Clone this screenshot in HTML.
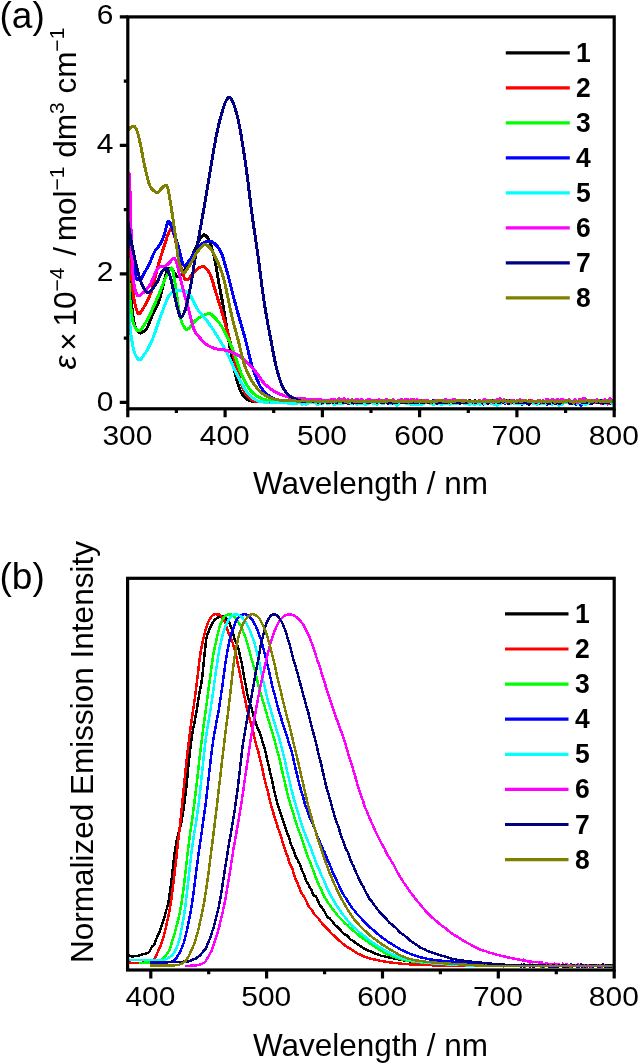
<!DOCTYPE html>
<html lang="en"><head><meta charset="utf-8"><title>Absorption and emission spectra</title>
<style>html,body{margin:0;padding:0;background:#fff}body{width:638px;height:1063px;overflow:hidden}svg{display:block;will-change:transform}text{font-family:"Liberation Sans",Arial,Helvetica,sans-serif;fill:#000}.tk{font-size:28px}.ttl{font-size:31.5px}.pl{font-size:37px}.lg{font-size:26.5px;font-weight:bold}.ax{stroke:#000;stroke-width:3.20;fill:none;stroke-linecap:butt}.ca{fill:none;stroke-width:3.00;stroke-linejoin:round;stroke-linecap:butt}.cb{fill:none;stroke-width:2.50;stroke-linejoin:round;stroke-linecap:butt}</style></head><body>
<svg width="638" height="1063" viewBox="0 0 638 1063">
<rect width="638" height="1063" fill="#fff"/>
<g id="panel-a">
<clipPath id="ca"><rect x="127.8" y="16.9" width="486.40000000000003" height="391.90000000000003"/></clipPath>
<g clip-path="url(#ca)" shape-rendering="crispEdges">
<path class="ca" stroke="#000000" d="M128.0,262.0 L128.5,269.5 L129.0,276.7 L129.5,283.5 L130.0,289.7 L130.5,295.2 L131.0,300.0 L131.5,304.3 L132.0,308.5 L132.5,312.5 L133.0,316.2 L133.5,319.5 L134.0,322.2 L134.5,324.5 L135.0,326.0 L135.5,327.2 L136.0,328.2 L136.5,329.2 L137.0,330.2 L137.5,331.0 L138.0,331.7 L138.5,332.2 L139.0,332.6 L139.5,332.9 L140.0,333.0 L140.5,333.0 L141.0,332.9 L141.5,332.7 L142.0,332.5 L142.5,332.2 L143.0,331.9 L143.5,331.5 L144.0,331.1 L144.5,330.7 L145.0,330.2 L145.5,329.7 L146.0,329.2 L146.5,328.7 L147.0,328.1 L147.5,327.2 L148.0,326.2 L148.5,325.0 L149.0,323.7 L149.5,322.3 L150.0,320.9 L150.5,319.6 L151.0,318.3 L151.5,317.2 L152.0,316.1 L152.5,315.0 L153.0,314.0 L153.5,313.0 L154.0,312.0 L154.5,311.0 L155.0,310.1 L155.5,309.1 L156.0,308.1 L156.5,307.0 L157.0,305.9 L157.5,304.8 L158.0,303.6 L158.5,302.3 L159.0,301.0 L159.5,299.5 L160.0,297.8 L160.5,296.0 L161.0,294.1 L161.5,292.0 L162.0,289.9 L162.5,287.8 L163.0,285.8 L163.5,283.8 L164.0,282.0 L164.5,280.1 L165.0,278.1 L165.5,275.9 L166.0,273.9 L166.5,272.1 L167.0,270.5 L167.5,269.5 L168.0,269.0 L168.5,268.9 L169.0,268.7 L169.5,268.6 L170.0,268.6 L170.5,268.5 L171.0,268.5 L171.5,268.7 L172.0,269.1 L172.5,269.8 L173.0,270.6 L173.5,271.3 L174.0,272.0 L174.5,272.7 L175.0,273.5 L175.5,274.3 L176.0,275.1 L176.5,275.8 L177.0,276.4 L177.5,276.9 L178.0,277.0 L178.5,276.9 L179.0,276.7 L179.5,276.3 L180.0,275.8 L180.5,275.3 L181.0,274.6 L181.5,274.0 L182.0,273.3 L182.5,272.6 L183.0,272.0 L183.5,271.4 L184.0,270.7 L184.5,270.0 L185.0,269.3 L185.5,268.6 L186.0,267.8 L186.5,267.0 L187.0,266.2 L187.5,265.3 L188.0,264.5 L188.5,263.6 L189.0,262.7 L189.5,261.8 L190.0,260.8 L190.5,259.7 L191.0,258.7 L191.5,257.6 L192.0,256.4 L192.5,255.3 L193.0,254.1 L193.5,252.9 L194.0,251.7 L194.5,250.6 L195.0,249.4 L195.5,248.3 L196.0,247.2 L196.5,246.1 L197.0,245.1 L197.5,244.0 L198.0,243.0 L198.5,241.9 L199.0,240.9 L199.5,239.9 L200.0,239.0 L200.5,238.2 L201.0,237.5 L201.5,236.9 L202.0,236.2 L202.5,235.7 L203.0,235.2 L203.5,234.9 L204.0,234.8 L204.5,234.9 L205.0,235.2 L205.5,235.5 L206.0,236.0 L206.5,236.5 L207.0,237.0 L207.5,237.6 L208.0,238.4 L208.5,239.3 L209.0,240.3 L209.5,241.5 L210.0,242.8 L210.5,244.2 L211.0,245.6 L211.5,247.2 L212.0,248.9 L212.5,250.6 L213.0,252.3 L213.5,254.2 L214.0,256.0 L214.5,258.1 L215.0,260.4 L215.5,263.1 L216.0,265.9 L216.5,268.9 L217.0,272.0 L217.5,275.1 L218.0,278.1 L218.5,281.0 L219.0,283.8 L219.5,286.5 L220.0,289.1 L220.5,291.7 L221.0,294.3 L221.5,296.9 L222.0,299.6 L222.5,302.3 L223.0,305.0 L223.5,307.8 L224.0,310.7 L224.5,313.7 L225.0,316.8 L225.5,319.9 L226.0,323.1 L226.5,326.3 L227.0,329.5 L227.5,332.7 L228.0,335.8 L228.5,338.9 L229.0,341.9 L229.5,344.8 L230.0,347.6 L230.5,350.3 L231.0,353.1 L231.5,355.8 L232.0,358.5 L232.5,361.1 L233.0,363.7 L233.5,366.2 L234.0,368.6 L234.5,370.9 L235.0,373.0 L235.5,375.0 L236.0,376.9 L236.5,378.7 L237.0,380.5 L237.5,382.3 L238.0,384.0 L238.5,385.6 L239.0,387.1 L239.5,388.5 L240.0,389.8 L240.5,391.0 L241.0,392.1 L241.5,393.0 L242.0,393.8 L242.5,394.6 L243.0,395.3 L243.5,396.0 L244.0,396.6 L244.5,397.1 L245.0,397.7 L245.5,398.1 L246.0,398.5 L246.5,398.9 L247.0,399.2 L247.5,399.6 L248.0,399.9 L248.5,400.2 L249.0,400.5 L249.5,400.7 L250.0,400.8 L250.5,401.0 L251.0,401.0 L251.5,401.1 L252.0,401.1 L252.5,401.1 L253.0,401.2 L253.5,401.2 L254.0,401.3 L254.5,401.3 L255.0,401.3 L255.5,401.3 L256.0,401.4 L256.5,401.4 L257.0,401.4 L257.5,401.4 L258.0,401.4 L258.5,401.5 L259.0,401.5 L259.5,401.5 L260.0,401.5 L260.5,401.5 L261.0,401.5 L261.5,401.5 L262.0,401.5 L263.0,401.6 L264.0,401.5 L265.0,401.3 L266.0,401.4 L267.0,401.4 L268.0,401.7 L269.0,402.0 L270.0,401.6 L271.0,401.6 L272.0,401.8 L273.0,401.9 L274.0,401.8 L275.0,401.6 L276.0,401.8 L277.0,401.9 L278.0,401.5 L279.0,401.5 L280.0,401.2 L281.0,401.2 L282.0,401.3 L283.0,401.6 L284.0,401.6 L285.0,401.9 L286.0,401.9 L287.0,401.7 L288.0,401.2 L289.0,401.6 L290.0,401.9 L291.0,401.8 L292.0,401.5 L293.0,401.6 L294.0,401.6 L295.0,401.7 L296.0,402.1 L297.0,401.8 L298.0,402.0 L299.0,402.1 L300.0,401.9 L301.0,401.9 L302.0,402.0 L303.0,401.9 L304.0,401.7 L305.0,402.0 L306.0,402.2 L307.0,401.8 L308.0,402.1 L309.0,402.0 L310.0,402.0 L311.0,402.5 L312.0,402.3 L313.0,401.7 L314.0,401.9 L315.0,402.1 L316.0,402.1 L317.0,402.2 L318.0,402.1 L319.0,402.3 L320.0,402.4 L321.0,402.0 L322.0,401.9 L323.0,401.9 L324.0,401.9 L325.0,401.6 L326.0,401.7 L327.0,402.0 L328.0,402.3 L329.0,402.3 L330.0,401.6 L331.0,401.7 L332.0,401.9 L333.0,401.4 L334.0,401.7 L335.0,402.0 L336.0,402.4 L337.0,402.3 L338.0,401.9 L339.0,401.8 L340.0,402.0 L341.0,402.4 L342.0,402.0 L343.0,401.9 L344.0,402.1 L345.0,402.0 L346.0,401.8 L347.0,401.6 L348.0,401.8 L349.0,402.0 L350.0,402.4 L351.0,402.3 L352.0,402.1 L353.0,402.2 L354.0,402.1 L355.0,402.3 L356.0,402.2 L357.0,402.0 L358.0,401.7 L359.0,401.8 L360.0,401.3 L361.0,401.1 L362.0,401.6 L363.0,401.7 L364.0,402.2 L365.0,402.7 L366.0,401.9 L367.0,401.7 L368.0,402.1 L369.0,402.2 L370.0,402.0 L371.0,402.0 L372.0,402.3 L373.0,402.1 L374.0,401.7 L375.0,401.9 L376.0,401.9 L377.0,401.7 L378.0,401.9 L379.0,401.8 L380.0,402.3 L381.0,402.2 L382.0,402.0 L383.0,401.8 L384.0,401.7 L385.0,401.2 L386.0,401.4 L387.0,401.8 L388.0,401.4 L389.0,401.8 L390.0,401.6 L391.0,402.0 L392.0,401.9 L393.0,402.2 L394.0,402.0 L395.0,401.6 L396.0,402.4 L397.0,402.6 L398.0,402.1 L399.0,401.9 L400.0,401.8 L401.0,401.8 L402.0,402.2 L403.0,401.9 L404.0,401.8 L405.0,401.6 L406.0,401.5 L407.0,401.6 L408.0,402.3 L409.0,402.2 L410.0,402.3 L411.0,402.0 L412.0,401.7 L413.0,401.7 L414.0,401.8 L415.0,401.9 L416.0,401.8 L417.0,401.7 L418.0,401.3 L419.0,401.7 L420.0,402.4 L421.0,401.8 L422.0,401.6 L423.0,402.2 L424.0,402.4 L425.0,401.6 L426.0,401.7 L427.0,401.5 L428.0,401.3 L429.0,402.1 L430.0,402.1 L431.0,401.9 L432.0,401.8 L433.0,402.0 L434.0,401.8 L435.0,401.7 L436.0,401.4 L437.0,401.6 L438.0,402.3 L439.0,402.0 L440.0,402.0 L441.0,402.0 L442.0,401.8 L443.0,401.8 L444.0,402.1 L445.0,401.9 L446.0,401.9 L447.0,402.1 L448.0,402.6 L449.0,402.5 L450.0,402.2 L451.0,401.6 L452.0,401.5 L453.0,402.3 L454.0,402.5 L455.0,402.1 L456.0,402.3 L457.0,402.5 L458.0,402.6 L459.0,402.4 L460.0,402.1 L461.0,402.4 L462.0,401.8 L463.0,402.3 L464.0,402.4 L465.0,402.7 L466.0,403.1 L467.0,402.7 L468.0,401.5 L469.0,401.2 L470.0,402.0 L471.0,401.7 L472.0,402.0 L473.0,402.1 L474.0,401.1 L475.0,400.9 L476.0,401.8 L477.0,402.0 L478.0,401.9 L479.0,401.9 L480.0,401.4 L481.0,401.2 L482.0,401.6 L483.0,401.3 L484.0,401.2 L485.0,402.0 L486.0,402.1 L487.0,402.0 L488.0,401.5 L489.0,401.4 L490.0,401.3 L491.0,401.5 L492.0,401.8 L493.0,401.7 L494.0,402.1 L495.0,402.5 L496.0,402.7 L497.0,401.8 L498.0,402.2 L499.0,402.1 L500.0,401.8 L501.0,401.3 L502.0,401.7 L503.0,402.3 L504.0,402.1 L505.0,402.0 L506.0,402.1 L507.0,402.5 L508.0,401.8 L509.0,400.9 L510.0,401.1 L511.0,400.5 L512.0,400.1 L513.0,401.5 L514.0,402.5 L515.0,402.0 L516.0,401.3 L517.0,401.6 L518.0,402.4 L519.0,402.3 L520.0,402.0 L521.0,402.0 L522.0,402.1 L523.0,402.5 L524.0,402.4 L525.0,402.0 L526.0,401.6 L527.0,402.0 L528.0,401.9 L529.0,402.2 L530.0,401.6 L531.0,401.7 L532.0,401.8 L533.0,401.6 L534.0,402.8 L535.0,402.9 L536.0,402.1 L537.0,402.4 L538.0,401.9 L539.0,400.8 L540.0,401.7 L541.0,402.0 L542.0,401.9 L543.0,401.4 L544.0,401.7 L545.0,402.1 L546.0,402.6 L547.0,402.4 L548.0,402.3 L549.0,402.7 L550.0,401.9 L551.0,401.4 L552.0,401.3 L553.0,402.6 L554.0,402.9 L555.0,402.7 L556.0,402.5 L557.0,402.2 L558.0,402.1 L559.0,401.9 L560.0,401.9 L561.0,402.2 L562.0,402.9 L563.0,402.5 L564.0,402.0 L565.0,401.6 L566.0,401.9 L567.0,402.8 L568.0,402.5 L569.0,402.1 L570.0,401.6 L571.0,401.4 L572.0,401.9 L573.0,402.4 L574.0,401.9 L575.0,401.8 L576.0,401.9 L577.0,401.7 L578.0,401.2 L579.0,401.5 L580.0,401.7 L581.0,402.2 L582.0,401.9 L583.0,402.4 L584.0,402.8 L585.0,402.0 L586.0,401.7 L587.0,402.0 L588.0,401.9 L589.0,401.6 L590.0,402.4 L591.0,403.1 L592.0,402.2 L593.0,401.7 L594.0,401.5 L595.0,401.8 L596.0,401.2 L597.0,401.4 L598.0,402.3 L599.0,401.9 L600.0,402.7 L601.0,403.1 L602.0,402.5 L603.0,402.7 L604.0,403.1 L605.0,402.1 L606.0,401.4 L607.0,401.2 L608.0,402.0 L609.0,403.0 L610.0,402.6 L611.0,401.5 L612.0,401.3 L613.0,401.6"/>
<path class="ca" stroke="#ff0000" d="M128.0,228.0 L128.5,236.0 L129.0,243.6 L129.5,250.9 L130.0,257.8 L130.5,264.2 L131.0,270.0 L131.5,275.6 L132.0,281.1 L132.5,286.5 L133.0,291.4 L133.5,295.7 L134.0,299.3 L134.5,302.0 L135.0,304.1 L135.5,306.1 L136.0,308.0 L136.5,309.7 L137.0,311.1 L137.5,312.3 L138.0,313.2 L138.5,313.6 L139.0,313.7 L139.5,313.5 L140.0,313.1 L140.5,312.6 L141.0,311.9 L141.5,311.2 L142.0,310.4 L142.5,309.5 L143.0,308.7 L143.5,307.8 L144.0,307.0 L144.5,306.2 L145.0,305.4 L145.5,304.6 L146.0,303.7 L146.5,302.8 L147.0,301.8 L147.5,300.8 L148.0,299.8 L148.5,298.7 L149.0,297.6 L149.5,296.4 L150.0,295.2 L150.5,293.8 L151.0,292.4 L151.5,290.8 L152.0,289.1 L152.5,287.4 L153.0,285.6 L153.5,283.7 L154.0,281.8 L154.5,279.8 L155.0,277.9 L155.5,275.9 L156.0,273.9 L156.5,271.9 L157.0,270.0 L157.5,268.1 L158.0,266.2 L158.5,264.4 L159.0,262.7 L159.5,261.0 L160.0,259.4 L160.5,257.7 L161.0,256.1 L161.5,254.5 L162.0,252.9 L162.5,251.3 L163.0,249.7 L163.5,248.1 L164.0,246.6 L164.5,245.0 L165.0,243.5 L165.5,242.0 L166.0,240.5 L166.5,238.9 L167.0,237.3 L167.5,235.8 L168.0,234.3 L168.5,233.1 L169.0,232.0 L169.5,231.0 L170.0,230.0 L170.5,229.3 L171.0,229.0 L171.5,229.2 L172.0,229.9 L172.5,230.8 L173.0,231.9 L173.5,233.0 L174.0,234.3 L174.5,236.0 L175.0,237.9 L175.5,240.1 L176.0,242.4 L176.5,244.8 L177.0,247.3 L177.5,249.7 L178.0,252.0 L178.5,254.4 L179.0,256.9 L179.5,259.6 L180.0,262.2 L180.5,264.8 L181.0,267.2 L181.5,269.3 L182.0,271.0 L182.5,272.6 L183.0,274.1 L183.5,275.6 L184.0,277.0 L184.5,278.2 L185.0,279.2 L185.5,279.8 L186.0,280.0 L186.5,279.9 L187.0,279.8 L187.5,279.5 L188.0,279.1 L188.5,278.7 L189.0,278.2 L189.5,277.7 L190.0,277.1 L190.5,276.6 L191.0,276.0 L191.5,275.5 L192.0,275.0 L192.5,274.5 L193.0,273.9 L193.5,273.3 L194.0,272.7 L194.5,272.1 L195.0,271.5 L195.5,270.8 L196.0,270.3 L196.5,269.7 L197.0,269.2 L197.5,268.8 L198.0,268.5 L198.5,268.2 L199.0,267.9 L199.5,267.7 L200.0,267.4 L200.5,267.2 L201.0,267.0 L201.5,266.8 L202.0,266.7 L202.5,266.6 L203.0,266.6 L203.5,266.7 L204.0,266.8 L204.5,267.1 L205.0,267.4 L205.5,267.9 L206.0,268.4 L206.5,268.9 L207.0,269.6 L207.5,270.2 L208.0,270.9 L208.5,271.7 L209.0,272.4 L209.5,273.2 L210.0,274.1 L210.5,275.2 L211.0,276.4 L211.5,277.9 L212.0,279.4 L212.5,281.0 L213.0,282.7 L213.5,284.5 L214.0,286.3 L214.5,288.0 L215.0,289.7 L215.5,291.4 L216.0,292.9 L216.5,294.5 L217.0,296.1 L217.5,297.7 L218.0,299.3 L218.5,301.0 L219.0,302.6 L219.5,304.2 L220.0,305.9 L220.5,307.6 L221.0,309.2 L221.5,310.9 L222.0,312.6 L222.5,314.3 L223.0,316.0 L223.5,317.7 L224.0,319.4 L224.5,321.2 L225.0,322.9 L225.5,324.6 L226.0,326.4 L226.5,328.2 L227.0,329.9 L227.5,331.7 L228.0,333.6 L228.5,335.4 L229.0,337.2 L229.5,339.1 L230.0,341.0 L230.5,342.9 L231.0,345.0 L231.5,347.0 L232.0,349.2 L232.5,351.3 L233.0,353.5 L233.5,355.7 L234.0,357.8 L234.5,360.0 L235.0,362.1 L235.5,364.1 L236.0,366.2 L236.5,368.1 L237.0,369.9 L237.5,371.7 L238.0,373.3 L238.5,375.0 L239.0,376.7 L239.5,378.3 L240.0,380.0 L240.5,381.6 L241.0,383.1 L241.5,384.6 L242.0,386.0 L242.5,387.4 L243.0,388.7 L243.5,389.9 L244.0,391.0 L244.5,391.9 L245.0,392.8 L245.5,393.6 L246.0,394.3 L246.5,395.0 L247.0,395.6 L247.5,396.2 L248.0,396.8 L248.5,397.3 L249.0,397.7 L249.5,398.1 L250.0,398.5 L250.5,398.8 L251.0,399.2 L251.5,399.5 L252.0,399.9 L252.5,400.2 L253.0,400.5 L253.5,400.8 L254.0,401.0 L254.5,401.2 L255.0,401.4 L255.5,401.5 L256.0,401.6 L256.5,401.6 L257.0,401.6 L257.5,401.6 L258.0,401.6 L258.5,401.6 L259.0,401.6 L259.5,401.6 L260.0,401.6 L260.5,401.6 L261.0,401.6 L261.5,401.6 L262.0,401.6 L262.5,401.6 L263.0,401.6 L263.5,401.6 L264.0,401.6 L264.5,401.5 L265.0,401.5 L265.5,401.5 L266.0,401.6 L267.0,401.5 L268.0,401.6 L269.0,401.6 L270.0,401.4 L271.0,401.5 L272.0,401.5 L273.0,401.5 L274.0,401.8 L275.0,402.1 L276.0,401.9 L277.0,401.4 L278.0,401.0 L279.0,401.3 L280.0,400.8 L281.0,401.0 L282.0,401.7 L283.0,401.8 L284.0,401.4 L285.0,400.9 L286.0,401.1 L287.0,401.3 L288.0,401.9 L289.0,402.3 L290.0,401.7 L291.0,401.2 L292.0,401.1 L293.0,401.3 L294.0,401.3 L295.0,401.1 L296.0,401.3 L297.0,401.3 L298.0,401.8 L299.0,402.1 L300.0,401.9 L301.0,401.5 L302.0,401.6 L303.0,401.5 L304.0,401.3 L305.0,401.2 L306.0,400.9 L307.0,401.0 L308.0,401.6 L309.0,401.5 L310.0,401.7 L311.0,401.7 L312.0,401.0 L313.0,401.1 L314.0,401.5 L315.0,401.6 L316.0,401.5 L317.0,401.8 L318.0,401.6 L319.0,401.0 L320.0,401.1 L321.0,401.7 L322.0,401.5 L323.0,401.1 L324.0,401.8 L325.0,402.0 L326.0,402.0 L327.0,401.5 L328.0,401.2 L329.0,401.4 L330.0,402.2 L331.0,401.9 L332.0,402.0 L333.0,401.5 L334.0,401.3 L335.0,400.9 L336.0,401.3 L337.0,401.7 L338.0,401.3 L339.0,401.8 L340.0,401.6 L341.0,401.1 L342.0,401.1 L343.0,401.3 L344.0,401.4 L345.0,401.2 L346.0,401.1 L347.0,401.2 L348.0,400.9 L349.0,400.9 L350.0,401.4 L351.0,401.6 L352.0,401.0 L353.0,401.2 L354.0,401.1 L355.0,401.2 L356.0,401.6 L357.0,401.6 L358.0,401.9 L359.0,401.4 L360.0,401.5 L361.0,401.4 L362.0,401.3 L363.0,401.6 L364.0,401.6 L365.0,401.7 L366.0,401.4 L367.0,401.1 L368.0,401.3 L369.0,401.6 L370.0,401.8 L371.0,401.3 L372.0,401.1 L373.0,400.9 L374.0,401.4 L375.0,400.9 L376.0,400.6 L377.0,401.4 L378.0,401.7 L379.0,400.9 L380.0,400.8 L381.0,400.9 L382.0,401.0 L383.0,401.4 L384.0,401.1 L385.0,401.2 L386.0,401.5 L387.0,401.3 L388.0,401.4 L389.0,401.0 L390.0,400.6 L391.0,400.8 L392.0,402.0 L393.0,401.7 L394.0,401.6 L395.0,401.5 L396.0,401.6 L397.0,401.8 L398.0,402.2 L399.0,401.1 L400.0,400.5 L401.0,400.7 L402.0,400.9 L403.0,401.7 L404.0,401.8 L405.0,401.0 L406.0,400.7 L407.0,401.3 L408.0,401.6 L409.0,400.6 L410.0,401.2 L411.0,401.3 L412.0,401.6 L413.0,401.1 L414.0,401.0 L415.0,400.7 L416.0,401.1 L417.0,402.1 L418.0,402.0 L419.0,401.3 L420.0,400.8 L421.0,400.5 L422.0,401.0 L423.0,401.4 L424.0,401.4 L425.0,401.3 L426.0,401.0 L427.0,401.3 L428.0,401.7 L429.0,402.4 L430.0,402.5 L431.0,401.6 L432.0,401.1 L433.0,401.3 L434.0,401.1 L435.0,401.1 L436.0,401.2 L437.0,401.1 L438.0,401.6 L439.0,401.6 L440.0,401.6 L441.0,401.3 L442.0,401.0 L443.0,400.9 L444.0,401.2 L445.0,401.2 L446.0,401.5 L447.0,401.3 L448.0,400.9 L449.0,401.1 L450.0,400.8 L451.0,400.9 L452.0,400.9 L453.0,400.5 L454.0,401.2 L455.0,401.6 L456.0,401.4 L457.0,401.2 L458.0,401.1 L459.0,400.9 L460.0,401.1 L461.0,401.2 L462.0,401.3 L463.0,401.0 L464.0,401.4 L465.0,401.6 L466.0,401.4 L467.0,401.3 L468.0,401.4 L469.0,400.8 L470.0,401.5 L471.0,401.7 L472.0,401.7 L473.0,401.6 L474.0,401.2 L475.0,401.4 L476.0,401.9 L477.0,401.9 L478.0,401.4 L479.0,400.9 L480.0,401.7 L481.0,402.4 L482.0,402.3 L483.0,401.5 L484.0,400.9 L485.0,401.7 L486.0,401.1 L487.0,400.2 L488.0,401.0 L489.0,400.6 L490.0,400.5 L491.0,401.2 L492.0,402.0 L493.0,401.6 L494.0,401.9 L495.0,402.7 L496.0,402.6 L497.0,401.7 L498.0,401.1 L499.0,400.7 L500.0,401.0 L501.0,401.7 L502.0,401.8 L503.0,401.8 L504.0,401.9 L505.0,401.3 L506.0,401.5 L507.0,402.0 L508.0,402.1 L509.0,402.3 L510.0,401.9 L511.0,401.5 L512.0,401.5 L513.0,400.7 L514.0,400.5 L515.0,401.5 L516.0,401.6 L517.0,401.3 L518.0,400.6 L519.0,400.9 L520.0,400.9 L521.0,400.5 L522.0,400.0 L523.0,401.1 L524.0,402.0 L525.0,401.8 L526.0,401.2 L527.0,401.5 L528.0,401.4 L529.0,400.1 L530.0,401.0 L531.0,401.9 L532.0,402.3 L533.0,402.8 L534.0,402.5 L535.0,402.0 L536.0,401.9 L537.0,401.9 L538.0,401.3 L539.0,401.5 L540.0,402.4 L541.0,402.8 L542.0,401.8 L543.0,401.5 L544.0,401.9 L545.0,402.3 L546.0,402.0 L547.0,402.2 L548.0,401.2 L549.0,401.2 L550.0,401.5 L551.0,402.1 L552.0,402.0 L553.0,400.6 L554.0,400.7 L555.0,401.4 L556.0,400.9 L557.0,400.7 L558.0,401.9 L559.0,402.1 L560.0,401.8 L561.0,401.5 L562.0,402.0 L563.0,401.8 L564.0,401.9 L565.0,401.0 L566.0,400.8 L567.0,401.3 L568.0,401.3 L569.0,401.8 L570.0,401.6 L571.0,401.0 L572.0,401.3 L573.0,401.5 L574.0,401.9 L575.0,401.2 L576.0,401.3 L577.0,402.6 L578.0,403.5 L579.0,403.2 L580.0,402.0 L581.0,402.0 L582.0,402.5 L583.0,401.5 L584.0,400.9 L585.0,401.5 L586.0,401.6 L587.0,400.7 L588.0,400.0 L589.0,400.4 L590.0,401.5 L591.0,401.1 L592.0,401.3 L593.0,401.7 L594.0,401.9 L595.0,401.5 L596.0,401.6 L597.0,401.0 L598.0,400.9 L599.0,401.0 L600.0,402.0 L601.0,401.6 L602.0,400.9 L603.0,401.1 L604.0,401.4 L605.0,401.6 L606.0,400.4 L607.0,400.4 L608.0,401.6 L609.0,403.3 L610.0,402.6 L611.0,401.8 L612.0,402.4 L613.0,403.0"/>
<path class="ca" stroke="#00ff00" d="M128.0,258.0 L128.5,270.9 L129.0,282.9 L129.5,293.0 L130.0,300.0 L130.5,304.9 L131.0,309.3 L131.5,313.2 L132.0,316.6 L132.5,319.4 L133.0,321.8 L133.5,323.7 L134.0,325.0 L134.5,326.0 L135.0,327.0 L135.5,327.9 L136.0,328.7 L136.5,329.4 L137.0,330.0 L137.5,330.5 L138.0,330.8 L138.5,331.0 L139.0,331.0 L139.5,330.9 L140.0,330.6 L140.5,330.2 L141.0,329.7 L141.5,329.1 L142.0,328.5 L142.5,327.7 L143.0,327.0 L143.5,326.2 L144.0,325.3 L144.5,324.5 L145.0,323.6 L145.5,322.8 L146.0,322.0 L146.5,321.2 L147.0,320.3 L147.5,319.4 L148.0,318.5 L148.5,317.5 L149.0,316.4 L149.5,315.4 L150.0,314.3 L150.5,313.2 L151.0,312.2 L151.5,311.1 L152.0,310.0 L152.5,308.9 L153.0,307.8 L153.5,306.7 L154.0,305.6 L154.5,304.5 L155.0,303.3 L155.5,302.2 L156.0,301.0 L156.5,299.8 L157.0,298.7 L157.5,297.5 L158.0,296.3 L158.5,295.2 L159.0,294.0 L159.5,292.8 L160.0,291.6 L160.5,290.4 L161.0,289.1 L161.5,287.8 L162.0,286.5 L162.5,285.2 L163.0,284.0 L163.5,282.7 L164.0,281.5 L164.5,280.3 L165.0,279.1 L165.5,278.0 L166.0,276.9 L166.5,275.9 L167.0,275.0 L167.5,274.1 L168.0,273.1 L168.5,272.1 L169.0,271.1 L169.5,270.2 L170.0,269.4 L170.5,268.7 L171.0,268.3 L171.5,268.0 L172.0,268.2 L172.5,269.4 L173.0,271.5 L173.5,274.1 L174.0,277.1 L174.5,280.1 L175.0,283.0 L175.5,286.0 L176.0,289.4 L176.5,293.2 L177.0,297.1 L177.5,301.0 L178.0,304.8 L178.5,308.4 L179.0,311.5 L179.5,314.1 L180.0,316.1 L180.5,318.0 L181.0,319.8 L181.5,321.4 L182.0,322.8 L182.5,324.0 L183.0,325.0 L183.5,325.9 L184.0,326.7 L184.5,327.6 L185.0,328.3 L185.5,328.8 L186.0,329.2 L186.5,329.4 L187.0,329.4 L187.5,329.2 L188.0,328.9 L188.5,328.6 L189.0,328.2 L189.5,327.7 L190.0,327.1 L190.5,326.5 L191.0,325.9 L191.5,325.2 L192.0,324.5 L192.5,323.9 L193.0,323.2 L193.5,322.6 L194.0,322.0 L194.5,321.4 L195.0,321.0 L195.5,320.6 L196.0,320.1 L196.5,319.7 L197.0,319.3 L197.5,318.9 L198.0,318.5 L198.5,318.1 L199.0,317.8 L199.5,317.4 L200.0,317.1 L200.5,316.8 L201.0,316.5 L201.5,316.2 L202.0,316.0 L202.5,315.8 L203.0,315.6 L203.5,315.3 L204.0,315.1 L204.5,314.9 L205.0,314.7 L205.5,314.5 L206.0,314.3 L206.5,314.2 L207.0,314.0 L207.5,313.9 L208.0,313.8 L208.5,313.7 L209.0,313.7 L209.5,313.7 L210.0,313.8 L210.5,314.0 L211.0,314.3 L211.5,314.6 L212.0,315.1 L212.5,315.5 L213.0,316.0 L213.5,316.5 L214.0,317.0 L214.5,317.5 L215.0,318.0 L215.5,318.5 L216.0,319.0 L216.5,319.5 L217.0,320.1 L217.5,320.7 L218.0,321.3 L218.5,321.9 L219.0,322.6 L219.5,323.3 L220.0,324.0 L220.5,324.7 L221.0,325.5 L221.5,326.2 L222.0,327.0 L222.5,327.9 L223.0,328.7 L223.5,329.6 L224.0,330.5 L224.5,331.5 L225.0,332.4 L225.5,333.4 L226.0,334.4 L226.5,335.4 L227.0,336.5 L227.5,337.5 L228.0,338.6 L228.5,339.7 L229.0,340.8 L229.5,341.9 L230.0,343.0 L230.5,344.2 L231.0,345.3 L231.5,346.4 L232.0,347.6 L232.5,348.8 L233.0,350.0 L233.5,351.4 L234.0,352.7 L234.5,354.1 L235.0,355.6 L235.5,357.1 L236.0,358.6 L236.5,360.1 L237.0,361.6 L237.5,363.1 L238.0,364.6 L238.5,366.1 L239.0,367.6 L239.5,369.0 L240.0,370.4 L240.5,371.8 L241.0,373.1 L241.5,374.4 L242.0,375.6 L242.5,376.7 L243.0,377.7 L243.5,378.7 L244.0,379.7 L244.5,380.6 L245.0,381.6 L245.5,382.5 L246.0,383.4 L246.5,384.3 L247.0,385.2 L247.5,386.0 L248.0,386.9 L248.5,387.6 L249.0,388.4 L249.5,389.1 L250.0,389.8 L250.5,390.5 L251.0,391.1 L251.5,391.6 L252.0,392.2 L252.5,392.6 L253.0,393.1 L253.5,393.5 L254.0,393.9 L254.5,394.3 L255.0,394.7 L255.5,395.0 L256.0,395.4 L256.5,395.7 L257.0,396.1 L257.5,396.4 L258.0,396.7 L258.5,397.0 L259.0,397.3 L259.5,397.6 L260.0,397.8 L260.5,398.1 L261.0,398.3 L261.5,398.5 L262.0,398.7 L262.5,398.9 L263.0,399.0 L263.5,399.2 L264.0,399.3 L264.5,399.4 L265.0,399.5 L265.5,399.6 L266.0,399.7 L266.5,399.9 L267.0,400.0 L267.5,400.1 L268.0,400.2 L268.5,400.3 L269.0,400.4 L269.5,400.4 L270.0,400.5 L270.5,400.6 L271.0,400.7 L271.5,400.8 L272.0,400.9 L272.5,400.9 L273.0,401.0 L273.5,401.1 L274.0,401.1 L274.5,401.2 L275.0,401.2 L275.5,401.3 L276.0,401.3 L276.5,401.4 L277.0,401.4 L277.5,401.4 L278.0,401.5 L278.5,401.5 L279.0,401.5 L279.5,401.5 L280.0,401.4 L281.0,401.5 L282.0,401.9 L283.0,401.9 L284.0,401.8 L285.0,401.7 L286.0,402.2 L287.0,402.3 L288.0,402.0 L289.0,401.8 L290.0,401.4 L291.0,401.7 L292.0,401.8 L293.0,401.9 L294.0,402.0 L295.0,401.6 L296.0,401.4 L297.0,401.7 L298.0,401.7 L299.0,401.7 L300.0,401.7 L301.0,401.5 L302.0,401.4 L303.0,402.0 L304.0,402.2 L305.0,402.4 L306.0,402.5 L307.0,401.9 L308.0,401.4 L309.0,401.4 L310.0,401.5 L311.0,401.7 L312.0,401.7 L313.0,401.5 L314.0,401.7 L315.0,401.6 L316.0,401.9 L317.0,401.9 L318.0,401.9 L319.0,401.9 L320.0,401.8 L321.0,401.6 L322.0,401.5 L323.0,402.0 L324.0,402.7 L325.0,402.8 L326.0,402.6 L327.0,402.2 L328.0,402.0 L329.0,402.3 L330.0,402.1 L331.0,401.9 L332.0,401.9 L333.0,401.9 L334.0,401.9 L335.0,401.8 L336.0,401.6 L337.0,402.0 L338.0,402.6 L339.0,402.2 L340.0,402.0 L341.0,402.2 L342.0,402.1 L343.0,401.7 L344.0,401.9 L345.0,402.3 L346.0,402.2 L347.0,402.2 L348.0,402.4 L349.0,402.0 L350.0,401.9 L351.0,402.0 L352.0,402.2 L353.0,401.5 L354.0,401.5 L355.0,401.8 L356.0,402.2 L357.0,402.4 L358.0,402.3 L359.0,401.7 L360.0,402.0 L361.0,401.9 L362.0,401.8 L363.0,402.0 L364.0,401.6 L365.0,401.2 L366.0,401.5 L367.0,401.4 L368.0,401.7 L369.0,402.1 L370.0,402.3 L371.0,402.5 L372.0,401.9 L373.0,401.4 L374.0,401.5 L375.0,401.5 L376.0,401.6 L377.0,401.9 L378.0,401.6 L379.0,401.4 L380.0,402.0 L381.0,402.1 L382.0,402.1 L383.0,402.1 L384.0,402.2 L385.0,402.2 L386.0,402.5 L387.0,402.3 L388.0,402.2 L389.0,402.0 L390.0,401.5 L391.0,401.8 L392.0,401.9 L393.0,401.9 L394.0,401.7 L395.0,402.4 L396.0,402.1 L397.0,401.4 L398.0,401.2 L399.0,401.7 L400.0,401.9 L401.0,401.8 L402.0,401.9 L403.0,401.9 L404.0,402.0 L405.0,401.8 L406.0,402.0 L407.0,402.6 L408.0,402.9 L409.0,401.9 L410.0,401.6 L411.0,401.7 L412.0,402.0 L413.0,401.6 L414.0,401.7 L415.0,401.8 L416.0,401.5 L417.0,401.5 L418.0,401.5 L419.0,401.0 L420.0,401.2 L421.0,401.7 L422.0,402.0 L423.0,401.7 L424.0,401.3 L425.0,401.7 L426.0,402.3 L427.0,402.3 L428.0,401.9 L429.0,401.7 L430.0,402.1 L431.0,401.7 L432.0,401.4 L433.0,401.7 L434.0,402.5 L435.0,402.4 L436.0,402.4 L437.0,402.1 L438.0,402.2 L439.0,401.9 L440.0,402.2 L441.0,403.0 L442.0,402.6 L443.0,401.9 L444.0,401.9 L445.0,402.3 L446.0,402.4 L447.0,401.7 L448.0,401.2 L449.0,401.7 L450.0,402.0 L451.0,402.2 L452.0,402.6 L453.0,402.4 L454.0,402.2 L455.0,401.8 L456.0,402.5 L457.0,403.1 L458.0,402.6 L459.0,402.2 L460.0,402.3 L461.0,402.6 L462.0,401.9 L463.0,401.9 L464.0,402.3 L465.0,402.3 L466.0,402.0 L467.0,402.0 L468.0,401.9 L469.0,402.0 L470.0,401.8 L471.0,401.5 L472.0,402.0 L473.0,402.2 L474.0,401.7 L475.0,401.9 L476.0,402.1 L477.0,401.7 L478.0,401.8 L479.0,401.7 L480.0,402.7 L481.0,403.4 L482.0,403.1 L483.0,402.3 L484.0,402.3 L485.0,402.2 L486.0,402.3 L487.0,402.5 L488.0,401.8 L489.0,402.3 L490.0,402.3 L491.0,402.6 L492.0,402.2 L493.0,401.8 L494.0,402.1 L495.0,402.4 L496.0,402.2 L497.0,402.1 L498.0,401.5 L499.0,401.1 L500.0,402.2 L501.0,402.5 L502.0,402.2 L503.0,402.2 L504.0,402.4 L505.0,401.8 L506.0,401.6 L507.0,402.0 L508.0,402.3 L509.0,401.7 L510.0,402.2 L511.0,401.7 L512.0,401.6 L513.0,402.4 L514.0,402.0 L515.0,401.3 L516.0,401.8 L517.0,402.6 L518.0,402.6 L519.0,402.0 L520.0,402.2 L521.0,402.3 L522.0,401.9 L523.0,402.1 L524.0,402.0 L525.0,401.7 L526.0,401.7 L527.0,402.0 L528.0,401.9 L529.0,401.7 L530.0,401.9 L531.0,402.5 L532.0,402.4 L533.0,402.6 L534.0,402.8 L535.0,402.8 L536.0,403.0 L537.0,402.1 L538.0,402.2 L539.0,402.3 L540.0,403.1 L541.0,402.8 L542.0,401.2 L543.0,401.3 L544.0,402.3 L545.0,402.6 L546.0,402.5 L547.0,402.2 L548.0,402.3 L549.0,402.4 L550.0,402.2 L551.0,402.1 L552.0,401.2 L553.0,401.8 L554.0,401.8 L555.0,402.3 L556.0,401.9 L557.0,401.6 L558.0,401.9 L559.0,401.5 L560.0,401.1 L561.0,401.1 L562.0,401.8 L563.0,402.4 L564.0,402.6 L565.0,402.3 L566.0,402.5 L567.0,402.2 L568.0,402.1 L569.0,402.5 L570.0,402.6 L571.0,402.0 L572.0,401.8 L573.0,401.9 L574.0,401.9 L575.0,401.7 L576.0,402.3 L577.0,402.0 L578.0,402.0 L579.0,401.7 L580.0,402.1 L581.0,402.2 L582.0,402.2 L583.0,403.0 L584.0,402.8 L585.0,403.2 L586.0,402.7 L587.0,401.8 L588.0,401.8 L589.0,402.2 L590.0,402.1 L591.0,402.0 L592.0,401.5 L593.0,401.0 L594.0,401.2 L595.0,400.9 L596.0,401.7 L597.0,401.6 L598.0,401.5 L599.0,401.8 L600.0,401.9 L601.0,401.0 L602.0,400.6 L603.0,400.8 L604.0,400.5 L605.0,401.4 L606.0,402.5 L607.0,401.8 L608.0,401.9 L609.0,401.4 L610.0,401.9 L611.0,401.9 L612.0,402.0 L613.0,402.3"/>
<path class="ca" stroke="#0000ff" d="M128.0,222.7 L128.5,227.3 L129.0,231.7 L129.5,235.9 L130.0,240.1 L130.5,244.0 L131.0,247.8 L131.5,251.5 L132.0,255.0 L132.5,258.4 L133.0,261.8 L133.5,265.0 L134.0,268.0 L134.5,270.7 L135.0,273.0 L135.5,275.1 L136.0,277.2 L136.5,278.9 L137.0,279.9 L137.5,280.0 L138.0,279.9 L138.5,279.9 L139.0,279.8 L139.5,279.6 L140.0,279.4 L140.5,279.2 L141.0,279.0 L141.5,278.6 L142.0,277.8 L142.5,276.9 L143.0,275.8 L143.5,274.7 L144.0,273.7 L144.5,272.8 L145.0,271.9 L145.5,271.0 L146.0,270.0 L146.5,269.1 L147.0,268.2 L147.5,267.2 L148.0,266.3 L148.5,265.3 L149.0,264.3 L149.5,263.3 L150.0,262.3 L150.5,261.2 L151.0,260.0 L151.5,258.8 L152.0,257.6 L152.5,256.3 L153.0,255.1 L153.5,254.0 L154.0,252.9 L154.5,251.9 L155.0,251.0 L155.5,250.2 L156.0,249.5 L156.5,248.9 L157.0,248.3 L157.5,247.8 L158.0,247.2 L158.5,246.5 L159.0,245.8 L159.5,245.0 L160.0,244.2 L160.5,243.3 L161.0,242.3 L161.5,241.4 L162.0,240.3 L162.5,239.3 L163.0,238.1 L163.5,237.0 L164.0,235.7 L164.5,234.2 L165.0,232.4 L165.5,230.3 L166.0,228.2 L166.5,226.1 L167.0,224.3 L167.5,222.8 L168.0,221.7 L168.5,221.2 L169.0,221.3 L169.5,221.9 L170.0,222.8 L170.5,223.9 L171.0,225.3 L171.5,226.7 L172.0,228.2 L172.5,229.7 L173.0,231.0 L173.5,232.3 L174.0,233.6 L174.5,235.0 L175.0,236.5 L175.5,237.9 L176.0,239.4 L176.5,240.9 L177.0,242.4 L177.5,244.0 L178.0,245.5 L178.5,247.2 L179.0,249.0 L179.5,251.1 L180.0,253.2 L180.5,255.3 L181.0,257.4 L181.5,259.4 L182.0,261.3 L182.5,262.9 L183.0,264.2 L183.5,265.2 L184.0,265.7 L184.5,265.8 L185.0,265.6 L185.5,265.3 L186.0,264.8 L186.5,264.3 L187.0,263.7 L187.5,263.0 L188.0,262.3 L188.5,261.6 L189.0,261.0 L189.5,260.4 L190.0,259.7 L190.5,258.9 L191.0,258.2 L191.5,257.4 L192.0,256.6 L192.5,255.8 L193.0,255.0 L193.5,254.2 L194.0,253.4 L194.5,252.7 L195.0,252.0 L195.5,251.3 L196.0,250.6 L196.5,250.0 L197.0,249.3 L197.5,248.6 L198.0,248.0 L198.5,247.3 L199.0,246.7 L199.5,246.0 L200.0,245.5 L200.5,244.9 L201.0,244.4 L201.5,244.0 L202.0,243.6 L202.5,243.3 L203.0,243.0 L203.5,242.8 L204.0,242.6 L204.5,242.3 L205.0,242.1 L205.5,242.0 L206.0,241.8 L206.5,241.6 L207.0,241.5 L207.5,241.3 L208.0,241.2 L208.5,241.1 L209.0,241.1 L209.5,241.0 L210.0,241.0 L210.5,241.0 L211.0,241.2 L211.5,241.4 L212.0,241.7 L212.5,242.0 L213.0,242.4 L213.5,242.8 L214.0,243.2 L214.5,243.6 L215.0,244.0 L215.5,244.4 L216.0,244.9 L216.5,245.4 L217.0,246.0 L217.5,246.6 L218.0,247.2 L218.5,247.9 L219.0,248.7 L219.5,249.5 L220.0,250.3 L220.5,251.2 L221.0,252.2 L221.5,253.4 L222.0,254.7 L222.5,256.1 L223.0,257.6 L223.5,259.2 L224.0,260.9 L224.5,262.6 L225.0,264.4 L225.5,266.2 L226.0,267.9 L226.5,269.7 L227.0,271.4 L227.5,273.2 L228.0,275.1 L228.5,277.0 L229.0,279.0 L229.5,281.0 L230.0,283.0 L230.5,285.1 L231.0,287.1 L231.5,289.1 L232.0,291.1 L232.5,293.1 L233.0,295.0 L233.5,296.9 L234.0,298.8 L234.5,300.6 L235.0,302.5 L235.5,304.3 L236.0,306.1 L236.5,308.0 L237.0,309.8 L237.5,311.6 L238.0,313.4 L238.5,315.2 L239.0,317.0 L239.5,318.8 L240.0,320.5 L240.5,322.3 L241.0,324.0 L241.5,325.7 L242.0,327.4 L242.5,329.1 L243.0,330.9 L243.5,332.6 L244.0,334.4 L244.5,336.2 L245.0,338.0 L245.5,339.9 L246.0,341.8 L246.5,343.9 L247.0,345.9 L247.5,348.0 L248.0,350.2 L248.5,352.3 L249.0,354.4 L249.5,356.5 L250.0,358.5 L250.5,360.5 L251.0,362.4 L251.5,364.2 L252.0,365.8 L252.5,367.4 L253.0,368.9 L253.5,370.3 L254.0,371.7 L254.5,373.1 L255.0,374.4 L255.5,375.8 L256.0,377.0 L256.5,378.3 L257.0,379.5 L257.5,380.7 L258.0,381.8 L258.5,382.9 L259.0,384.0 L259.5,385.0 L260.0,385.9 L260.5,386.8 L261.0,387.6 L261.5,388.3 L262.0,389.0 L262.5,389.6 L263.0,390.2 L263.5,390.8 L264.0,391.4 L264.5,392.0 L265.0,392.5 L265.5,393.0 L266.0,393.5 L266.5,394.0 L267.0,394.4 L267.5,394.8 L268.0,395.2 L268.5,395.6 L269.0,396.0 L269.5,396.3 L270.0,396.7 L270.5,397.0 L271.0,397.2 L271.5,397.5 L272.0,397.7 L272.5,398.0 L273.0,398.2 L273.5,398.5 L274.0,398.7 L274.5,399.0 L275.0,399.2 L275.5,399.4 L276.0,399.7 L276.5,399.9 L277.0,400.1 L277.5,400.3 L278.0,400.5 L278.5,400.7 L279.0,400.9 L279.5,401.0 L280.0,401.2 L280.5,401.3 L281.0,401.5 L281.5,401.6 L282.0,401.7 L282.5,401.8 L283.0,401.9 L283.5,401.9 L284.0,402.0 L284.5,402.0 L285.0,402.7 L286.0,402.3 L287.0,402.0 L288.0,401.8 L289.0,402.2 L290.0,402.3 L291.0,402.5 L292.0,402.5 L293.0,402.7 L294.0,401.7 L295.0,402.0 L296.0,402.6 L297.0,402.2 L298.0,402.0 L299.0,402.0 L300.0,401.8 L301.0,402.6 L302.0,403.6 L303.0,403.1 L304.0,402.0 L305.0,401.9 L306.0,402.3 L307.0,402.7 L308.0,402.2 L309.0,402.2 L310.0,402.9 L311.0,402.9 L312.0,402.3 L313.0,401.8 L314.0,401.6 L315.0,401.7 L316.0,401.6 L317.0,402.4 L318.0,402.4 L319.0,402.9 L320.0,403.6 L321.0,403.2 L322.0,402.3 L323.0,402.9 L324.0,403.1 L325.0,402.3 L326.0,402.0 L327.0,402.1 L328.0,402.1 L329.0,402.6 L330.0,401.6 L331.0,401.7 L332.0,402.3 L333.0,402.5 L334.0,402.7 L335.0,402.7 L336.0,402.7 L337.0,402.7 L338.0,401.8 L339.0,402.1 L340.0,402.3 L341.0,402.6 L342.0,402.6 L343.0,402.1 L344.0,402.3 L345.0,402.9 L346.0,402.8 L347.0,402.6 L348.0,403.8 L349.0,403.8 L350.0,402.3 L351.0,402.9 L352.0,404.0 L353.0,403.4 L354.0,402.8 L355.0,402.4 L356.0,402.3 L357.0,402.3 L358.0,402.4 L359.0,402.8 L360.0,402.5 L361.0,402.1 L362.0,401.9 L363.0,402.2 L364.0,402.1 L365.0,402.5 L366.0,403.1 L367.0,403.0 L368.0,403.0 L369.0,402.9 L370.0,402.7 L371.0,402.5 L372.0,402.5 L373.0,402.7 L374.0,402.4 L375.0,403.1 L376.0,402.7 L377.0,402.1 L378.0,402.1 L379.0,402.2 L380.0,402.4 L381.0,402.5 L382.0,402.9 L383.0,402.0 L384.0,401.1 L385.0,401.5 L386.0,401.4 L387.0,402.4 L388.0,403.3 L389.0,402.9 L390.0,401.9 L391.0,402.3 L392.0,403.5 L393.0,403.1 L394.0,402.8 L395.0,403.6 L396.0,404.4 L397.0,403.8 L398.0,403.0 L399.0,402.9 L400.0,402.9 L401.0,402.2 L402.0,401.9 L403.0,402.3 L404.0,402.1 L405.0,402.4 L406.0,403.1 L407.0,403.8 L408.0,402.5 L409.0,402.3 L410.0,402.6 L411.0,403.0 L412.0,403.2 L413.0,402.4 L414.0,401.7 L415.0,401.3 L416.0,401.9 L417.0,402.7 L418.0,402.5 L419.0,402.0 L420.0,402.2 L421.0,402.6 L422.0,402.8 L423.0,402.3 L424.0,402.0 L425.0,401.3 L426.0,401.9 L427.0,402.9 L428.0,401.6 L429.0,402.0 L430.0,402.6 L431.0,402.3 L432.0,402.0 L433.0,402.4 L434.0,402.6 L435.0,402.2 L436.0,401.4 L437.0,402.0 L438.0,401.9 L439.0,402.1 L440.0,402.8 L441.0,403.2 L442.0,403.2 L443.0,402.7 L444.0,403.3 L445.0,403.7 L446.0,403.8 L447.0,403.7 L448.0,402.8 L449.0,402.6 L450.0,402.8 L451.0,402.0 L452.0,402.3 L453.0,402.2 L454.0,401.9 L455.0,401.2 L456.0,401.7 L457.0,402.6 L458.0,403.4 L459.0,403.4 L460.0,402.7 L461.0,402.3 L462.0,402.1 L463.0,402.6 L464.0,402.7 L465.0,403.3 L466.0,403.9 L467.0,402.6 L468.0,401.4 L469.0,401.4 L470.0,401.2 L471.0,401.8 L472.0,403.2 L473.0,402.7 L474.0,401.8 L475.0,403.0 L476.0,403.5 L477.0,402.5 L478.0,402.0 L479.0,402.3 L480.0,402.9 L481.0,403.4 L482.0,403.8 L483.0,404.0 L484.0,404.0 L485.0,403.9 L486.0,403.0 L487.0,401.7 L488.0,402.2 L489.0,402.7 L490.0,402.6 L491.0,403.1 L492.0,402.3 L493.0,402.2 L494.0,403.5 L495.0,403.4 L496.0,403.1 L497.0,403.5 L498.0,403.6 L499.0,402.5 L500.0,400.8 L501.0,401.4 L502.0,401.9 L503.0,401.8 L504.0,402.8 L505.0,403.4 L506.0,402.3 L507.0,402.2 L508.0,403.7 L509.0,402.5 L510.0,401.7 L511.0,402.6 L512.0,402.8 L513.0,402.4 L514.0,402.9 L515.0,402.2 L516.0,401.9 L517.0,402.7 L518.0,403.1 L519.0,402.4 L520.0,402.7 L521.0,403.3 L522.0,404.5 L523.0,403.1 L524.0,403.4 L525.0,402.9 L526.0,402.7 L527.0,403.3 L528.0,403.8 L529.0,403.8 L530.0,403.0 L531.0,402.1 L532.0,402.2 L533.0,403.0 L534.0,403.5 L535.0,403.9 L536.0,403.5 L537.0,403.9 L538.0,404.1 L539.0,402.7 L540.0,401.2 L541.0,401.0 L542.0,401.6 L543.0,403.2 L544.0,402.7 L545.0,403.5 L546.0,403.8 L547.0,404.3 L548.0,403.8 L549.0,402.7 L550.0,402.4 L551.0,402.7 L552.0,402.6 L553.0,402.2 L554.0,402.9 L555.0,403.4 L556.0,401.8 L557.0,402.1 L558.0,402.0 L559.0,402.7 L560.0,403.3 L561.0,403.0 L562.0,402.8 L563.0,401.8 L564.0,402.9 L565.0,402.6 L566.0,403.0 L567.0,402.2 L568.0,400.4 L569.0,401.4 L570.0,403.0 L571.0,404.0 L572.0,403.3 L573.0,402.5 L574.0,401.9 L575.0,403.9 L576.0,404.5 L577.0,403.1 L578.0,402.0 L579.0,401.5 L580.0,403.6 L581.0,405.3 L582.0,404.3 L583.0,404.0 L584.0,403.1 L585.0,402.3 L586.0,403.1 L587.0,401.9 L588.0,402.2 L589.0,403.0 L590.0,403.5 L591.0,403.3 L592.0,402.8 L593.0,401.7 L594.0,401.3 L595.0,402.1 L596.0,401.6 L597.0,400.9 L598.0,401.0 L599.0,401.3 L600.0,400.5 L601.0,400.5 L602.0,400.9 L603.0,402.4 L604.0,403.6 L605.0,404.0 L606.0,401.7 L607.0,401.8 L608.0,403.1 L609.0,402.6 L610.0,402.7 L611.0,403.9 L612.0,402.5 L613.0,401.5"/>
<path class="ca" stroke="#00ffff" d="M128.0,300.0 L128.5,307.2 L129.0,314.0 L129.5,320.4 L130.0,326.1 L130.5,331.0 L131.0,335.0 L131.5,338.3 L132.0,341.5 L132.5,344.3 L133.0,346.9 L133.5,349.2 L134.0,351.2 L134.5,352.8 L135.0,354.0 L135.5,355.0 L136.0,356.0 L136.5,356.9 L137.0,357.7 L137.5,358.5 L138.0,359.1 L138.5,359.5 L139.0,359.9 L139.5,360.0 L140.0,359.9 L140.5,359.7 L141.0,359.2 L141.5,358.6 L142.0,358.0 L142.5,357.2 L143.0,356.5 L143.5,355.7 L144.0,355.0 L144.5,354.3 L145.0,353.6 L145.5,352.8 L146.0,352.0 L146.5,351.2 L147.0,350.4 L147.5,349.5 L148.0,348.6 L148.5,347.7 L149.0,346.7 L149.5,345.8 L150.0,344.8 L150.5,343.7 L151.0,342.7 L151.5,341.6 L152.0,340.4 L152.5,339.2 L153.0,337.9 L153.5,336.6 L154.0,335.2 L154.5,333.8 L155.0,332.3 L155.5,330.9 L156.0,329.4 L156.5,327.9 L157.0,326.4 L157.5,324.9 L158.0,323.4 L158.5,322.0 L159.0,320.6 L159.5,319.2 L160.0,317.8 L160.5,316.5 L161.0,315.2 L161.5,313.9 L162.0,312.6 L162.5,311.2 L163.0,309.9 L163.5,308.5 L164.0,307.1 L164.5,305.8 L165.0,304.4 L165.5,303.1 L166.0,301.9 L166.5,300.6 L167.0,299.5 L167.5,298.4 L168.0,297.4 L168.5,296.4 L169.0,295.6 L169.5,294.9 L170.0,294.2 L170.5,293.7 L171.0,293.2 L171.5,292.7 L172.0,292.2 L172.5,291.8 L173.0,291.4 L173.5,291.1 L174.0,290.9 L174.5,290.6 L175.0,290.5 L175.5,290.4 L176.0,290.3 L176.5,290.2 L177.0,290.1 L177.5,290.1 L178.0,290.0 L178.5,290.0 L179.0,290.0 L179.5,290.0 L180.0,290.1 L180.5,290.1 L181.0,290.2 L181.5,290.3 L182.0,290.4 L182.5,290.6 L183.0,290.7 L183.5,290.9 L184.0,291.0 L184.5,291.2 L185.0,291.4 L185.5,291.6 L186.0,291.9 L186.5,292.2 L187.0,292.5 L187.5,292.8 L188.0,293.2 L188.5,293.6 L189.0,294.0 L189.5,294.5 L190.0,295.1 L190.5,295.8 L191.0,296.6 L191.5,297.4 L192.0,298.3 L192.5,299.3 L193.0,300.3 L193.5,301.3 L194.0,302.4 L194.5,303.4 L195.0,304.5 L195.5,305.5 L196.0,306.5 L196.5,307.5 L197.0,308.4 L197.5,309.2 L198.0,310.0 L198.5,310.7 L199.0,311.4 L199.5,312.1 L200.0,312.7 L200.5,313.3 L201.0,313.9 L201.5,314.5 L202.0,315.1 L202.5,315.7 L203.0,316.2 L203.5,316.8 L204.0,317.4 L204.5,318.0 L205.0,318.5 L205.5,319.1 L206.0,319.7 L206.5,320.3 L207.0,321.0 L207.5,321.6 L208.0,322.3 L208.5,323.0 L209.0,323.6 L209.5,324.3 L210.0,325.1 L210.5,325.8 L211.0,326.5 L211.5,327.2 L212.0,328.0 L212.5,328.7 L213.0,329.5 L213.5,330.3 L214.0,331.0 L214.5,331.8 L215.0,332.6 L215.5,333.4 L216.0,334.2 L216.5,335.0 L217.0,335.8 L217.5,336.6 L218.0,337.4 L218.5,338.2 L219.0,339.0 L219.5,339.9 L220.0,340.7 L220.5,341.5 L221.0,342.4 L221.5,343.2 L222.0,344.1 L222.5,344.9 L223.0,345.8 L223.5,346.7 L224.0,347.6 L224.5,348.5 L225.0,349.4 L225.5,350.3 L226.0,351.2 L226.5,352.1 L227.0,353.1 L227.5,354.0 L228.0,355.0 L228.5,356.0 L229.0,357.0 L229.5,358.1 L230.0,359.1 L230.5,360.2 L231.0,361.4 L231.5,362.5 L232.0,363.6 L232.5,364.8 L233.0,365.9 L233.5,367.1 L234.0,368.2 L234.5,369.3 L235.0,370.4 L235.5,371.5 L236.0,372.6 L236.5,373.6 L237.0,374.6 L237.5,375.6 L238.0,376.6 L238.5,377.5 L239.0,378.4 L239.5,379.4 L240.0,380.3 L240.5,381.3 L241.0,382.2 L241.5,383.1 L242.0,384.1 L242.5,385.0 L243.0,385.8 L243.5,386.7 L244.0,387.6 L244.5,388.4 L245.0,389.2 L245.5,390.0 L246.0,390.8 L246.5,391.5 L247.0,392.2 L247.5,392.8 L248.0,393.5 L248.5,394.1 L249.0,394.6 L249.5,395.1 L250.0,395.6 L250.5,396.1 L251.0,396.6 L251.5,397.0 L252.0,397.4 L252.5,397.8 L253.0,398.2 L253.5,398.6 L254.0,398.9 L254.5,399.2 L255.0,399.5 L255.5,399.8 L256.0,400.0 L256.5,400.3 L257.0,400.6 L257.5,400.8 L258.0,401.0 L258.5,401.2 L259.0,401.4 L259.5,401.5 L260.0,401.6 L260.5,401.7 L261.0,401.7 L261.5,401.8 L262.0,401.9 L262.5,401.9 L263.0,402.0 L263.5,402.0 L264.0,402.1 L264.5,402.1 L265.0,402.2 L265.5,402.2 L266.0,402.3 L266.5,402.3 L267.0,402.3 L267.5,402.4 L268.0,402.4 L268.5,402.4 L269.0,402.4 L269.5,402.5 L270.0,402.5 L270.5,402.5 L271.0,402.5 L271.5,402.5 L272.0,402.0 L273.0,402.5 L274.0,402.6 L275.0,401.9 L276.0,402.1 L277.0,402.9 L278.0,403.0 L279.0,402.7 L280.0,403.0 L281.0,402.9 L282.0,402.1 L283.0,402.5 L284.0,402.9 L285.0,402.4 L286.0,401.8 L287.0,402.6 L288.0,403.5 L289.0,403.5 L290.0,402.6 L291.0,403.7 L292.0,403.0 L293.0,403.5 L294.0,403.9 L295.0,403.7 L296.0,403.1 L297.0,402.7 L298.0,403.1 L299.0,402.5 L300.0,402.2 L301.0,404.1 L302.0,404.2 L303.0,403.9 L304.0,403.2 L305.0,403.9 L306.0,404.4 L307.0,404.1 L308.0,403.2 L309.0,402.5 L310.0,402.5 L311.0,401.8 L312.0,402.0 L313.0,402.8 L314.0,402.7 L315.0,402.9 L316.0,403.4 L317.0,404.3 L318.0,404.1 L319.0,403.6 L320.0,403.6 L321.0,402.9 L322.0,403.0 L323.0,403.4 L324.0,402.7 L325.0,402.6 L326.0,402.5 L327.0,403.3 L328.0,403.9 L329.0,403.1 L330.0,403.0 L331.0,402.6 L332.0,402.2 L333.0,402.6 L334.0,404.1 L335.0,404.8 L336.0,403.7 L337.0,403.0 L338.0,403.4 L339.0,403.3 L340.0,403.6 L341.0,403.5 L342.0,403.5 L343.0,403.5 L344.0,402.9 L345.0,402.6 L346.0,402.1 L347.0,402.4 L348.0,402.3 L349.0,402.7 L350.0,402.7 L351.0,403.2 L352.0,403.2 L353.0,402.3 L354.0,402.3 L355.0,402.7 L356.0,403.8 L357.0,404.5 L358.0,403.9 L359.0,403.4 L360.0,403.7 L361.0,402.9 L362.0,403.6 L363.0,402.6 L364.0,402.0 L365.0,404.5 L366.0,404.4 L367.0,402.9 L368.0,403.1 L369.0,403.1 L370.0,402.9 L371.0,402.2 L372.0,402.6 L373.0,403.4 L374.0,403.7 L375.0,404.0 L376.0,403.9 L377.0,404.5 L378.0,403.3 L379.0,402.8 L380.0,401.9 L381.0,402.3 L382.0,403.6 L383.0,403.0 L384.0,403.3 L385.0,403.1 L386.0,402.5 L387.0,402.7 L388.0,402.7 L389.0,402.9 L390.0,403.7 L391.0,403.6 L392.0,402.8 L393.0,402.6 L394.0,403.2 L395.0,403.4 L396.0,404.4 L397.0,405.3 L398.0,404.3 L399.0,403.3 L400.0,402.9 L401.0,402.4 L402.0,402.2 L403.0,402.3 L404.0,402.6 L405.0,403.0 L406.0,403.5 L407.0,403.1 L408.0,402.7 L409.0,402.7 L410.0,404.1 L411.0,404.3 L412.0,404.6 L413.0,404.4 L414.0,404.3 L415.0,403.5 L416.0,404.2 L417.0,404.9 L418.0,403.2 L419.0,404.1 L420.0,404.7 L421.0,404.0 L422.0,404.1 L423.0,404.1 L424.0,403.1 L425.0,403.1 L426.0,402.5 L427.0,402.4 L428.0,402.6 L429.0,403.0 L430.0,403.4 L431.0,403.2 L432.0,402.8 L433.0,404.5 L434.0,404.6 L435.0,403.9 L436.0,403.1 L437.0,403.2 L438.0,403.7 L439.0,403.2 L440.0,402.3 L441.0,404.0 L442.0,405.0 L443.0,402.8 L444.0,403.6 L445.0,403.7 L446.0,403.5 L447.0,403.9 L448.0,402.7 L449.0,403.4 L450.0,404.3 L451.0,403.3 L452.0,402.9 L453.0,403.1 L454.0,403.3 L455.0,404.0 L456.0,403.1 L457.0,403.3 L458.0,402.6 L459.0,403.4 L460.0,402.6 L461.0,401.2 L462.0,402.3 L463.0,402.3 L464.0,403.0 L465.0,404.0 L466.0,402.5 L467.0,402.5 L468.0,404.1 L469.0,404.0 L470.0,404.5 L471.0,403.6 L472.0,402.6 L473.0,403.2 L474.0,404.4 L475.0,404.2 L476.0,403.5 L477.0,403.2 L478.0,403.0 L479.0,403.2 L480.0,404.6 L481.0,403.4 L482.0,402.2 L483.0,402.7 L484.0,403.8 L485.0,403.9 L486.0,403.1 L487.0,402.6 L488.0,402.6 L489.0,401.5 L490.0,401.9 L491.0,403.4 L492.0,403.1 L493.0,403.7 L494.0,404.5 L495.0,404.1 L496.0,404.0 L497.0,405.1 L498.0,404.2 L499.0,403.3 L500.0,403.8 L501.0,403.5 L502.0,402.6 L503.0,403.0 L504.0,402.5 L505.0,401.5 L506.0,402.4 L507.0,402.8 L508.0,402.3 L509.0,401.6 L510.0,402.4 L511.0,403.1 L512.0,403.0 L513.0,402.5 L514.0,403.1 L515.0,402.3 L516.0,403.0 L517.0,404.0 L518.0,402.8 L519.0,402.9 L520.0,403.9 L521.0,403.1 L522.0,402.9 L523.0,403.6 L524.0,403.5 L525.0,401.4 L526.0,401.6 L527.0,401.8 L528.0,401.7 L529.0,401.9 L530.0,402.3 L531.0,403.0 L532.0,402.5 L533.0,403.2 L534.0,403.4 L535.0,402.7 L536.0,403.6 L537.0,404.8 L538.0,403.8 L539.0,402.7 L540.0,402.7 L541.0,402.5 L542.0,403.4 L543.0,403.8 L544.0,402.7 L545.0,403.1 L546.0,404.0 L547.0,403.1 L548.0,402.9 L549.0,402.1 L550.0,402.0 L551.0,403.1 L552.0,404.8 L553.0,403.3 L554.0,402.4 L555.0,402.5 L556.0,403.1 L557.0,403.8 L558.0,404.2 L559.0,405.2 L560.0,404.4 L561.0,404.6 L562.0,404.1 L563.0,403.4 L564.0,402.0 L565.0,402.6 L566.0,403.0 L567.0,402.3 L568.0,401.4 L569.0,403.2 L570.0,403.0 L571.0,402.6 L572.0,402.8 L573.0,403.0 L574.0,403.1 L575.0,401.9 L576.0,402.0 L577.0,403.2 L578.0,403.3 L579.0,402.7 L580.0,402.3 L581.0,402.2 L582.0,403.3 L583.0,404.0 L584.0,403.1 L585.0,404.6 L586.0,404.3 L587.0,403.3 L588.0,403.3 L589.0,401.5 L590.0,400.7 L591.0,401.3 L592.0,402.3 L593.0,402.6 L594.0,402.6 L595.0,402.5 L596.0,401.4 L597.0,402.5 L598.0,401.8 L599.0,402.0 L600.0,402.2 L601.0,401.5 L602.0,401.2 L603.0,401.8 L604.0,403.1 L605.0,403.9 L606.0,403.6 L607.0,402.2 L608.0,401.8 L609.0,402.2 L610.0,402.7 L611.0,401.8 L612.0,403.6 L613.0,403.1"/>
<path class="ca" stroke="#ff00ff" d="M128.9,172.0 L129.4,176.9 L129.9,187.0 L130.4,203.5 L130.9,224.7 L131.4,243.0 L131.9,256.7 L132.4,266.6 L132.9,273.8 L133.4,279.1 L133.9,283.1 L134.4,286.4 L134.9,289.0 L135.4,290.8 L135.9,292.3 L136.4,293.7 L136.9,294.8 L137.4,295.6 L137.9,296.0 L138.4,296.0 L138.9,295.9 L139.4,295.7 L139.9,295.4 L140.4,295.1 L140.9,294.7 L141.4,294.3 L141.9,293.9 L142.4,293.4 L142.9,293.0 L143.4,292.5 L143.9,292.1 L144.4,291.6 L144.9,291.2 L145.4,290.6 L145.9,290.1 L146.4,289.5 L146.9,288.9 L147.4,288.2 L147.9,287.6 L148.4,286.9 L148.9,286.2 L149.4,285.5 L149.9,284.7 L150.4,284.0 L150.9,283.1 L151.4,282.1 L151.9,281.0 L152.4,279.9 L152.9,278.7 L153.4,277.5 L153.9,276.3 L154.4,275.0 L154.9,273.9 L155.4,272.7 L155.9,271.6 L156.4,270.6 L156.9,269.7 L157.4,268.9 L157.9,268.3 L158.4,267.8 L158.9,267.4 L159.4,267.2 L159.9,267.1 L160.4,266.9 L160.9,266.8 L161.4,266.7 L161.9,266.6 L162.4,266.6 L162.9,266.5 L163.4,266.4 L163.9,266.3 L164.4,266.2 L164.9,266.0 L165.4,265.8 L165.9,265.6 L166.4,265.3 L166.9,264.9 L167.4,264.5 L167.9,264.1 L168.4,263.6 L168.9,263.1 L169.4,262.6 L169.9,262.1 L170.4,261.6 L170.9,261.0 L171.4,260.3 L171.9,259.7 L172.4,259.1 L172.9,258.5 L173.4,258.2 L173.9,258.0 L174.4,258.2 L174.9,258.8 L175.4,259.7 L175.9,260.9 L176.4,262.3 L176.9,263.7 L177.4,265.3 L177.9,267.4 L178.4,269.8 L178.9,272.3 L179.4,274.6 L179.9,276.7 L180.4,278.7 L180.9,280.8 L181.4,282.8 L181.9,284.7 L182.4,286.7 L182.9,288.6 L183.4,290.5 L183.9,292.4 L184.4,294.2 L184.9,296.0 L185.4,297.8 L185.9,299.6 L186.4,301.5 L186.9,303.3 L187.4,305.2 L187.9,307.0 L188.4,308.8 L188.9,310.6 L189.4,312.5 L189.9,314.4 L190.4,316.3 L190.9,318.3 L191.4,320.3 L191.9,322.3 L192.4,324.2 L192.9,326.0 L193.4,327.6 L193.9,329.1 L194.4,330.4 L194.9,331.5 L195.4,332.4 L195.9,333.2 L196.4,333.9 L196.9,334.5 L197.4,335.1 L197.9,335.7 L198.4,336.2 L198.9,336.8 L199.4,337.3 L199.9,337.9 L200.4,338.5 L200.9,339.1 L201.4,339.7 L201.9,340.2 L202.4,340.8 L202.9,341.4 L203.4,341.9 L203.9,342.4 L204.4,342.8 L204.9,343.2 L205.4,343.6 L205.9,344.0 L206.4,344.4 L206.9,344.7 L207.4,345.0 L207.9,345.4 L208.4,345.7 L208.9,346.0 L209.4,346.2 L209.9,346.5 L210.4,346.7 L210.9,347.0 L211.4,347.2 L211.9,347.4 L212.4,347.6 L212.9,347.8 L213.4,348.0 L213.9,348.1 L214.4,348.3 L214.9,348.5 L215.4,348.6 L215.9,348.8 L216.4,348.9 L216.9,349.0 L217.4,349.1 L217.9,349.2 L218.4,349.2 L218.9,349.3 L219.4,349.4 L219.9,349.4 L220.4,349.5 L220.9,349.5 L221.4,349.6 L221.9,349.6 L222.4,349.7 L222.9,349.8 L223.4,349.8 L223.9,349.9 L224.4,350.0 L224.9,350.1 L225.4,350.2 L225.9,350.3 L226.4,350.5 L226.9,350.6 L227.4,350.7 L227.9,350.9 L228.4,351.0 L228.9,351.2 L229.4,351.4 L229.9,351.5 L230.4,351.7 L230.9,351.9 L231.4,352.1 L231.9,352.3 L232.4,352.5 L232.9,352.7 L233.4,353.0 L233.9,353.2 L234.4,353.4 L234.9,353.7 L235.4,353.9 L235.9,354.1 L236.4,354.4 L236.9,354.6 L237.4,354.9 L237.9,355.2 L238.4,355.4 L238.9,355.7 L239.4,356.0 L239.9,356.4 L240.4,356.7 L240.9,357.1 L241.4,357.4 L241.9,357.8 L242.4,358.2 L242.9,358.6 L243.4,359.0 L243.9,359.4 L244.4,359.9 L244.9,360.3 L245.4,360.7 L245.9,361.2 L246.4,361.7 L246.9,362.1 L247.4,362.6 L247.9,363.1 L248.4,363.6 L248.9,364.1 L249.4,364.6 L249.9,365.1 L250.4,365.6 L250.9,366.1 L251.4,366.7 L251.9,367.2 L252.4,367.7 L252.9,368.2 L253.4,368.8 L253.9,369.3 L254.4,370.0 L254.9,370.6 L255.4,371.3 L255.9,371.9 L256.4,372.6 L256.9,373.3 L257.4,374.1 L257.9,374.8 L258.4,375.5 L258.9,376.3 L259.4,377.0 L259.9,377.7 L260.4,378.4 L260.9,379.2 L261.4,379.9 L261.9,380.5 L262.4,381.2 L262.9,381.9 L263.4,382.5 L263.9,383.1 L264.4,383.6 L264.9,384.1 L265.4,384.6 L265.9,385.1 L266.4,385.5 L266.9,385.9 L267.4,386.4 L267.9,386.8 L268.4,387.2 L268.9,387.6 L269.4,388.0 L269.9,388.3 L270.4,388.7 L270.9,389.1 L271.4,389.4 L271.9,389.8 L272.4,390.1 L272.9,390.5 L273.4,390.8 L273.9,391.1 L274.4,391.4 L274.9,391.7 L275.4,392.0 L275.9,392.2 L276.4,392.5 L276.9,392.8 L277.4,393.0 L277.9,393.2 L278.4,393.5 L278.9,393.7 L279.4,393.9 L279.9,394.1 L280.4,394.3 L280.9,394.5 L281.4,394.6 L281.9,394.8 L282.4,395.0 L282.9,395.2 L283.4,395.4 L283.9,395.6 L284.4,395.7 L284.9,395.9 L285.4,396.1 L285.9,396.2 L286.4,396.4 L286.9,396.5 L287.4,396.7 L287.9,396.8 L288.4,397.0 L288.9,397.1 L289.4,397.2 L289.9,397.3 L290.4,397.4 L290.9,397.5 L291.4,397.6 L291.9,397.7 L292.4,397.8 L292.9,397.9 L293.4,397.9 L293.9,398.0 L294.4,398.0 L294.9,398.1 L295.4,398.1 L295.9,398.2 L296.4,398.2 L296.9,398.3 L297.4,398.3 L297.9,398.4 L298.4,398.4 L298.9,398.5 L299.4,398.5 L299.9,398.6 L300.4,398.6 L300.9,398.6 L301.4,398.7 L301.9,398.7 L302.4,398.8 L302.9,398.8 L303.4,398.8 L303.9,398.9 L304.4,398.9 L304.9,398.9 L305.4,399.0 L305.9,399.0 L306.4,399.0 L306.9,399.1 L307.4,399.1 L307.9,399.1 L308.4,399.2 L308.9,399.2 L309.4,399.2 L309.9,399.2 L310.4,399.3 L310.9,399.3 L311.4,399.3 L311.9,399.3 L312.4,399.4 L312.9,399.4 L313.4,399.4 L313.9,399.4 L314.4,399.4 L314.9,399.4 L315.4,399.4 L315.9,399.5 L316.4,399.5 L316.9,399.5 L317.4,399.5 L317.9,399.5 L318.4,399.5 L318.9,399.5 L319.4,399.5 L319.9,399.5 L320.0,399.2 L321.0,399.7 L322.0,400.2 L323.0,400.1 L324.0,400.2 L325.0,400.1 L326.0,400.6 L327.0,400.5 L328.0,400.1 L329.0,400.5 L330.0,400.1 L331.0,399.7 L332.0,399.3 L333.0,399.6 L334.0,400.0 L335.0,399.4 L336.0,400.1 L337.0,400.3 L338.0,399.7 L339.0,398.7 L340.0,399.6 L341.0,400.2 L342.0,399.7 L343.0,399.5 L344.0,398.8 L345.0,399.9 L346.0,400.0 L347.0,400.1 L348.0,399.3 L349.0,400.1 L350.0,400.3 L351.0,400.4 L352.0,399.7 L353.0,400.1 L354.0,401.2 L355.0,400.0 L356.0,399.6 L357.0,399.7 L358.0,399.8 L359.0,401.1 L360.0,401.4 L361.0,399.8 L362.0,399.3 L363.0,400.9 L364.0,401.4 L365.0,401.3 L366.0,401.0 L367.0,400.0 L368.0,399.8 L369.0,399.2 L370.0,399.4 L371.0,400.6 L372.0,400.7 L373.0,401.7 L374.0,400.8 L375.0,400.2 L376.0,401.2 L377.0,401.9 L378.0,400.9 L379.0,399.8 L380.0,400.7 L381.0,401.3 L382.0,400.3 L383.0,400.1 L384.0,401.0 L385.0,400.6 L386.0,399.7 L387.0,399.8 L388.0,400.0 L389.0,400.6 L390.0,400.9 L391.0,401.5 L392.0,400.9 L393.0,399.7 L394.0,400.7 L395.0,401.4 L396.0,401.3 L397.0,401.3 L398.0,400.2 L399.0,400.0 L400.0,400.8 L401.0,399.5 L402.0,399.1 L403.0,400.6 L404.0,400.3 L405.0,399.9 L406.0,399.2 L407.0,399.0 L408.0,399.4 L409.0,400.2 L410.0,400.2 L411.0,399.2 L412.0,400.3 L413.0,399.7 L414.0,399.7 L415.0,400.9 L416.0,400.4 L417.0,399.9 L418.0,401.4 L419.0,400.5 L420.0,400.7 L421.0,401.2 L422.0,401.7 L423.0,400.9 L424.0,401.1 L425.0,400.6 L426.0,401.1 L427.0,400.3 L428.0,400.7 L429.0,402.1 L430.0,401.4 L431.0,401.4 L432.0,402.6 L433.0,401.3 L434.0,400.3 L435.0,400.8 L436.0,400.3 L437.0,401.6 L438.0,401.8 L439.0,400.4 L440.0,400.1 L441.0,400.7 L442.0,400.5 L443.0,400.1 L444.0,400.4 L445.0,399.1 L446.0,399.7 L447.0,400.2 L448.0,400.5 L449.0,400.6 L450.0,400.0 L451.0,400.8 L452.0,400.6 L453.0,399.8 L454.0,399.1 L455.0,399.5 L456.0,400.4 L457.0,400.1 L458.0,400.8 L459.0,401.9 L460.0,402.3 L461.0,402.3 L462.0,400.6 L463.0,400.0 L464.0,401.4 L465.0,401.6 L466.0,401.8 L467.0,401.4 L468.0,402.0 L469.0,402.0 L470.0,401.8 L471.0,401.5 L472.0,401.3 L473.0,401.1 L474.0,401.3 L475.0,401.5 L476.0,401.1 L477.0,402.1 L478.0,401.5 L479.0,401.6 L480.0,400.9 L481.0,401.1 L482.0,402.4 L483.0,400.7 L484.0,399.3 L485.0,399.6 L486.0,400.9 L487.0,402.7 L488.0,401.9 L489.0,401.4 L490.0,400.2 L491.0,401.0 L492.0,402.0 L493.0,402.4 L494.0,400.9 L495.0,401.2 L496.0,400.9 L497.0,399.9 L498.0,400.4 L499.0,399.8 L500.0,398.7 L501.0,400.8 L502.0,401.3 L503.0,400.1 L504.0,399.8 L505.0,401.8 L506.0,401.8 L507.0,402.3 L508.0,402.3 L509.0,401.0 L510.0,401.3 L511.0,400.8 L512.0,400.6 L513.0,400.7 L514.0,401.1 L515.0,401.9 L516.0,401.2 L517.0,400.6 L518.0,400.6 L519.0,400.7 L520.0,399.9 L521.0,400.0 L522.0,400.4 L523.0,400.2 L524.0,400.3 L525.0,400.8 L526.0,403.0 L527.0,402.9 L528.0,401.7 L529.0,401.6 L530.0,403.1 L531.0,401.8 L532.0,400.9 L533.0,401.2 L534.0,401.7 L535.0,402.3 L536.0,402.0 L537.0,402.6 L538.0,400.8 L539.0,400.9 L540.0,400.6 L541.0,402.2 L542.0,401.1 L543.0,400.9 L544.0,402.2 L545.0,402.0 L546.0,399.9 L547.0,399.6 L548.0,399.3 L549.0,400.4 L550.0,400.6 L551.0,400.1 L552.0,399.8 L553.0,399.9 L554.0,400.1 L555.0,401.6 L556.0,401.9 L557.0,399.2 L558.0,399.8 L559.0,400.5 L560.0,400.8 L561.0,399.9 L562.0,399.9 L563.0,399.9 L564.0,401.2 L565.0,401.1 L566.0,400.8 L567.0,401.1 L568.0,400.1 L569.0,399.2 L570.0,401.0 L571.0,401.3 L572.0,401.1 L573.0,402.3 L574.0,402.1 L575.0,399.7 L576.0,400.1 L577.0,402.8 L578.0,402.7 L579.0,400.1 L580.0,399.0 L581.0,399.5 L582.0,399.4 L583.0,398.8 L584.0,399.8 L585.0,398.9 L586.0,399.3 L587.0,401.1 L588.0,400.3 L589.0,400.7 L590.0,401.8 L591.0,401.8 L592.0,400.7 L593.0,400.4 L594.0,400.5 L595.0,402.8 L596.0,401.8 L597.0,399.8 L598.0,400.7 L599.0,401.8 L600.0,402.3 L601.0,403.7 L602.0,402.9 L603.0,400.7 L604.0,400.0 L605.0,399.3 L606.0,400.6 L607.0,402.1 L608.0,404.1 L609.0,401.2 L610.0,398.1 L611.0,399.2 L612.0,400.2 L613.0,399.3"/>
<path class="ca" stroke="#000080" d="M128.0,222.0 L128.5,225.2 L129.0,228.3 L129.5,231.4 L130.0,234.4 L130.5,237.2 L131.0,240.0 L131.5,242.7 L132.0,245.3 L132.5,247.9 L133.0,250.4 L133.5,252.8 L134.0,255.2 L134.5,257.5 L135.0,259.7 L135.5,261.9 L136.0,264.0 L136.5,266.1 L137.0,268.2 L137.5,270.3 L138.0,272.3 L138.5,274.3 L139.0,276.1 L139.5,277.8 L140.0,279.4 L140.5,280.8 L141.0,282.0 L141.5,283.1 L142.0,284.2 L142.5,285.2 L143.0,286.3 L143.5,287.3 L144.0,288.3 L144.5,289.1 L145.0,290.0 L145.5,290.7 L146.0,291.3 L146.5,291.8 L147.0,292.2 L147.5,292.4 L148.0,292.5 L148.5,292.4 L149.0,292.3 L149.5,292.0 L150.0,291.7 L150.5,291.3 L151.0,290.8 L151.5,290.3 L152.0,289.7 L152.5,289.0 L153.0,288.3 L153.5,287.6 L154.0,286.9 L154.5,286.2 L155.0,285.4 L155.5,284.7 L156.0,284.0 L156.5,283.2 L157.0,282.3 L157.5,281.3 L158.0,280.2 L158.5,279.1 L159.0,277.9 L159.5,276.8 L160.0,275.6 L160.5,274.6 L161.0,273.6 L161.5,272.7 L162.0,272.0 L162.5,271.3 L163.0,270.6 L163.5,270.0 L164.0,269.3 L164.5,268.8 L165.0,268.4 L165.5,268.1 L166.0,268.0 L166.5,268.2 L167.0,268.7 L167.5,269.6 L168.0,270.6 L168.5,271.9 L169.0,273.2 L169.5,274.6 L170.0,276.0 L170.5,277.5 L171.0,279.4 L171.5,281.5 L172.0,283.7 L172.5,286.1 L173.0,288.5 L173.5,290.8 L174.0,293.0 L174.5,295.2 L175.0,297.5 L175.5,299.8 L176.0,302.1 L176.5,304.3 L177.0,306.4 L177.5,308.3 L178.0,310.0 L178.5,311.7 L179.0,313.4 L179.5,315.0 L180.0,316.3 L180.5,317.3 L181.0,317.6 L181.5,317.4 L182.0,316.9 L182.5,316.1 L183.0,315.1 L183.5,314.1 L184.0,313.0 L184.5,311.8 L185.0,310.4 L185.5,308.8 L186.0,307.0 L186.5,305.0 L187.0,302.9 L187.5,300.8 L188.0,298.5 L188.5,296.3 L189.0,294.0 L189.5,291.6 L190.0,289.1 L190.5,286.5 L191.0,283.7 L191.5,280.8 L192.0,277.8 L192.5,274.8 L193.0,271.7 L193.5,268.6 L194.0,265.4 L194.5,262.2 L195.0,259.1 L195.5,256.0 L196.0,252.9 L196.5,249.9 L197.0,247.0 L197.5,244.1 L198.0,241.3 L198.5,238.5 L199.0,235.7 L199.5,233.0 L200.0,230.2 L200.5,227.4 L201.0,224.7 L201.5,221.9 L202.0,219.2 L202.5,216.4 L203.0,213.6 L203.5,210.8 L204.0,208.0 L204.5,205.2 L205.0,202.3 L205.5,199.4 L206.0,196.5 L206.5,193.5 L207.0,190.4 L207.5,187.4 L208.0,184.3 L208.5,181.2 L209.0,178.1 L209.5,175.0 L210.0,171.9 L210.5,168.8 L211.0,165.8 L211.5,162.8 L212.0,159.9 L212.5,157.0 L213.0,154.1 L213.5,151.3 L214.0,148.4 L214.5,145.6 L215.0,142.8 L215.5,140.0 L216.0,137.4 L216.5,134.9 L217.0,132.5 L217.5,130.2 L218.0,128.0 L218.5,125.8 L219.0,123.7 L219.5,121.7 L220.0,119.7 L220.5,117.8 L221.0,116.0 L221.5,114.2 L222.0,112.5 L222.5,110.8 L223.0,109.1 L223.5,107.5 L224.0,105.9 L224.5,104.4 L225.0,103.1 L225.5,101.9 L226.0,101.0 L226.5,100.2 L227.0,99.3 L227.5,98.6 L228.0,97.9 L228.5,97.5 L229.0,97.2 L229.5,97.3 L230.0,97.6 L230.5,98.1 L231.0,98.8 L231.5,99.7 L232.0,100.6 L232.5,101.5 L233.0,102.5 L233.5,103.6 L234.0,104.9 L234.5,106.3 L235.0,107.9 L235.5,109.6 L236.0,111.3 L236.5,113.1 L237.0,115.0 L237.5,117.0 L238.0,119.1 L238.5,121.3 L239.0,123.7 L239.5,126.2 L240.0,128.9 L240.5,131.7 L241.0,134.5 L241.5,137.5 L242.0,140.6 L242.5,143.7 L243.0,146.9 L243.5,150.2 L244.0,153.4 L244.5,156.7 L245.0,160.0 L245.5,163.4 L246.0,166.9 L246.5,170.6 L247.0,174.4 L247.5,178.3 L248.0,182.3 L248.5,186.3 L249.0,190.4 L249.5,194.5 L250.0,198.5 L250.5,202.6 L251.0,206.6 L251.5,210.5 L252.0,214.3 L252.5,218.0 L253.0,221.6 L253.5,225.1 L254.0,228.5 L254.5,231.9 L255.0,235.3 L255.5,238.7 L256.0,242.1 L256.5,245.5 L257.0,248.9 L257.5,252.4 L258.0,256.0 L258.5,259.7 L259.0,263.5 L259.5,267.4 L260.0,271.4 L260.5,275.4 L261.0,279.3 L261.5,283.2 L262.0,287.0 L262.5,290.6 L263.0,294.1 L263.5,297.5 L264.0,300.8 L264.5,304.1 L265.0,307.3 L265.5,310.4 L266.0,313.4 L266.5,316.4 L267.0,319.3 L267.5,322.1 L268.0,324.9 L268.5,327.6 L269.0,330.2 L269.5,332.8 L270.0,335.4 L270.5,338.0 L271.0,340.6 L271.5,343.3 L272.0,345.9 L272.5,348.6 L273.0,351.3 L273.5,354.0 L274.0,356.6 L274.5,359.1 L275.0,361.5 L275.5,363.9 L276.0,366.1 L276.5,368.1 L277.0,370.0 L277.5,371.8 L278.0,373.6 L278.5,375.3 L279.0,377.0 L279.5,378.6 L280.0,380.2 L280.5,381.7 L281.0,383.1 L281.5,384.4 L282.0,385.7 L282.5,386.8 L283.0,387.8 L283.5,388.7 L284.0,389.5 L284.5,390.2 L285.0,390.9 L285.5,391.6 L286.0,392.2 L286.5,392.8 L287.0,393.4 L287.5,394.0 L288.0,394.5 L288.5,395.0 L289.0,395.4 L289.5,395.9 L290.0,396.2 L290.5,396.6 L291.0,396.9 L291.5,397.2 L292.0,397.5 L292.5,397.7 L293.0,398.0 L293.5,398.2 L294.0,398.5 L294.5,398.7 L295.0,398.9 L295.5,399.1 L296.0,399.3 L296.5,399.6 L297.0,399.8 L297.5,399.9 L298.0,400.1 L298.5,400.3 L299.0,400.5 L299.5,400.6 L300.0,400.8 L300.5,400.9 L301.0,401.0 L301.5,401.1 L302.0,401.2 L302.5,401.3 L303.0,401.4 L303.5,401.4 L304.0,401.5 L304.5,401.5 L305.0,401.2 L306.0,401.4 L307.0,401.6 L308.0,401.5 L309.0,401.4 L310.0,401.8 L311.0,401.6 L312.0,401.4 L313.0,401.2 L314.0,401.5 L315.0,401.8 L316.0,401.4 L317.0,401.8 L318.0,402.1 L319.0,401.9 L320.0,401.9 L321.0,401.7 L322.0,402.4 L323.0,402.6 L324.0,402.0 L325.0,401.3 L326.0,401.6 L327.0,402.5 L328.0,402.8 L329.0,402.5 L330.0,402.5 L331.0,402.0 L332.0,401.9 L333.0,402.1 L334.0,402.1 L335.0,401.7 L336.0,402.4 L337.0,402.6 L338.0,401.7 L339.0,401.5 L340.0,402.0 L341.0,401.6 L342.0,401.3 L343.0,402.2 L344.0,402.2 L345.0,402.3 L346.0,402.9 L347.0,402.4 L348.0,401.9 L349.0,402.0 L350.0,401.7 L351.0,401.8 L352.0,402.1 L353.0,401.9 L354.0,402.1 L355.0,402.9 L356.0,402.8 L357.0,402.7 L358.0,402.6 L359.0,402.6 L360.0,402.8 L361.0,402.6 L362.0,402.8 L363.0,402.0 L364.0,401.8 L365.0,401.5 L366.0,401.9 L367.0,402.6 L368.0,402.8 L369.0,402.1 L370.0,402.1 L371.0,401.9 L372.0,401.7 L373.0,401.6 L374.0,401.8 L375.0,401.5 L376.0,402.0 L377.0,402.1 L378.0,401.8 L379.0,401.5 L380.0,401.7 L381.0,402.6 L382.0,402.1 L383.0,402.8 L384.0,402.6 L385.0,402.0 L386.0,401.8 L387.0,402.7 L388.0,403.0 L389.0,402.0 L390.0,402.1 L391.0,402.7 L392.0,402.8 L393.0,403.1 L394.0,402.3 L395.0,402.2 L396.0,402.0 L397.0,402.9 L398.0,401.8 L399.0,401.1 L400.0,401.8 L401.0,402.4 L402.0,403.0 L403.0,402.3 L404.0,402.2 L405.0,402.7 L406.0,403.0 L407.0,402.6 L408.0,402.8 L409.0,402.6 L410.0,402.2 L411.0,402.2 L412.0,402.1 L413.0,402.0 L414.0,402.4 L415.0,401.9 L416.0,402.7 L417.0,402.8 L418.0,402.2 L419.0,401.8 L420.0,402.0 L421.0,402.5 L422.0,402.7 L423.0,402.6 L424.0,402.6 L425.0,402.1 L426.0,402.0 L427.0,401.6 L428.0,402.3 L429.0,402.3 L430.0,402.2 L431.0,402.8 L432.0,402.3 L433.0,400.9 L434.0,401.5 L435.0,401.6 L436.0,402.9 L437.0,403.6 L438.0,402.4 L439.0,402.1 L440.0,402.1 L441.0,402.5 L442.0,402.8 L443.0,402.8 L444.0,402.2 L445.0,402.7 L446.0,402.0 L447.0,402.4 L448.0,403.0 L449.0,402.6 L450.0,401.7 L451.0,401.6 L452.0,401.8 L453.0,402.3 L454.0,402.6 L455.0,401.8 L456.0,402.3 L457.0,402.7 L458.0,402.7 L459.0,402.8 L460.0,403.2 L461.0,402.9 L462.0,402.9 L463.0,403.0 L464.0,402.9 L465.0,401.7 L466.0,402.5 L467.0,402.2 L468.0,401.8 L469.0,401.3 L470.0,400.9 L471.0,401.5 L472.0,401.8 L473.0,402.1 L474.0,401.7 L475.0,402.8 L476.0,402.6 L477.0,402.0 L478.0,401.6 L479.0,401.4 L480.0,401.3 L481.0,401.7 L482.0,402.1 L483.0,401.8 L484.0,401.3 L485.0,401.6 L486.0,401.7 L487.0,402.5 L488.0,403.4 L489.0,402.9 L490.0,401.8 L491.0,400.9 L492.0,400.7 L493.0,401.1 L494.0,402.1 L495.0,401.9 L496.0,402.0 L497.0,401.9 L498.0,402.4 L499.0,402.9 L500.0,402.0 L501.0,401.7 L502.0,401.8 L503.0,402.4 L504.0,401.5 L505.0,401.0 L506.0,400.8 L507.0,401.1 L508.0,402.7 L509.0,403.7 L510.0,402.3 L511.0,402.6 L512.0,402.3 L513.0,401.5 L514.0,401.8 L515.0,401.9 L516.0,402.1 L517.0,402.9 L518.0,401.5 L519.0,402.1 L520.0,402.4 L521.0,401.9 L522.0,402.4 L523.0,402.8 L524.0,402.6 L525.0,402.6 L526.0,402.3 L527.0,401.4 L528.0,403.2 L529.0,404.2 L530.0,403.5 L531.0,402.8 L532.0,401.5 L533.0,401.6 L534.0,401.5 L535.0,401.9 L536.0,402.5 L537.0,401.9 L538.0,401.5 L539.0,400.9 L540.0,401.7 L541.0,402.1 L542.0,401.6 L543.0,402.0 L544.0,403.0 L545.0,401.6 L546.0,401.0 L547.0,401.7 L548.0,403.3 L549.0,404.0 L550.0,402.7 L551.0,401.7 L552.0,402.0 L553.0,402.6 L554.0,402.2 L555.0,403.3 L556.0,403.5 L557.0,402.7 L558.0,402.8 L559.0,403.2 L560.0,403.2 L561.0,402.1 L562.0,402.7 L563.0,402.0 L564.0,401.6 L565.0,402.0 L566.0,401.8 L567.0,401.1 L568.0,400.6 L569.0,401.5 L570.0,403.5 L571.0,404.1 L572.0,403.4 L573.0,403.1 L574.0,402.1 L575.0,402.1 L576.0,402.1 L577.0,401.3 L578.0,401.3 L579.0,402.0 L580.0,401.7 L581.0,401.5 L582.0,402.2 L583.0,402.3 L584.0,402.9 L585.0,402.4 L586.0,402.0 L587.0,402.2 L588.0,401.9 L589.0,401.6 L590.0,401.9 L591.0,402.8 L592.0,403.2 L593.0,402.9 L594.0,401.2 L595.0,401.4 L596.0,401.8 L597.0,402.1 L598.0,401.8 L599.0,401.9 L600.0,402.7 L601.0,402.2 L602.0,401.7 L603.0,403.2 L604.0,403.1 L605.0,402.2 L606.0,402.5 L607.0,402.1 L608.0,402.8 L609.0,402.1 L610.0,401.4 L611.0,401.5 L612.0,401.6 L613.0,402.2"/>
<path class="ca" stroke="#808000" d="M128.0,131.0 L128.5,130.1 L129.0,129.2 L129.5,128.5 L130.0,128.0 L130.5,127.6 L131.0,127.2 L131.5,126.8 L132.0,126.5 L132.5,126.3 L133.0,126.1 L133.5,126.0 L134.0,126.0 L134.5,126.4 L135.0,127.0 L135.5,127.8 L136.0,128.8 L136.5,129.9 L137.0,131.0 L137.5,132.3 L138.0,134.0 L138.5,136.0 L139.0,138.1 L139.5,140.3 L140.0,142.5 L140.5,144.7 L141.0,147.2 L141.5,149.7 L142.0,152.3 L142.5,155.0 L143.0,157.7 L143.5,160.3 L144.0,162.9 L144.5,165.3 L145.0,167.5 L145.5,169.7 L146.0,171.8 L146.5,174.0 L147.0,176.2 L147.5,178.2 L148.0,180.2 L148.5,182.0 L149.0,183.5 L149.5,184.9 L150.0,186.0 L150.5,186.9 L151.0,187.7 L151.5,188.4 L152.0,189.0 L152.5,189.5 L153.0,190.0 L153.5,190.4 L154.0,190.9 L154.5,191.3 L155.0,191.7 L155.5,192.0 L156.0,192.3 L156.5,192.4 L157.0,192.5 L157.5,192.4 L158.0,192.1 L158.5,191.7 L159.0,191.2 L159.5,190.7 L160.0,190.1 L160.5,189.5 L161.0,189.0 L161.5,188.5 L162.0,188.0 L162.5,187.4 L163.0,186.9 L163.5,186.4 L164.0,186.0 L164.5,185.7 L165.0,185.3 L165.5,185.1 L166.0,185.0 L166.5,185.3 L167.0,186.3 L167.5,187.5 L168.0,189.0 L168.5,191.0 L169.0,193.8 L169.5,196.9 L170.0,200.0 L170.5,203.0 L171.0,206.1 L171.5,209.3 L172.0,212.5 L172.5,215.8 L173.0,219.2 L173.5,222.6 L174.0,226.0 L174.5,229.5 L175.0,233.0 L175.5,236.7 L176.0,240.8 L176.5,245.1 L177.0,249.3 L177.5,253.3 L178.0,256.8 L178.5,259.7 L179.0,261.8 L179.5,263.7 L180.0,265.5 L180.5,267.2 L181.0,268.8 L181.5,270.2 L182.0,271.4 L182.5,272.2 L183.0,272.8 L183.5,273.0 L184.0,272.9 L184.5,272.6 L185.0,272.2 L185.5,271.6 L186.0,270.9 L186.5,270.2 L187.0,269.5 L187.5,268.7 L188.0,268.0 L188.5,267.3 L189.0,266.5 L189.5,265.6 L190.0,264.7 L190.5,263.7 L191.0,262.8 L191.5,261.9 L192.0,261.0 L192.5,260.1 L193.0,259.2 L193.5,258.3 L194.0,257.4 L194.5,256.5 L195.0,255.6 L195.5,254.7 L196.0,253.9 L196.5,253.1 L197.0,252.3 L197.5,251.6 L198.0,251.0 L198.5,250.4 L199.0,249.8 L199.5,249.2 L200.0,248.6 L200.5,248.0 L201.0,247.4 L201.5,246.9 L202.0,246.4 L202.5,245.9 L203.0,245.5 L203.5,245.1 L204.0,244.9 L204.5,244.7 L205.0,244.5 L205.5,244.5 L206.0,244.6 L206.5,244.8 L207.0,245.1 L207.5,245.5 L208.0,245.9 L208.5,246.4 L209.0,246.9 L209.5,247.5 L210.0,248.0 L210.5,248.6 L211.0,249.2 L211.5,249.9 L212.0,250.7 L212.5,251.5 L213.0,252.4 L213.5,253.3 L214.0,254.2 L214.5,255.2 L215.0,256.2 L215.5,257.2 L216.0,258.2 L216.5,259.3 L217.0,260.3 L217.5,261.4 L218.0,262.6 L218.5,263.8 L219.0,265.0 L219.5,266.2 L220.0,267.5 L220.5,268.9 L221.0,270.3 L221.5,271.7 L222.0,273.2 L222.5,274.7 L223.0,276.3 L223.5,278.0 L224.0,279.8 L224.5,281.8 L225.0,283.9 L225.5,286.2 L226.0,288.5 L226.5,290.9 L227.0,293.3 L227.5,295.7 L228.0,298.0 L228.5,300.3 L229.0,302.8 L229.5,305.2 L230.0,307.7 L230.5,310.1 L231.0,312.5 L231.5,314.8 L232.0,317.0 L232.5,319.1 L233.0,321.1 L233.5,323.0 L234.0,324.9 L234.5,326.7 L235.0,328.5 L235.5,330.3 L236.0,332.1 L236.5,333.9 L237.0,335.8 L237.5,337.6 L238.0,339.5 L238.5,341.5 L239.0,343.6 L239.5,345.7 L240.0,347.8 L240.5,349.9 L241.0,352.0 L241.5,354.1 L242.0,356.1 L242.5,358.1 L243.0,360.0 L243.5,361.8 L244.0,363.5 L244.5,365.0 L245.0,366.4 L245.5,367.7 L246.0,369.0 L246.5,370.2 L247.0,371.4 L247.5,372.5 L248.0,373.6 L248.5,374.7 L249.0,375.7 L249.5,376.7 L250.0,377.7 L250.5,378.7 L251.0,379.6 L251.5,380.4 L252.0,381.3 L252.5,382.1 L253.0,382.9 L253.5,383.6 L254.0,384.3 L254.5,385.0 L255.0,385.7 L255.5,386.3 L256.0,387.0 L256.5,387.6 L257.0,388.2 L257.5,388.8 L258.0,389.4 L258.5,389.9 L259.0,390.5 L259.5,391.0 L260.0,391.5 L260.5,392.0 L261.0,392.4 L261.5,392.9 L262.0,393.3 L262.5,393.6 L263.0,394.0 L263.5,394.3 L264.0,394.6 L264.5,394.9 L265.0,395.1 L265.5,395.4 L266.0,395.7 L266.5,395.9 L267.0,396.2 L267.5,396.4 L268.0,396.7 L268.5,396.9 L269.0,397.1 L269.5,397.3 L270.0,397.6 L270.5,397.8 L271.0,398.0 L271.5,398.2 L272.0,398.4 L272.5,398.5 L273.0,398.7 L273.5,398.9 L274.0,399.0 L274.5,399.2 L275.0,399.3 L275.5,399.4 L276.0,399.5 L276.5,399.6 L277.0,399.7 L277.5,399.8 L278.0,399.9 L278.5,400.0 L279.0,400.0 L279.5,400.0 L280.0,400.1 L280.5,400.1 L281.0,400.2 L281.5,400.2 L282.0,400.2 L282.5,400.3 L283.0,400.3 L283.5,400.4 L284.0,400.4 L284.5,400.4 L285.0,400.5 L285.5,400.5 L286.0,400.5 L286.5,400.6 L287.0,400.6 L287.5,400.6 L288.0,400.7 L288.5,400.7 L289.0,400.7 L289.5,400.7 L290.0,400.8 L290.5,400.8 L291.0,400.8 L291.5,400.8 L292.0,400.8 L292.5,400.9 L293.0,400.9 L293.5,400.9 L294.0,400.9 L294.5,400.9 L295.0,400.9 L295.5,400.9 L296.0,401.0 L296.5,401.0 L297.0,401.0 L297.5,401.0 L298.0,401.0 L298.5,401.0 L299.0,401.0 L299.5,401.0 L300.0,401.0 L301.0,401.0 L302.0,400.7 L303.0,400.2 L304.0,400.7 L305.0,400.7 L306.0,401.1 L307.0,401.4 L308.0,401.2 L309.0,401.1 L310.0,401.1 L311.0,401.1 L312.0,401.0 L313.0,400.9 L314.0,401.0 L315.0,401.4 L316.0,401.4 L317.0,401.4 L318.0,401.2 L319.0,401.2 L320.0,401.2 L321.0,401.4 L322.0,401.5 L323.0,401.3 L324.0,401.0 L325.0,401.1 L326.0,401.6 L327.0,401.3 L328.0,401.3 L329.0,401.7 L330.0,401.7 L331.0,401.4 L332.0,401.4 L333.0,401.8 L334.0,401.6 L335.0,401.4 L336.0,401.2 L337.0,400.8 L338.0,400.9 L339.0,401.3 L340.0,401.4 L341.0,401.2 L342.0,400.9 L343.0,400.8 L344.0,401.0 L345.0,401.0 L346.0,401.5 L347.0,401.9 L348.0,402.2 L349.0,401.7 L350.0,401.1 L351.0,400.7 L352.0,400.3 L353.0,400.8 L354.0,401.3 L355.0,401.6 L356.0,401.6 L357.0,401.5 L358.0,401.5 L359.0,401.6 L360.0,401.6 L361.0,401.1 L362.0,401.0 L363.0,401.0 L364.0,401.7 L365.0,401.9 L366.0,401.5 L367.0,401.1 L368.0,401.2 L369.0,401.3 L370.0,401.3 L371.0,401.3 L372.0,401.4 L373.0,401.3 L374.0,401.5 L375.0,401.4 L376.0,401.2 L377.0,401.2 L378.0,401.2 L379.0,401.5 L380.0,401.3 L381.0,401.3 L382.0,401.1 L383.0,400.9 L384.0,401.3 L385.0,401.1 L386.0,401.4 L387.0,401.3 L388.0,400.8 L389.0,400.8 L390.0,401.0 L391.0,400.9 L392.0,400.9 L393.0,401.4 L394.0,401.3 L395.0,401.3 L396.0,401.2 L397.0,401.3 L398.0,401.1 L399.0,401.3 L400.0,401.5 L401.0,401.3 L402.0,401.1 L403.0,400.9 L404.0,401.3 L405.0,401.4 L406.0,401.2 L407.0,401.1 L408.0,401.6 L409.0,402.1 L410.0,401.5 L411.0,401.4 L412.0,401.2 L413.0,400.6 L414.0,401.0 L415.0,401.2 L416.0,401.6 L417.0,401.3 L418.0,401.0 L419.0,401.2 L420.0,401.3 L421.0,401.1 L422.0,401.1 L423.0,400.8 L424.0,401.2 L425.0,401.7 L426.0,402.1 L427.0,401.8 L428.0,401.6 L429.0,401.8 L430.0,401.9 L431.0,402.1 L432.0,401.8 L433.0,401.4 L434.0,401.4 L435.0,401.4 L436.0,401.4 L437.0,401.3 L438.0,400.8 L439.0,400.4 L440.0,400.6 L441.0,400.6 L442.0,401.1 L443.0,401.1 L444.0,400.8 L445.0,401.4 L446.0,401.7 L447.0,401.6 L448.0,402.1 L449.0,402.0 L450.0,401.2 L451.0,401.6 L452.0,401.6 L453.0,401.6 L454.0,401.6 L455.0,401.1 L456.0,400.9 L457.0,400.9 L458.0,400.9 L459.0,401.0 L460.0,400.7 L461.0,400.8 L462.0,401.4 L463.0,401.4 L464.0,401.2 L465.0,400.6 L466.0,400.7 L467.0,401.0 L468.0,401.2 L469.0,401.2 L470.0,401.6 L471.0,401.4 L472.0,401.3 L473.0,401.4 L474.0,401.5 L475.0,401.4 L476.0,401.7 L477.0,401.6 L478.0,401.4 L479.0,401.4 L480.0,401.6 L481.0,401.9 L482.0,401.8 L483.0,401.7 L484.0,401.7 L485.0,401.6 L486.0,401.8 L487.0,401.2 L488.0,400.7 L489.0,401.6 L490.0,401.4 L491.0,400.8 L492.0,401.0 L493.0,401.2 L494.0,402.1 L495.0,401.6 L496.0,400.8 L497.0,401.3 L498.0,401.5 L499.0,401.9 L500.0,400.8 L501.0,400.3 L502.0,401.0 L503.0,401.1 L504.0,400.8 L505.0,400.5 L506.0,401.4 L507.0,401.8 L508.0,400.9 L509.0,401.4 L510.0,401.5 L511.0,402.2 L512.0,401.8 L513.0,401.4 L514.0,401.8 L515.0,401.6 L516.0,401.2 L517.0,401.4 L518.0,400.9 L519.0,400.8 L520.0,401.8 L521.0,401.4 L522.0,401.0 L523.0,401.1 L524.0,400.5 L525.0,400.5 L526.0,400.8 L527.0,401.0 L528.0,401.4 L529.0,401.7 L530.0,401.3 L531.0,401.5 L532.0,401.5 L533.0,401.0 L534.0,401.1 L535.0,401.1 L536.0,401.7 L537.0,401.6 L538.0,401.2 L539.0,400.8 L540.0,401.1 L541.0,401.1 L542.0,401.5 L543.0,401.2 L544.0,401.1 L545.0,401.7 L546.0,401.7 L547.0,401.3 L548.0,401.7 L549.0,401.3 L550.0,401.1 L551.0,401.2 L552.0,400.9 L553.0,401.0 L554.0,401.4 L555.0,402.2 L556.0,402.1 L557.0,401.6 L558.0,402.0 L559.0,401.6 L560.0,401.6 L561.0,401.8 L562.0,401.9 L563.0,402.5 L564.0,401.6 L565.0,401.0 L566.0,401.6 L567.0,401.3 L568.0,400.7 L569.0,400.1 L570.0,401.4 L571.0,401.9 L572.0,401.9 L573.0,402.1 L574.0,402.2 L575.0,401.7 L576.0,401.6 L577.0,401.0 L578.0,401.2 L579.0,401.8 L580.0,401.4 L581.0,400.8 L582.0,401.2 L583.0,401.1 L584.0,401.0 L585.0,401.3 L586.0,400.9 L587.0,400.3 L588.0,400.8 L589.0,401.7 L590.0,400.9 L591.0,401.3 L592.0,401.7 L593.0,401.5 L594.0,400.8 L595.0,401.0 L596.0,401.4 L597.0,401.6 L598.0,400.9 L599.0,400.8 L600.0,401.8 L601.0,402.0 L602.0,401.6 L603.0,401.1 L604.0,401.4 L605.0,401.6 L606.0,401.5 L607.0,400.8 L608.0,401.1 L609.0,401.1 L610.0,400.8 L611.0,401.2 L612.0,401.3 L613.0,401.1"/>
</g>
<path class="ax" d="M119.8,402.4H127.8M119.8,273.9H127.8M119.8,145.4H127.8M119.8,16.9H127.8M123.8,338.1H127.8M123.8,209.6H127.8M123.8,81.1H127.8M127.8,408.8V417.2M225.1,408.8V417.2M322.4,408.8V417.2M419.6,408.8V417.2M516.9,408.8V417.2M614.2,408.8V417.2M176.4,408.8V413.1M273.7,408.8V413.1M371.0,408.8V413.1M468.3,408.8V413.1M565.6,408.8V413.1"/>
<rect class="ax" x="127.8" y="16.9" width="486.4" height="391.9"/>
<text class="tk" transform="translate(113.4,410.9) scale(1.07,1)" text-anchor="end">0</text>
<text class="tk" transform="translate(113.4,281.2) scale(1.07,1)" text-anchor="end">2</text>
<text class="tk" transform="translate(113.4,152.7) scale(1.07,1)" text-anchor="end">4</text>
<text class="tk" transform="translate(113.4,24.2) scale(1.07,1)" text-anchor="end">6</text>
<text class="tk" transform="translate(127.4,444.8) scale(1.07,1)" text-anchor="middle">300</text>
<text class="tk" transform="translate(224.7,444.8) scale(1.07,1)" text-anchor="middle">400</text>
<text class="tk" transform="translate(322.0,444.8) scale(1.07,1)" text-anchor="middle">500</text>
<text class="tk" transform="translate(419.2,444.8) scale(1.07,1)" text-anchor="middle">600</text>
<text class="tk" transform="translate(516.5,444.8) scale(1.07,1)" text-anchor="middle">700</text>
<text class="tk" transform="translate(613.8,444.8) scale(1.07,1)" text-anchor="middle">800</text>
<text class="ttl" x="370.5" y="494.2" text-anchor="middle">Wavelength / nm</text>
<text class="ttl" transform="translate(75.5,371) rotate(-90)"><tspan x="1.5" font-style="italic">ε</tspan><tspan dx="-3.8" dy="3"> ×</tspan><tspan dx="-3.0" dy="-3"> 10</tspan><tspan dy="-11.5" font-size="21">−4</tspan><tspan dy="11.5" dx="3"> /</tspan><tspan dx="-3"> mol</tspan><tspan dy="-11.5" font-size="21">−1</tspan><tspan dy="11.5"> dm</tspan><tspan dy="-11.5" font-size="21">3</tspan><tspan dy="11.5"> cm</tspan><tspan dy="-11.5" font-size="21">−1</tspan></text>
<text class="pl" x="-0.5" y="27.5">(a)</text>
<path d="M505.8,52.8H569.8" stroke="#000000" stroke-width="3.3" fill="none"/>
<text class="lg" transform="translate(576,61.8) scale(1,1.06)">1</text>
<path d="M505.8,87.8H569.8" stroke="#ff0000" stroke-width="3.3" fill="none"/>
<text class="lg" transform="translate(576,96.8) scale(1,1.06)">2</text>
<path d="M505.8,122.8H569.8" stroke="#00ff00" stroke-width="3.3" fill="none"/>
<text class="lg" transform="translate(576,131.8) scale(1,1.06)">3</text>
<path d="M505.8,157.8H569.8" stroke="#0000ff" stroke-width="3.3" fill="none"/>
<text class="lg" transform="translate(576,166.8) scale(1,1.06)">4</text>
<path d="M505.8,192.8H569.8" stroke="#00ffff" stroke-width="3.3" fill="none"/>
<text class="lg" transform="translate(576,201.8) scale(1,1.06)">5</text>
<path d="M505.8,227.8H569.8" stroke="#ff00ff" stroke-width="3.3" fill="none"/>
<text class="lg" transform="translate(576,236.8) scale(1,1.06)">6</text>
<path d="M505.8,262.8H569.8" stroke="#000080" stroke-width="3.3" fill="none"/>
<text class="lg" transform="translate(576,271.8) scale(1,1.06)">7</text>
<path d="M505.8,297.8H569.8" stroke="#808000" stroke-width="3.3" fill="none"/>
<text class="lg" transform="translate(576,306.8) scale(1,1.06)">8</text>
</g>
<g id="panel-b">
<clipPath id="cb"><rect x="127.6" y="578.3" width="486.6" height="391.70000000000005"/></clipPath>
<g clip-path="url(#cb)" shape-rendering="crispEdges">
<path class="cb" stroke="#000000" d="M128.0,955.2 L129.0,955.3 L130.0,955.7 L131.0,956.1 L132.0,956.4 L133.0,956.4 L134.0,956.3 L135.0,956.2 L136.0,956.2 L137.0,956.1 L138.0,955.9 L139.0,955.4 L140.0,955.0 L141.0,954.7 L142.0,954.4 L143.0,954.2 L144.0,954.1 L145.0,953.9 L146.0,953.4 L147.0,953.1 L148.0,952.7 L149.0,952.0 L150.0,950.6 L151.0,948.3 L152.0,946.5 L153.0,946.3 L154.0,945.1 L155.0,942.4 L156.0,939.8 L157.0,937.2 L158.0,934.9 L159.0,933.3 L160.0,930.7 L161.0,927.5 L162.0,924.7 L163.0,921.9 L164.0,918.8 L165.0,915.0 L166.0,910.9 L167.0,908.2 L168.0,904.6 L169.0,898.3 L170.0,891.5 L171.0,884.7 L172.0,876.6 L173.0,867.0 L174.0,858.0 L175.0,850.9 L176.0,844.4 L177.0,839.1 L178.0,835.1 L179.0,830.8 L180.0,827.7 L181.0,824.4 L182.0,819.0 L183.0,812.6 L184.0,805.8 L185.0,798.4 L186.0,790.2 L187.0,780.6 L188.0,770.1 L189.0,760.2 L190.0,751.2 L191.0,742.8 L192.0,735.4 L193.0,729.6 L194.0,724.8 L195.0,719.7 L196.0,714.4 L197.0,708.4 L198.0,701.7 L199.0,695.3 L200.0,689.6 L201.0,685.2 L202.0,678.9 L203.0,669.7 L204.0,659.9 L205.0,650.0 L206.0,640.8 L207.0,635.5 L208.0,633.2 L209.0,630.6 L210.0,628.1 L211.0,626.0 L212.0,623.7 L213.0,622.2 L214.0,620.8 L215.0,619.7 L216.0,618.9 L217.0,618.1 L218.0,617.6 L219.0,617.0 L220.0,616.6 L221.0,616.4 L222.0,616.4 L223.0,616.5 L224.0,616.8 L225.0,617.6 L226.0,618.5 L227.0,619.4 L228.0,620.9 L229.0,622.3 L230.0,624.2 L231.0,627.2 L232.0,629.6 L233.0,632.7 L234.0,637.3 L235.0,640.8 L236.0,642.5 L237.0,644.3 L238.0,646.7 L239.0,650.6 L240.0,655.6 L241.0,659.8 L242.0,664.2 L243.0,670.3 L244.0,676.6 L245.0,681.4 L246.0,686.6 L247.0,692.5 L248.0,697.1 L249.0,700.5 L250.0,703.4 L251.0,706.3 L252.0,709.8 L253.0,713.7 L254.0,717.3 L255.0,720.9 L256.0,724.0 L257.0,726.7 L258.0,729.0 L259.0,730.7 L260.0,733.0 L261.0,736.6 L262.0,740.0 L263.0,743.4 L264.0,746.9 L265.0,750.0 L266.0,753.9 L267.0,758.6 L268.0,763.0 L269.0,767.3 L270.0,771.9 L271.0,775.9 L272.0,779.9 L273.0,785.2 L274.0,790.1 L275.0,793.7 L276.0,798.0 L277.0,802.4 L278.0,805.3 L279.0,808.1 L280.0,811.9 L281.0,814.8 L282.0,817.1 L283.0,820.4 L284.0,823.9 L285.0,826.7 L286.0,829.8 L287.0,833.0 L288.0,834.9 L289.0,837.4 L290.0,841.2 L291.0,844.6 L292.0,846.7 L293.0,848.7 L294.0,851.8 L295.0,855.0 L296.0,857.1 L297.0,858.5 L298.0,860.7 L299.0,862.8 L300.0,864.5 L301.0,867.5 L302.0,870.8 L303.0,872.6 L304.0,874.6 L305.0,877.8 L306.0,880.6 L307.0,882.2 L308.0,883.3 L309.0,885.6 L310.0,888.0 L311.0,889.2 L312.0,891.0 L313.0,894.1 L314.0,896.0 L315.0,895.9 L316.0,896.4 L317.0,898.5 L318.0,901.0 L319.0,903.4 L320.0,905.4 L321.0,906.6 L322.0,907.9 L323.0,909.4 L324.0,910.8 L325.0,912.3 L326.0,914.4 L327.0,916.7 L328.0,917.5 L329.0,917.7 L330.0,918.7 L331.0,919.9 L332.0,920.9 L333.0,922.1 L334.0,923.7 L335.0,925.1 L336.0,925.9 L337.0,926.4 L338.0,927.2 L339.0,928.3 L340.0,929.6 L341.0,930.9 L342.0,932.0 L343.0,932.8 L344.0,933.8 L345.0,934.6 L346.0,935.0 L347.0,935.4 L348.0,936.4 L349.0,938.0 L350.0,939.1 L351.0,939.7 L352.0,940.3 L353.0,940.8 L354.0,941.4 L355.0,942.3 L356.0,943.2 L357.0,943.9 L358.0,944.4 L359.0,945.0 L360.0,945.8 L361.0,946.4 L362.0,947.0 L363.0,947.8 L364.0,948.4 L365.0,948.9 L366.0,949.6 L367.0,950.1 L368.0,950.4 L369.0,950.8 L370.0,951.1 L371.0,951.4 L372.0,951.9 L373.0,952.5 L374.0,952.9 L375.0,953.4 L376.0,953.7 L377.0,954.0 L378.0,954.5 L379.0,954.9 L380.0,955.3 L381.0,955.7 L382.0,955.9 L383.0,956.1 L384.0,956.3 L385.0,956.5 L386.0,956.7 L387.0,956.9 L388.0,957.1 L389.0,957.4 L390.0,957.6 L391.0,957.8 L392.0,957.9 L393.0,958.2 L394.0,958.4 L395.0,958.5 L396.0,958.8 L397.0,959.1 L398.0,959.1 L399.0,959.4 L400.0,959.7 L401.0,959.9 L402.0,960.2 L403.0,960.3 L404.0,960.6 L405.0,960.9 L406.0,961.0 L407.0,961.1 L408.0,961.2 L409.0,961.3 L410.0,961.5 L411.0,961.6 L412.0,961.7 L413.0,961.9 L414.0,962.0 L415.0,962.1 L416.0,962.2 L417.0,962.4 L418.0,962.6 L419.0,962.7 L420.0,962.7 L421.0,962.8 L422.0,962.9 L423.0,963.0 L424.0,963.2 L425.0,963.3 L426.0,963.4 L427.0,963.5 L428.0,963.7 L429.0,963.8 L430.0,963.8 L431.0,963.9 L432.0,963.9 L433.0,964.0 L434.0,964.2 L435.0,964.4 L436.0,964.5 L437.0,964.5 L438.0,964.5 L439.0,964.5 L440.0,964.5 L441.0,964.6 L442.0,964.8 L443.0,964.8 L444.0,964.6 L445.0,964.7 L446.0,964.9 L447.0,964.9 L448.0,964.9 L449.0,965.0 L450.0,965.0 L451.0,965.0 L452.0,964.9 L453.0,965.0 L454.0,965.1 L455.0,965.1 L456.0,965.1 L457.0,965.2 L458.0,965.3 L459.0,965.3 L460.0,965.3 L461.0,965.2 L462.0,965.3 L463.0,965.3 L464.0,965.4 L465.0,965.5 L466.0,965.6 L467.0,965.7 L468.0,965.6 L469.0,965.6 L470.0,965.5 L471.0,965.5 L472.0,965.6 L473.0,965.5 L474.0,965.4 L475.0,965.5 L476.0,965.6 L477.0,965.6 L478.0,965.5 L479.0,965.3 L480.0,965.3 L481.0,965.5 L482.0,965.4 L483.0,965.3 L484.0,965.4 L485.0,965.3 L486.0,965.1 L487.0,965.1 L488.0,965.2 L489.0,965.3 L490.0,965.4 L491.0,965.4 L492.0,965.4 L493.0,965.3 L494.0,965.2 L495.0,965.2 L496.0,965.2 L497.0,965.2 L498.0,965.2 L499.0,965.3 L500.0,965.3 L501.0,965.2 L502.0,965.3 L503.0,965.4 L504.0,965.3 L505.0,965.2 L506.0,965.3 L507.0,965.4 L508.0,965.3 L509.0,965.3 L510.0,965.3 L511.0,965.3 L512.0,965.2 L513.0,965.2 L514.0,965.3 L515.0,965.4 L516.0,965.4 L517.0,965.4 L518.0,965.4 L519.0,965.4 L520.0,965.3 L521.0,965.2 L522.0,965.2 L523.0,965.3 L524.0,965.2 L525.0,965.2 L526.0,965.3 L527.0,965.2 L528.0,965.3 L529.0,965.3 L530.0,965.2 L531.0,965.4 L532.0,965.5 L533.0,965.4 L534.0,965.3 L535.0,965.4 L536.0,965.4 L537.0,965.3 L538.0,965.3 L539.0,965.3 L540.0,965.4 L541.0,965.4 L542.0,965.3 L543.0,965.3 L544.0,965.3 L545.0,965.2 L546.0,965.2 L547.0,965.3 L548.0,965.2 L549.0,965.3 L550.0,965.4 L551.0,965.3 L552.0,965.2 L553.0,965.3 L554.0,965.3 L555.0,965.3 L556.0,965.3 L557.0,965.3 L558.0,965.3 L559.0,965.3 L560.0,965.4 L561.0,965.4 L562.0,965.2 L563.0,965.2 L564.0,965.3 L565.0,965.2 L566.0,965.2 L567.0,965.4 L568.0,965.4 L569.0,965.5 L570.0,965.4 L571.0,965.3 L572.0,965.4 L573.0,965.4 L574.0,965.4 L575.0,965.4 L576.0,965.3 L577.0,965.4 L578.0,965.5 L579.0,965.4 L580.0,965.2 L581.0,965.2 L582.0,965.3 L583.0,965.2 L584.0,965.2 L585.0,965.2 L586.0,965.3 L587.0,965.4 L588.0,965.4 L589.0,965.4 L590.0,965.5 L591.0,965.5 L592.0,965.6 L593.0,965.5 L594.0,965.4 L595.0,965.2 L596.0,965.0 L597.0,965.2 L598.0,965.4 L599.0,965.4 L600.0,965.3 L601.0,965.4 L602.0,965.4 L603.0,965.2 L604.0,965.1 L605.0,965.2 L606.0,965.3 L607.0,965.3 L608.0,965.3 L609.0,965.2 L610.0,965.4 L611.0,965.4 L612.0,965.4 L613.0,965.4"/>
<path class="cb" stroke="#ff0000" d="M128.0,962.9 L129.0,962.8 L130.0,962.7 L131.0,962.7 L132.0,962.9 L133.0,962.9 L134.0,962.8 L135.0,962.8 L136.0,962.8 L137.0,962.8 L138.0,962.8 L139.0,962.8 L140.0,962.9 L141.0,962.9 L142.0,962.7 L143.0,962.7 L144.0,962.7 L145.0,962.8 L146.0,962.9 L147.0,962.8 L148.0,962.8 L149.0,962.7 L150.0,962.6 L151.0,962.4 L152.0,962.0 L153.0,961.2 L154.0,959.3 L155.0,957.6 L156.0,956.2 L157.0,953.8 L158.0,951.1 L159.0,949.0 L160.0,947.2 L161.0,944.6 L162.0,941.6 L163.0,938.6 L164.0,935.2 L165.0,931.0 L166.0,926.7 L167.0,922.4 L168.0,918.2 L169.0,913.4 L170.0,907.7 L171.0,901.5 L172.0,894.1 L173.0,885.8 L174.0,877.7 L175.0,869.6 L176.0,860.9 L177.0,851.9 L178.0,842.6 L179.0,833.8 L180.0,825.1 L181.0,815.5 L182.0,805.4 L183.0,795.5 L184.0,785.5 L185.0,775.2 L186.0,765.7 L187.0,756.5 L188.0,747.8 L189.0,740.1 L190.0,732.3 L191.0,724.7 L192.0,717.8 L193.0,710.9 L194.0,704.1 L195.0,697.1 L196.0,689.6 L197.0,681.3 L198.0,672.7 L199.0,664.1 L200.0,656.4 L201.0,650.0 L202.0,644.6 L203.0,640.0 L204.0,635.8 L205.0,632.2 L206.0,628.6 L207.0,625.3 L208.0,622.5 L209.0,620.3 L210.0,618.7 L211.0,617.0 L212.0,615.7 L213.0,615.1 L214.0,614.6 L215.0,614.2 L216.0,614.3 L217.0,614.3 L218.0,614.3 L219.0,614.4 L220.0,614.9 L221.0,615.8 L222.0,617.2 L223.0,618.5 L224.0,619.5 L225.0,621.8 L226.0,624.9 L227.0,628.1 L228.0,631.2 L229.0,634.1 L230.0,636.8 L231.0,638.8 L232.0,641.0 L233.0,644.0 L234.0,647.3 L235.0,650.8 L236.0,655.2 L237.0,660.2 L238.0,664.7 L239.0,669.1 L240.0,674.0 L241.0,679.2 L242.0,684.6 L243.0,690.1 L244.0,694.8 L245.0,698.9 L246.0,703.9 L247.0,708.8 L248.0,712.5 L249.0,716.4 L250.0,720.6 L251.0,723.9 L252.0,727.1 L253.0,731.0 L254.0,735.6 L255.0,740.2 L256.0,744.2 L257.0,747.4 L258.0,750.6 L259.0,754.6 L260.0,758.9 L261.0,763.1 L262.0,767.2 L263.0,772.1 L264.0,776.9 L265.0,781.1 L266.0,785.0 L267.0,788.4 L268.0,792.0 L269.0,796.6 L270.0,801.3 L271.0,804.9 L272.0,808.2 L273.0,811.7 L274.0,815.3 L275.0,818.9 L276.0,822.0 L277.0,824.8 L278.0,828.1 L279.0,830.7 L280.0,833.3 L281.0,836.5 L282.0,840.1 L283.0,843.3 L284.0,846.1 L285.0,849.3 L286.0,852.5 L287.0,854.8 L288.0,857.5 L289.0,861.2 L290.0,864.3 L291.0,866.1 L292.0,867.9 L293.0,871.0 L294.0,874.4 L295.0,877.4 L296.0,879.9 L297.0,881.8 L298.0,884.3 L299.0,887.0 L300.0,889.6 L301.0,891.9 L302.0,893.8 L303.0,895.2 L304.0,896.5 L305.0,898.5 L306.0,900.5 L307.0,902.6 L308.0,905.1 L309.0,906.9 L310.0,907.8 L311.0,908.9 L312.0,910.3 L313.0,912.1 L314.0,913.9 L315.0,915.2 L316.0,916.2 L317.0,917.0 L318.0,917.9 L319.0,919.2 L320.0,920.7 L321.0,922.1 L322.0,923.3 L323.0,924.2 L324.0,925.5 L325.0,926.9 L326.0,927.5 L327.0,928.4 L328.0,929.5 L329.0,930.6 L330.0,931.7 L331.0,933.2 L332.0,934.1 L333.0,934.7 L334.0,935.6 L335.0,936.8 L336.0,937.7 L337.0,938.6 L338.0,939.6 L339.0,940.6 L340.0,941.3 L341.0,942.1 L342.0,943.0 L343.0,943.8 L344.0,944.7 L345.0,945.5 L346.0,946.2 L347.0,946.9 L348.0,947.5 L349.0,948.0 L350.0,948.6 L351.0,949.3 L352.0,950.1 L353.0,950.6 L354.0,951.2 L355.0,951.9 L356.0,952.5 L357.0,953.0 L358.0,953.7 L359.0,954.2 L360.0,954.6 L361.0,955.2 L362.0,955.6 L363.0,956.0 L364.0,956.5 L365.0,956.8 L366.0,957.1 L367.0,957.5 L368.0,957.8 L369.0,958.1 L370.0,958.5 L371.0,958.8 L372.0,959.0 L373.0,959.2 L374.0,959.5 L375.0,959.7 L376.0,959.8 L377.0,960.1 L378.0,960.3 L379.0,960.6 L380.0,960.8 L381.0,961.0 L382.0,961.1 L383.0,961.2 L384.0,961.4 L385.0,961.5 L386.0,961.7 L387.0,961.9 L388.0,962.0 L389.0,962.2 L390.0,962.5 L391.0,962.6 L392.0,962.7 L393.0,962.7 L394.0,962.9 L395.0,963.1 L396.0,963.2 L397.0,963.2 L398.0,963.3 L399.0,963.4 L400.0,963.5 L401.0,963.6 L402.0,963.7 L403.0,963.9 L404.0,964.0 L405.0,964.1 L406.0,964.1 L407.0,964.2 L408.0,964.2 L409.0,964.3 L410.0,964.3 L411.0,964.4 L412.0,964.5 L413.0,964.5 L414.0,964.5 L415.0,964.5 L416.0,964.6 L417.0,964.7 L418.0,964.6 L419.0,964.6 L420.0,964.8 L421.0,964.9 L422.0,964.9 L423.0,964.9 L424.0,964.9 L425.0,964.9 L426.0,965.0 L427.0,965.1 L428.0,965.2 L429.0,965.2 L430.0,965.2 L431.0,965.2 L432.0,965.2 L433.0,965.4 L434.0,965.5 L435.0,965.4 L436.0,965.4 L437.0,965.3 L438.0,965.4 L439.0,965.5 L440.0,965.4 L441.0,965.4 L442.0,965.5 L443.0,965.6 L444.0,965.6 L445.0,965.5 L446.0,965.6 L447.0,965.7 L448.0,965.6 L449.0,965.6 L450.0,965.8 L451.0,965.8 L452.0,965.7 L453.0,965.7 L454.0,965.9 L455.0,965.9 L456.0,965.8 L457.0,965.8 L458.0,965.9 L459.0,966.0 L460.0,966.0 L461.0,965.9 L462.0,965.9 L463.0,966.0 L464.0,966.1 L465.0,966.0 L466.0,965.9 L467.0,965.9 L468.0,966.1 L469.0,966.0 L470.0,965.9 L471.0,966.0 L472.0,966.0 L473.0,966.0 L474.0,966.0 L475.0,966.0 L476.0,966.0 L477.0,966.0 L478.0,966.0 L479.0,966.0 L480.0,966.0 L481.0,966.1 L482.0,966.1 L483.0,966.0 L484.0,966.0 L485.0,966.1 L486.0,966.1 L487.0,966.1 L488.0,966.2 L489.0,966.1 L490.0,966.0 L491.0,966.0 L492.0,966.1 L493.0,966.1 L494.0,966.0 L495.0,965.9 L496.0,965.9 L497.0,966.0 L498.0,966.1 L499.0,966.0 L500.0,966.0 L501.0,966.0 L502.0,966.0 L503.0,966.0 L504.0,966.0 L505.0,965.9 L506.0,965.9 L507.0,965.8 L508.0,965.8 L509.0,965.9 L510.0,966.0 L511.0,966.0 L512.0,966.1 L513.0,966.0 L514.0,966.0 L515.0,966.0 L516.0,966.0 L517.0,966.0 L518.0,966.0 L519.0,966.0 L520.0,966.0 L521.0,966.0 L522.0,966.0 L523.0,966.1 L524.0,966.1 L525.0,966.0 L526.0,965.9 L527.0,965.9 L528.0,965.9 L529.0,965.9 L530.0,965.9 L531.0,966.0 L532.0,966.0 L533.0,966.0 L534.0,965.9 L535.0,966.0 L536.0,966.0 L537.0,965.9 L538.0,966.0 L539.0,966.1 L540.0,966.1 L541.0,966.0 L542.0,966.0 L543.0,965.9 L544.0,966.0 L545.0,966.0 L546.0,966.0 L547.0,966.0 L548.0,966.1 L549.0,966.1 L550.0,965.9 L551.0,965.8 L552.0,965.9 L553.0,966.0 L554.0,966.1 L555.0,966.0 L556.0,965.9 L557.0,965.9 L558.0,966.0 L559.0,966.0 L560.0,966.0 L561.0,966.0 L562.0,966.0 L563.0,966.0 L564.0,965.9 L565.0,965.8 L566.0,965.9 L567.0,966.0 L568.0,966.0 L569.0,965.9 L570.0,966.0 L571.0,966.0 L572.0,966.0 L573.0,966.0 L574.0,965.9 L575.0,965.9 L576.0,966.0 L577.0,965.9 L578.0,965.9 L579.0,966.0 L580.0,966.1 L581.0,966.1 L582.0,966.1 L583.0,966.0 L584.0,965.9 L585.0,965.9 L586.0,966.0 L587.0,966.1 L588.0,966.1 L589.0,966.1 L590.0,966.1 L591.0,966.0 L592.0,966.0 L593.0,966.0 L594.0,966.1 L595.0,966.1 L596.0,966.0 L597.0,966.0 L598.0,966.0 L599.0,965.9 L600.0,966.0 L601.0,966.0 L602.0,965.9 L603.0,966.0 L604.0,966.1 L605.0,966.0 L606.0,965.9 L607.0,966.0 L608.0,966.1 L609.0,966.0 L610.0,966.0 L611.0,966.0 L612.0,966.1 L613.0,966.2"/>
<path class="cb" stroke="#00ff00" d="M138.8,962.8 L139.8,962.8 L140.8,962.8 L141.8,962.8 L142.8,962.8 L143.8,962.8 L144.8,962.7 L145.8,962.7 L146.8,962.7 L147.8,962.7 L148.8,962.6 L149.8,962.6 L150.8,962.6 L151.8,962.5 L152.8,962.5 L153.8,962.4 L154.8,962.3 L155.8,962.2 L156.8,961.9 L157.8,961.5 L158.8,961.2 L159.8,960.7 L160.8,959.9 L161.8,959.2 L162.8,958.5 L163.8,957.7 L164.8,956.9 L165.8,955.7 L166.8,954.2 L167.8,952.7 L168.8,951.3 L169.8,949.2 L170.8,946.1 L171.8,942.4 L172.8,939.3 L173.8,936.4 L174.8,932.8 L175.8,929.0 L176.8,925.2 L177.8,921.2 L178.8,917.2 L179.8,912.7 L180.8,907.3 L181.8,901.2 L182.8,894.2 L183.8,886.4 L184.8,878.2 L185.8,869.6 L186.8,860.5 L187.8,851.8 L188.8,843.3 L189.8,835.3 L190.8,828.6 L191.8,821.9 L192.8,814.8 L193.8,807.3 L194.8,799.2 L195.8,791.2 L196.8,783.0 L197.8,774.0 L198.8,764.4 L199.8,755.5 L200.8,747.3 L201.8,739.3 L202.8,731.8 L203.8,724.1 L204.8,716.5 L205.8,709.8 L206.8,702.5 L207.8,694.7 L208.8,687.3 L209.8,679.9 L210.8,672.5 L211.8,664.9 L212.8,657.8 L213.8,652.2 L214.8,647.2 L215.8,642.5 L216.8,637.9 L217.8,633.5 L218.8,629.5 L219.8,626.2 L220.8,623.5 L221.8,621.1 L222.8,618.9 L223.8,617.3 L224.8,616.4 L225.8,615.8 L226.8,615.1 L227.8,614.6 L228.8,614.3 L229.8,614.3 L230.8,614.5 L231.8,614.8 L232.8,615.4 L233.8,616.4 L234.8,617.3 L235.8,618.1 L236.8,619.5 L237.8,621.2 L238.8,622.8 L239.8,624.3 L240.8,625.8 L241.8,627.9 L242.8,630.6 L243.8,633.2 L244.8,635.5 L245.8,638.4 L246.8,641.8 L247.8,645.1 L248.8,648.7 L249.8,652.3 L250.8,656.1 L251.8,659.9 L252.8,663.4 L253.8,666.8 L254.8,670.1 L255.8,674.0 L256.8,678.4 L257.8,682.6 L258.8,686.7 L259.8,690.4 L260.8,693.7 L261.8,697.1 L262.8,700.8 L263.8,704.2 L264.8,707.3 L265.8,710.7 L266.8,714.3 L267.8,717.6 L268.8,720.8 L269.8,724.1 L270.8,727.6 L271.8,731.0 L272.8,734.3 L273.8,737.5 L274.8,741.3 L275.8,745.3 L276.8,748.9 L277.8,752.7 L278.8,756.4 L279.8,760.3 L280.8,765.1 L281.8,769.6 L282.8,773.8 L283.8,778.2 L284.8,782.4 L285.8,786.5 L286.8,790.7 L287.8,795.1 L288.8,799.1 L289.8,802.4 L290.8,806.1 L291.8,809.4 L292.8,811.9 L293.8,815.1 L294.8,818.9 L295.8,822.1 L296.8,825.3 L297.8,828.4 L298.8,830.9 L299.8,833.1 L300.8,835.8 L301.8,839.1 L302.8,842.1 L303.8,845.1 L304.8,847.7 L305.8,850.4 L306.8,853.7 L307.8,856.7 L308.8,859.0 L309.8,861.2 L310.8,863.8 L311.8,866.6 L312.8,869.2 L313.8,871.9 L314.8,874.8 L315.8,877.6 L316.8,880.0 L317.8,882.5 L318.8,885.1 L319.8,886.9 L320.8,888.4 L321.8,890.8 L322.8,893.5 L323.8,895.7 L324.8,897.3 L325.8,898.9 L326.8,900.6 L327.8,902.3 L328.8,903.7 L329.8,905.1 L330.8,906.6 L331.8,908.1 L332.8,909.2 L333.8,910.4 L334.8,911.9 L335.8,913.1 L336.8,914.4 L337.8,915.7 L338.8,916.9 L339.8,917.9 L340.8,918.8 L341.8,919.7 L342.8,920.8 L343.8,922.0 L344.8,923.1 L345.8,924.0 L346.8,924.7 L347.8,925.5 L348.8,926.7 L349.8,927.7 L350.8,928.5 L351.8,929.4 L352.8,930.4 L353.8,931.1 L354.8,931.9 L355.8,932.8 L356.8,933.6 L357.8,934.5 L358.8,935.5 L359.8,936.3 L360.8,936.8 L361.8,937.4 L362.8,938.3 L363.8,939.2 L364.8,939.8 L365.8,940.4 L366.8,941.1 L367.8,941.9 L368.8,942.8 L369.8,943.6 L370.8,944.2 L371.8,944.8 L372.8,945.5 L373.8,946.2 L374.8,946.7 L375.8,947.5 L376.8,948.2 L377.8,948.8 L378.8,949.3 L379.8,949.9 L380.8,950.4 L381.8,950.9 L382.8,951.6 L383.8,952.4 L384.8,953.0 L385.8,953.5 L386.8,953.9 L387.8,954.3 L388.8,954.7 L389.8,955.2 L390.8,955.7 L391.8,956.1 L392.8,956.5 L393.8,956.8 L394.8,957.1 L395.8,957.5 L396.8,957.8 L397.8,958.2 L398.8,958.6 L399.8,958.9 L400.8,959.2 L401.8,959.5 L402.8,959.7 L403.8,959.9 L404.8,960.2 L405.8,960.3 L406.8,960.5 L407.8,960.6 L408.8,960.8 L409.8,960.9 L410.8,961.1 L411.8,961.3 L412.8,961.4 L413.8,961.5 L414.8,961.7 L415.8,961.9 L416.8,962.0 L417.8,962.1 L418.8,962.1 L419.8,962.2 L420.8,962.3 L421.8,962.4 L422.8,962.5 L423.8,962.7 L424.8,962.7 L425.8,962.8 L426.8,962.9 L427.8,963.1 L428.8,963.1 L429.8,963.2 L430.8,963.2 L431.8,963.3 L432.8,963.4 L433.8,963.5 L434.8,963.6 L435.8,963.6 L436.8,963.7 L437.8,963.7 L438.8,963.8 L439.8,963.9 L440.8,964.0 L441.8,964.0 L442.8,964.0 L443.8,964.1 L444.8,964.2 L445.8,964.3 L446.8,964.4 L447.8,964.4 L448.8,964.4 L449.8,964.4 L450.8,964.5 L451.8,964.6 L452.8,964.7 L453.8,964.7 L454.8,964.7 L455.8,964.8 L456.8,964.9 L457.8,964.9 L458.8,964.9 L459.8,964.9 L460.8,965.0 L461.8,965.1 L462.8,965.1 L463.8,965.2 L464.8,965.2 L465.8,965.3 L466.8,965.3 L467.8,965.4 L468.8,965.4 L469.8,965.4 L470.8,965.4 L471.8,965.5 L472.8,965.5 L473.8,965.5 L474.8,965.6 L475.8,965.6 L476.8,965.6 L477.8,965.6 L478.8,965.8 L479.8,965.8 L480.8,965.8 L481.8,965.8 L482.8,965.8 L483.8,965.8 L484.8,965.9 L485.8,966.0 L486.8,966.0 L487.8,966.0 L488.8,966.0 L489.8,966.0 L490.0,966.0 L491.0,966.0 L492.0,966.0 L493.0,966.0 L494.0,966.0 L495.0,966.0 L496.0,966.0 L497.0,966.1 L498.0,966.0 L499.0,966.0 L500.0,965.9 L501.0,966.0 L502.0,966.0 L503.0,965.9 L504.0,965.9 L505.0,965.9 L506.0,966.0 L507.0,966.0 L508.0,966.0 L509.0,966.0 L510.0,966.0 L511.0,966.0 L512.0,966.0 L513.0,966.0 L514.0,966.1 L515.0,966.1 L516.0,966.0 L517.0,965.9 L518.0,966.0 L519.0,966.0 L520.0,966.0 L521.0,966.0 L522.0,966.0 L523.0,966.0 L524.0,966.0 L525.0,966.0 L526.0,966.0 L527.0,966.0 L528.0,966.1 L529.0,966.0 L530.0,966.0 L531.0,966.0 L532.0,966.0 L533.0,965.9 L534.0,965.9 L535.0,966.0 L536.0,966.1 L537.0,966.1 L538.0,966.0 L539.0,966.0 L540.0,966.0 L541.0,966.0 L542.0,966.0 L543.0,966.0 L544.0,966.1 L545.0,966.0 L546.0,966.0 L547.0,966.0 L548.0,966.0 L549.0,965.9 L550.0,965.9 L551.0,965.9 L552.0,966.0 L553.0,966.0 L554.0,966.0 L555.0,966.0 L556.0,966.0 L557.0,966.0 L558.0,965.9 L559.0,966.0 L560.0,966.0 L561.0,966.0 L562.0,966.0 L563.0,966.0 L564.0,965.9 L565.0,965.9 L566.0,966.0 L567.0,966.0 L568.0,966.0 L569.0,966.1 L570.0,966.1 L571.0,966.0 L572.0,966.0 L573.0,965.9 L574.0,965.9 L575.0,966.0 L576.0,966.0 L577.0,966.0 L578.0,966.0 L579.0,966.0 L580.0,966.0 L581.0,966.0 L582.0,966.0 L583.0,966.0 L584.0,966.0 L585.0,966.0 L586.0,966.0 L587.0,966.0 L588.0,966.0 L589.0,966.0 L590.0,966.1 L591.0,966.0 L592.0,966.0 L593.0,966.0 L594.0,966.0 L595.0,966.0 L596.0,966.1 L597.0,966.1 L598.0,966.1 L599.0,966.0 L600.0,966.0 L601.0,966.0 L602.0,966.0 L603.0,966.0 L604.0,966.0 L605.0,966.0 L606.0,966.0 L607.0,966.0 L608.0,966.0 L609.0,966.1 L610.0,966.1 L611.0,966.1 L612.0,966.0 L613.0,966.0"/>
<path class="cb" stroke="#0000ff" d="M150.0,963.0 L151.0,963.0 L152.0,963.0 L153.0,963.0 L154.0,963.0 L155.0,963.0 L156.0,962.9 L157.0,962.9 L158.0,962.8 L159.0,962.8 L160.0,962.8 L161.0,962.8 L162.0,962.8 L163.0,962.7 L164.0,962.7 L165.0,962.8 L166.0,962.6 L167.0,962.5 L168.0,962.3 L169.0,962.1 L170.0,962.0 L171.0,961.7 L172.0,961.4 L173.0,961.1 L174.0,960.5 L175.0,959.7 L176.0,958.8 L177.0,957.1 L178.0,955.4 L179.0,953.8 L180.0,952.0 L181.0,949.9 L182.0,947.5 L183.0,945.1 L184.0,942.1 L185.0,938.2 L186.0,934.0 L187.0,930.1 L188.0,925.5 L189.0,920.2 L190.0,915.1 L191.0,909.6 L192.0,903.4 L193.0,897.0 L194.0,889.5 L195.0,881.3 L196.0,873.3 L197.0,865.6 L198.0,858.0 L199.0,850.6 L200.0,843.7 L201.0,837.1 L202.0,830.2 L203.0,822.8 L204.0,815.7 L205.0,808.8 L206.0,801.0 L207.0,792.5 L208.0,783.6 L209.0,774.7 L210.0,766.0 L211.0,757.4 L212.0,749.3 L213.0,742.0 L214.0,735.8 L215.0,730.1 L216.0,724.6 L217.0,719.4 L218.0,714.4 L219.0,708.6 L220.0,701.8 L221.0,695.1 L222.0,688.4 L223.0,681.2 L224.0,673.6 L225.0,666.1 L226.0,659.3 L227.0,653.4 L228.0,647.9 L229.0,642.8 L230.0,638.2 L231.0,634.4 L232.0,631.6 L233.0,629.0 L234.0,626.3 L235.0,623.8 L236.0,621.0 L237.0,619.0 L238.0,617.9 L239.0,617.0 L240.0,616.2 L241.0,615.4 L242.0,614.8 L243.0,614.5 L244.0,614.3 L245.0,614.2 L246.0,614.5 L247.0,615.0 L248.0,615.4 L249.0,616.2 L250.0,617.5 L251.0,618.4 L252.0,619.4 L253.0,621.0 L254.0,623.1 L255.0,624.9 L256.0,626.5 L257.0,628.9 L258.0,631.6 L259.0,634.5 L260.0,637.4 L261.0,639.7 L262.0,642.7 L263.0,647.0 L264.0,651.3 L265.0,655.0 L266.0,659.1 L267.0,663.3 L268.0,667.1 L269.0,671.3 L270.0,675.6 L271.0,680.0 L272.0,684.7 L273.0,689.0 L274.0,692.6 L275.0,696.1 L276.0,700.0 L277.0,704.1 L278.0,707.8 L279.0,711.1 L280.0,714.2 L281.0,717.7 L282.0,721.3 L283.0,724.4 L284.0,727.5 L285.0,730.6 L286.0,733.2 L287.0,736.3 L288.0,740.2 L289.0,743.8 L290.0,746.9 L291.0,749.6 L292.0,752.9 L293.0,756.8 L294.0,761.5 L295.0,766.4 L296.0,770.6 L297.0,774.5 L298.0,778.6 L299.0,782.8 L300.0,786.6 L301.0,790.4 L302.0,793.7 L303.0,796.6 L304.0,800.5 L305.0,804.3 L306.0,807.1 L307.0,809.7 L308.0,812.4 L309.0,815.4 L310.0,818.5 L311.0,820.7 L312.0,822.4 L313.0,824.5 L314.0,827.3 L315.0,829.7 L316.0,832.3 L317.0,835.7 L318.0,838.0 L319.0,839.9 L320.0,842.6 L321.0,845.1 L322.0,847.2 L323.0,849.4 L324.0,851.2 L325.0,853.2 L326.0,855.6 L327.0,858.4 L328.0,861.1 L329.0,863.1 L330.0,865.1 L331.0,867.8 L332.0,870.4 L333.0,872.9 L334.0,875.2 L335.0,877.0 L336.0,878.9 L337.0,881.3 L338.0,883.6 L339.0,885.6 L340.0,888.1 L341.0,890.4 L342.0,891.9 L343.0,893.7 L344.0,895.7 L345.0,896.9 L346.0,898.2 L347.0,899.9 L348.0,901.8 L349.0,903.5 L350.0,904.8 L351.0,906.3 L352.0,907.9 L353.0,909.1 L354.0,909.9 L355.0,911.3 L356.0,912.8 L357.0,914.1 L358.0,915.1 L359.0,916.0 L360.0,917.0 L361.0,918.1 L362.0,919.3 L363.0,920.5 L364.0,921.6 L365.0,922.4 L366.0,923.4 L367.0,924.3 L368.0,925.3 L369.0,926.4 L370.0,927.3 L371.0,928.2 L372.0,929.0 L373.0,929.8 L374.0,930.5 L375.0,931.4 L376.0,932.4 L377.0,933.4 L378.0,934.2 L379.0,935.0 L380.0,935.9 L381.0,936.6 L382.0,937.4 L383.0,938.2 L384.0,938.8 L385.0,939.5 L386.0,940.2 L387.0,940.9 L388.0,941.7 L389.0,942.5 L390.0,943.1 L391.0,943.6 L392.0,944.1 L393.0,944.8 L394.0,945.6 L395.0,946.2 L396.0,946.7 L397.0,947.3 L398.0,947.9 L399.0,948.4 L400.0,949.0 L401.0,949.7 L402.0,950.2 L403.0,950.6 L404.0,951.0 L405.0,951.4 L406.0,951.9 L407.0,952.4 L408.0,952.8 L409.0,953.2 L410.0,953.7 L411.0,954.1 L412.0,954.5 L413.0,955.0 L414.0,955.2 L415.0,955.4 L416.0,955.7 L417.0,956.1 L418.0,956.4 L419.0,956.8 L420.0,957.1 L421.0,957.4 L422.0,957.6 L423.0,957.8 L424.0,958.0 L425.0,958.2 L426.0,958.5 L427.0,958.8 L428.0,959.0 L429.0,959.2 L430.0,959.4 L431.0,959.5 L432.0,959.6 L433.0,959.7 L434.0,959.9 L435.0,960.1 L436.0,960.2 L437.0,960.3 L438.0,960.5 L439.0,960.5 L440.0,960.6 L441.0,960.7 L442.0,960.8 L443.0,960.9 L444.0,961.0 L445.0,961.1 L446.0,961.2 L447.0,961.3 L448.0,961.3 L449.0,961.4 L450.0,961.5 L451.0,961.5 L452.0,961.6 L453.0,961.7 L454.0,961.8 L455.0,961.9 L456.0,962.1 L457.0,962.2 L458.0,962.3 L459.0,962.4 L460.0,962.4 L461.0,962.5 L462.0,962.6 L463.0,962.6 L464.0,962.7 L465.0,962.9 L466.0,962.9 L467.0,963.0 L468.0,963.1 L469.0,963.1 L470.0,963.1 L471.0,963.2 L472.0,963.3 L473.0,963.3 L474.0,963.5 L475.0,963.6 L476.0,963.6 L477.0,963.6 L478.0,963.7 L479.0,963.7 L480.0,963.9 L481.0,964.0 L482.0,964.0 L483.0,964.0 L484.0,964.1 L485.0,964.2 L486.0,964.3 L487.0,964.3 L488.0,964.4 L489.0,964.4 L490.0,964.5 L491.0,964.6 L492.0,964.6 L493.0,964.7 L494.0,964.7 L495.0,964.8 L496.0,964.8 L497.0,964.8 L498.0,964.9 L499.0,965.0 L500.0,965.0 L501.0,965.0 L502.0,965.2 L503.0,965.3 L504.0,965.4 L505.0,965.3 L506.0,965.3 L507.0,965.4 L508.0,965.5 L509.0,965.5 L510.0,965.6 L511.0,965.6 L512.0,965.8 L513.0,965.8 L514.0,965.7 L515.0,965.8 L516.0,965.9 L517.0,965.9 L518.0,966.0 L519.0,966.0 L520.0,966.0 L521.0,966.9 L522.0,965.6 L523.0,966.2 L524.0,966.9 L525.0,966.3 L526.0,964.9 L527.0,966.2 L528.0,965.8 L529.0,965.9 L530.0,966.6 L531.0,966.3 L532.0,965.9 L533.0,966.4 L534.0,966.2 L535.0,966.0 L536.0,966.1 L537.0,966.1 L538.0,965.8 L539.0,965.7 L540.0,966.0 L541.0,965.4 L542.0,965.2 L543.0,966.7 L544.0,966.0 L545.0,966.1 L546.0,965.9 L547.0,966.0 L548.0,965.9 L549.0,966.0 L550.0,965.6 L551.0,966.5 L552.0,965.6 L553.0,966.5 L554.0,964.9 L555.0,965.3 L556.0,966.5 L557.0,965.8 L558.0,965.5 L559.0,966.1 L560.0,965.4 L561.0,966.1 L562.0,964.8 L563.0,965.8 L564.0,965.7 L565.0,966.3 L566.0,966.5 L567.0,965.5 L568.0,966.8 L569.0,965.6 L570.0,964.8 L571.0,964.6 L572.0,966.8 L573.0,966.0 L574.0,965.6 L575.0,965.5 L576.0,965.4 L577.0,966.8 L578.0,966.1 L579.0,967.1 L580.0,965.9 L581.0,964.6 L582.0,966.4 L583.0,965.8 L584.0,965.9 L585.0,966.8 L586.0,965.8 L587.0,966.6 L588.0,965.9 L589.0,965.6 L590.0,966.4 L591.0,965.8 L592.0,966.8 L593.0,966.6 L594.0,966.0 L595.0,966.2 L596.0,966.2 L597.0,965.8 L598.0,966.5 L599.0,966.0 L600.0,966.4 L601.0,965.4 L602.0,966.0 L603.0,966.2 L604.0,965.6 L605.0,965.7 L606.0,965.6 L607.0,966.4 L608.0,965.7 L609.0,966.2 L610.0,966.8 L611.0,966.2 L612.0,965.2 L613.0,966.1"/>
<path class="cb" stroke="#00ffff" d="M128.0,960.0 L129.0,960.0 L130.0,960.0 L131.0,960.1 L132.0,960.0 L133.0,960.0 L134.0,960.0 L135.0,960.0 L136.0,960.0 L137.0,960.0 L138.0,960.0 L139.0,960.0 L140.0,960.0 L141.0,960.0 L142.0,959.9 L143.0,959.9 L144.0,960.0 L145.0,960.0 L146.0,960.0 L147.0,960.0 L148.0,960.0 L149.0,960.0 L150.0,960.0 L151.0,959.9 L152.0,959.9 L153.0,960.0 L154.0,960.0 L155.0,960.0 L156.0,960.0 L157.0,960.0 L158.0,960.0 L159.0,960.0 L160.0,960.0 L161.0,960.0 L162.0,960.0 L163.0,959.9 L164.0,959.7 L165.0,959.5 L166.0,959.2 L167.0,958.8 L168.0,958.2 L169.0,957.6 L170.0,956.9 L171.0,956.2 L172.0,955.5 L173.0,954.3 L174.0,952.7 L175.0,951.1 L176.0,949.4 L177.0,947.0 L178.0,944.1 L179.0,940.8 L180.0,936.7 L181.0,931.7 L182.0,926.6 L183.0,921.1 L184.0,915.4 L185.0,908.8 L186.0,900.8 L187.0,891.9 L188.0,883.2 L189.0,874.4 L190.0,865.2 L191.0,856.6 L192.0,848.6 L193.0,841.2 L194.0,835.0 L195.0,829.1 L196.0,822.7 L197.0,815.8 L198.0,808.6 L199.0,801.0 L200.0,792.4 L201.0,783.0 L202.0,773.3 L203.0,763.9 L204.0,754.3 L205.0,745.1 L206.0,737.5 L207.0,731.1 L208.0,724.7 L209.0,718.9 L210.0,712.9 L211.0,706.1 L212.0,699.4 L213.0,692.6 L214.0,685.3 L215.0,677.9 L216.0,671.0 L217.0,664.4 L218.0,657.7 L219.0,651.7 L220.0,646.2 L221.0,641.6 L222.0,637.6 L223.0,633.5 L224.0,630.3 L225.0,627.7 L226.0,625.0 L227.0,623.2 L228.0,621.3 L229.0,619.3 L230.0,617.7 L231.0,616.6 L232.0,615.7 L233.0,615.1 L234.0,614.6 L235.0,614.4 L236.0,614.4 L237.0,614.5 L238.0,614.8 L239.0,615.2 L240.0,615.8 L241.0,616.6 L242.0,617.5 L243.0,618.8 L244.0,620.1 L245.0,621.3 L246.0,622.7 L247.0,624.6 L248.0,626.6 L249.0,628.6 L250.0,630.6 L251.0,633.1 L252.0,636.1 L253.0,638.7 L254.0,641.3 L255.0,644.9 L256.0,648.9 L257.0,652.9 L258.0,656.9 L259.0,661.1 L260.0,665.8 L261.0,670.8 L262.0,675.6 L263.0,679.9 L264.0,684.1 L265.0,688.3 L266.0,692.7 L267.0,697.1 L268.0,701.0 L269.0,704.2 L270.0,707.6 L271.0,711.1 L272.0,714.5 L273.0,717.9 L274.0,721.1 L275.0,724.4 L276.0,728.0 L277.0,731.3 L278.0,734.2 L279.0,737.6 L280.0,741.3 L281.0,744.8 L282.0,748.6 L283.0,752.9 L284.0,757.2 L285.0,761.2 L286.0,765.6 L287.0,770.6 L288.0,775.0 L289.0,778.8 L290.0,783.2 L291.0,787.7 L292.0,791.6 L293.0,795.6 L294.0,799.3 L295.0,802.7 L296.0,806.0 L297.0,809.2 L298.0,812.3 L299.0,815.7 L300.0,819.7 L301.0,823.0 L302.0,825.6 L303.0,828.2 L304.0,831.1 L305.0,833.9 L306.0,836.6 L307.0,838.9 L308.0,841.1 L309.0,843.7 L310.0,846.1 L311.0,848.4 L312.0,851.1 L313.0,854.2 L314.0,856.8 L315.0,859.2 L316.0,862.2 L317.0,864.9 L318.0,866.7 L319.0,869.0 L320.0,871.7 L321.0,874.3 L322.0,876.3 L323.0,878.4 L324.0,880.7 L325.0,882.8 L326.0,885.4 L327.0,888.1 L328.0,890.2 L329.0,892.2 L330.0,894.1 L331.0,896.0 L332.0,897.5 L333.0,899.1 L334.0,900.9 L335.0,902.8 L336.0,904.8 L337.0,906.5 L338.0,907.6 L339.0,908.8 L340.0,910.2 L341.0,911.9 L342.0,913.6 L343.0,914.8 L344.0,915.9 L345.0,917.2 L346.0,918.6 L347.0,919.8 L348.0,920.9 L349.0,922.2 L350.0,923.4 L351.0,924.4 L352.0,925.6 L353.0,926.5 L354.0,927.4 L355.0,928.3 L356.0,929.1 L357.0,929.9 L358.0,930.8 L359.0,931.8 L360.0,932.8 L361.0,933.7 L362.0,934.6 L363.0,935.2 L364.0,935.8 L365.0,936.7 L366.0,937.5 L367.0,938.3 L368.0,939.2 L369.0,940.0 L370.0,940.8 L371.0,941.4 L372.0,942.1 L373.0,942.8 L374.0,943.4 L375.0,944.2 L376.0,944.9 L377.0,945.5 L378.0,946.3 L379.0,947.1 L380.0,947.6 L381.0,947.9 L382.0,948.6 L383.0,949.3 L384.0,949.9 L385.0,950.5 L386.0,951.0 L387.0,951.6 L388.0,952.1 L389.0,952.6 L390.0,953.1 L391.0,953.7 L392.0,954.2 L393.0,954.6 L394.0,955.0 L395.0,955.5 L396.0,956.0 L397.0,956.4 L398.0,956.7 L399.0,957.1 L400.0,957.5 L401.0,957.7 L402.0,958.1 L403.0,958.4 L404.0,958.7 L405.0,959.0 L406.0,959.3 L407.0,959.5 L408.0,959.7 L409.0,959.9 L410.0,960.1 L411.0,960.3 L412.0,960.5 L413.0,960.7 L414.0,960.9 L415.0,961.0 L416.0,961.2 L417.0,961.4 L418.0,961.5 L419.0,961.7 L420.0,961.8 L421.0,961.9 L422.0,962.1 L423.0,962.2 L424.0,962.3 L425.0,962.5 L426.0,962.7 L427.0,962.8 L428.0,962.8 L429.0,962.9 L430.0,963.0 L431.0,963.1 L432.0,963.2 L433.0,963.3 L434.0,963.4 L435.0,963.5 L436.0,963.6 L437.0,963.6 L438.0,963.7 L439.0,963.8 L440.0,963.9 L441.0,964.0 L442.0,964.0 L443.0,964.0 L444.0,964.1 L445.0,964.2 L446.0,964.2 L447.0,964.3 L448.0,964.4 L449.0,964.4 L450.0,964.4 L451.0,964.5 L452.0,964.6 L453.0,964.6 L454.0,964.7 L455.0,964.8 L456.0,964.9 L457.0,964.8 L458.0,964.8 L459.0,964.9 L460.0,965.0 L461.0,965.0 L462.0,965.1 L463.0,965.1 L464.0,965.0 L465.0,965.0 L466.0,965.2 L467.0,965.3 L468.0,965.3 L469.0,965.3 L470.0,965.4 L471.0,965.5 L472.0,965.5 L473.0,965.5 L474.0,965.6 L475.0,965.6 L476.0,965.6 L477.0,965.6 L478.0,965.7 L479.0,965.7 L480.0,965.7 L481.0,965.7 L482.0,965.8 L483.0,965.8 L484.0,965.9 L485.0,965.9 L486.0,965.9 L487.0,965.8 L488.0,965.9 L489.0,965.9 L490.0,965.9 L491.0,965.9 L492.0,966.0 L493.0,966.0 L494.0,966.0 L495.0,965.9 L496.0,966.0 L497.0,966.0 L498.0,966.0 L499.0,965.9 L500.0,965.9 L501.0,966.0 L502.0,966.0 L503.0,966.0 L504.0,966.1 L505.0,966.1 L506.0,966.0 L507.0,965.9 L508.0,965.9 L509.0,966.0 L510.0,966.0 L511.0,966.0 L512.0,966.0 L513.0,966.1 L514.0,966.1 L515.0,966.0 L516.0,966.0 L517.0,965.9 L518.0,965.9 L519.0,965.9 L520.0,966.0 L521.0,966.1 L522.0,966.1 L523.0,966.0 L524.0,966.0 L525.0,966.0 L526.0,966.0 L527.0,966.0 L528.0,966.0 L529.0,966.0 L530.0,966.0 L531.0,966.0 L532.0,966.0 L533.0,966.0 L534.0,966.0 L535.0,966.0 L536.0,966.1 L537.0,966.1 L538.0,966.1 L539.0,966.0 L540.0,966.0 L541.0,966.0 L542.0,966.0 L543.0,965.9 L544.0,966.0 L545.0,966.1 L546.0,966.1 L547.0,966.0 L548.0,966.0 L549.0,966.0 L550.0,966.0 L551.0,966.0 L552.0,966.0 L553.0,966.0 L554.0,966.0 L555.0,966.0 L556.0,966.0 L557.0,966.0 L558.0,966.0 L559.0,966.0 L560.0,965.9 L561.0,966.0 L562.0,966.0 L563.0,966.0 L564.0,965.9 L565.0,965.9 L566.0,966.0 L567.0,966.0 L568.0,966.0 L569.0,966.0 L570.0,966.0 L571.0,966.0 L572.0,965.9 L573.0,966.0 L574.0,966.0 L575.0,966.0 L576.0,966.0 L577.0,966.0 L578.0,966.0 L579.0,965.9 L580.0,965.9 L581.0,966.0 L582.0,966.0 L583.0,966.0 L584.0,965.9 L585.0,966.0 L586.0,966.0 L587.0,966.0 L588.0,965.9 L589.0,966.0 L590.0,966.0 L591.0,966.0 L592.0,966.0 L593.0,966.0 L594.0,966.0 L595.0,966.0 L596.0,965.9 L597.0,965.9 L598.0,966.0 L599.0,966.0 L600.0,966.0 L601.0,966.0 L602.0,966.0 L603.0,966.0 L604.0,966.0 L605.0,966.0 L606.0,966.0 L607.0,966.0 L608.0,966.1 L609.0,966.0 L610.0,966.0 L611.0,966.0 L612.0,966.1 L613.0,966.1"/>
<path class="cb" stroke="#ff00ff" d="M184.9,966.0 L185.9,966.0 L186.9,966.0 L187.9,966.0 L188.9,965.9 L189.9,965.8 L190.9,965.7 L191.9,965.7 L192.9,965.7 L193.9,965.6 L194.9,965.5 L195.9,965.4 L196.9,965.3 L197.9,965.1 L198.9,964.8 L199.9,964.6 L200.9,964.3 L201.9,963.8 L202.9,963.3 L203.9,962.9 L204.9,962.2 L205.9,960.7 L206.9,958.8 L207.9,957.5 L208.9,956.0 L209.9,953.8 L210.9,952.0 L211.9,950.0 L212.9,946.8 L213.9,943.6 L214.9,940.9 L215.9,937.9 L216.9,934.6 L217.9,931.4 L218.9,928.0 L219.9,923.9 L220.9,919.6 L221.9,915.5 L222.9,911.1 L223.9,906.4 L224.9,901.5 L225.9,895.9 L226.9,889.8 L227.9,884.2 L228.9,878.7 L229.9,872.4 L230.9,865.7 L231.9,859.3 L232.9,852.7 L233.9,846.5 L234.9,841.1 L235.9,835.6 L236.9,829.8 L237.9,824.0 L238.9,818.1 L239.9,812.1 L240.9,806.2 L241.9,799.9 L242.9,793.2 L243.9,786.2 L244.9,778.7 L245.9,771.9 L246.9,765.7 L247.9,759.0 L248.9,751.8 L249.9,744.8 L250.9,738.4 L251.9,732.7 L252.9,726.8 L253.9,720.7 L254.9,715.4 L255.9,710.2 L256.9,704.5 L257.9,699.1 L258.9,693.9 L259.9,688.9 L260.9,684.3 L261.9,679.3 L262.9,674.4 L263.9,670.3 L264.9,665.8 L265.9,661.4 L266.9,657.3 L267.9,652.9 L268.9,649.2 L269.9,645.5 L270.9,641.6 L271.9,638.7 L272.9,635.9 L273.9,632.9 L274.9,630.2 L275.9,627.9 L276.9,625.6 L277.9,623.7 L278.9,622.0 L279.9,620.7 L280.9,619.5 L281.9,618.1 L282.9,617.0 L283.9,616.3 L284.9,615.7 L285.9,615.2 L286.9,614.8 L287.9,614.4 L288.9,614.3 L289.9,614.3 L290.9,614.5 L291.9,614.7 L292.9,615.0 L293.9,615.4 L294.9,616.2 L295.9,617.0 L296.9,617.6 L297.9,618.4 L298.9,619.3 L299.9,620.3 L300.9,621.6 L301.9,622.9 L302.9,624.2 L303.9,625.7 L304.9,627.7 L305.9,629.8 L306.9,631.7 L307.9,633.6 L308.9,635.6 L309.9,638.4 L310.9,641.1 L311.9,643.5 L312.9,646.3 L313.9,649.5 L314.9,652.6 L315.9,655.6 L316.9,658.7 L317.9,661.7 L318.9,664.4 L319.9,667.2 L320.9,670.5 L321.9,673.9 L322.9,677.1 L323.9,680.1 L324.9,683.3 L325.9,686.8 L326.9,690.1 L327.9,693.2 L328.9,696.2 L329.9,699.1 L330.9,702.1 L331.9,705.1 L332.9,707.9 L333.9,710.7 L334.9,713.9 L335.9,717.1 L336.9,719.6 L337.9,722.0 L338.9,724.9 L339.9,727.9 L340.9,730.8 L341.9,733.2 L342.9,736.0 L343.9,739.3 L344.9,742.4 L345.9,745.7 L346.9,749.2 L347.9,752.8 L348.9,756.1 L349.9,759.0 L350.9,761.8 L351.9,765.0 L352.9,768.6 L353.9,772.0 L354.9,775.3 L355.9,779.0 L356.9,782.8 L357.9,786.1 L358.9,789.2 L359.9,792.2 L360.9,795.1 L361.9,797.7 L362.9,800.5 L363.9,803.8 L364.9,806.9 L365.9,809.3 L366.9,811.5 L367.9,813.9 L368.9,816.5 L369.9,818.8 L370.9,821.2 L371.9,823.3 L372.9,825.4 L373.9,827.9 L374.9,830.1 L375.9,832.2 L376.9,834.3 L377.9,836.2 L378.9,838.2 L379.9,840.3 L380.9,842.2 L381.9,844.1 L382.9,845.7 L383.9,847.4 L384.9,849.5 L385.9,851.6 L386.9,853.8 L387.9,855.6 L388.9,857.0 L389.9,858.6 L390.9,860.2 L391.9,862.1 L392.9,863.9 L393.9,865.3 L394.9,867.2 L395.9,869.4 L396.9,871.3 L397.9,872.9 L398.9,874.7 L399.9,876.7 L400.9,878.0 L401.9,879.4 L402.9,881.4 L403.9,882.9 L404.9,884.2 L405.9,885.8 L406.9,887.3 L407.9,888.7 L408.9,890.0 L409.9,891.3 L410.9,892.9 L411.9,894.1 L412.9,895.2 L413.9,896.6 L414.9,898.1 L415.9,899.3 L416.9,900.6 L417.9,901.9 L418.9,902.9 L419.9,904.0 L420.9,905.4 L421.9,906.8 L422.9,908.0 L423.9,909.1 L424.9,910.1 L425.9,911.2 L426.9,912.2 L427.9,913.2 L428.9,914.4 L429.9,915.5 L430.9,916.4 L431.9,917.4 L432.9,918.1 L433.9,918.9 L434.9,919.9 L435.9,920.8 L436.9,921.6 L437.9,922.6 L438.9,923.5 L439.9,924.2 L440.9,924.9 L441.9,925.7 L442.9,926.5 L443.9,927.2 L444.9,927.9 L445.9,928.6 L446.9,929.4 L447.9,930.3 L448.9,931.2 L449.9,932.0 L450.9,932.7 L451.9,933.4 L452.9,934.1 L453.9,934.7 L454.9,935.3 L455.9,936.0 L456.9,936.6 L457.9,937.2 L458.9,937.8 L459.9,938.5 L460.9,939.1 L461.9,939.7 L462.9,940.4 L463.9,941.0 L464.9,941.6 L465.9,942.3 L466.9,942.8 L467.9,943.3 L468.9,943.8 L469.9,944.2 L470.9,944.7 L471.9,945.3 L472.9,946.0 L473.9,946.4 L474.9,947.0 L475.9,947.6 L476.9,948.0 L477.9,948.5 L478.9,949.0 L479.9,949.4 L480.9,949.8 L481.9,950.1 L482.9,950.4 L483.9,950.7 L484.9,951.1 L485.9,951.3 L486.9,951.8 L487.9,952.2 L488.9,952.5 L489.9,952.7 L490.9,953.0 L491.9,953.3 L492.9,953.6 L493.9,953.9 L494.9,954.1 L495.9,954.4 L496.9,954.7 L497.9,955.0 L498.9,955.3 L499.9,955.6 L500.9,955.8 L501.9,956.0 L502.9,956.2 L503.9,956.4 L504.9,956.6 L505.9,956.8 L506.9,957.1 L507.9,957.4 L508.9,957.6 L509.9,957.8 L510.9,958.0 L511.9,958.2 L512.9,958.4 L513.9,958.6 L514.9,958.9 L515.9,959.1 L516.9,959.3 L517.9,959.4 L518.9,959.6 L519.9,959.8 L520.9,959.9 L521.9,959.8 L522.9,961.2 L523.9,959.7 L524.9,960.3 L525.9,961.0 L526.9,961.3 L527.9,961.7 L528.9,961.5 L529.9,962.7 L530.9,961.4 L531.9,961.9 L532.9,962.4 L533.9,961.9 L534.9,962.1 L535.9,962.2 L536.9,962.2 L537.9,962.1 L538.9,962.5 L539.9,962.1 L540.9,963.3 L541.9,962.4 L542.9,964.5 L543.9,964.4 L544.9,964.2 L545.9,963.6 L546.9,963.5 L547.9,964.5 L548.9,964.1 L549.9,964.4 L550.9,963.8 L551.9,964.8 L552.9,963.9 L553.9,964.5 L554.9,963.6 L555.9,964.2 L556.9,964.9 L557.9,964.4 L558.9,964.5 L559.9,965.2 L560.9,964.8 L561.9,965.6 L562.9,963.7 L563.9,965.4 L564.9,965.5 L565.9,964.3 L566.9,964.4 L567.9,965.7 L568.9,964.7 L569.9,964.9 L570.9,965.6 L571.9,965.2 L572.9,965.7 L573.9,965.0 L574.9,965.6 L575.9,966.1 L576.9,965.8 L577.9,964.4 L578.9,966.0 L579.9,965.7 L580.9,965.1 L581.9,966.4 L582.9,964.8 L583.9,966.8 L584.9,965.4 L585.9,966.6 L586.9,965.7 L587.9,965.0 L588.9,965.7 L589.9,965.9 L590.0,966.1 L591.0,966.4 L592.0,965.3 L593.0,966.1 L594.0,966.2 L595.0,965.6 L596.0,965.2 L597.0,965.2 L598.0,966.2 L599.0,966.3 L600.0,965.4 L601.0,965.1 L602.0,966.5 L603.0,964.9 L604.0,965.9 L605.0,965.4 L606.0,964.9 L607.0,965.9 L608.0,965.7 L609.0,966.7 L610.0,967.2 L611.0,965.8 L612.0,966.4 L613.0,966.4"/>
<path class="cb" stroke="#000080" d="M150.0,961.9 L151.0,962.0 L152.0,962.0 L153.0,962.0 L154.0,962.0 L155.0,962.0 L156.0,962.0 L157.0,962.0 L158.0,962.0 L159.0,962.1 L160.0,962.0 L161.0,961.9 L162.0,961.9 L163.0,961.9 L164.0,961.9 L165.0,962.1 L166.0,962.1 L167.0,962.0 L168.0,961.9 L169.0,961.9 L170.0,961.8 L171.0,961.9 L172.0,962.0 L173.0,962.0 L174.0,961.8 L175.0,961.8 L176.0,961.9 L177.0,961.9 L178.0,961.9 L179.0,961.9 L180.0,961.8 L181.0,961.8 L182.0,961.8 L183.0,961.8 L184.0,961.7 L185.0,961.6 L186.0,961.6 L187.0,961.5 L188.0,961.4 L189.0,961.2 L190.0,960.9 L191.0,960.5 L192.0,960.0 L193.0,959.5 L194.0,959.2 L195.0,959.0 L196.0,958.6 L197.0,957.7 L198.0,956.8 L199.0,956.3 L200.0,955.5 L201.0,954.4 L202.0,953.1 L203.0,951.6 L204.0,950.4 L205.0,949.6 L206.0,948.0 L207.0,945.3 L208.0,942.8 L209.0,940.8 L210.0,938.5 L211.0,935.3 L212.0,932.0 L213.0,929.2 L214.0,926.0 L215.0,921.7 L216.0,917.7 L217.0,914.2 L218.0,910.3 L219.0,905.6 L220.0,900.2 L221.0,894.2 L222.0,888.2 L223.0,881.7 L224.0,875.2 L225.0,868.8 L226.0,862.6 L227.0,856.3 L228.0,849.6 L229.0,843.4 L230.0,838.0 L231.0,832.8 L232.0,826.9 L233.0,820.8 L234.0,814.9 L235.0,808.1 L236.0,801.0 L237.0,793.8 L238.0,785.8 L239.0,777.3 L240.0,768.6 L241.0,759.8 L242.0,751.3 L243.0,743.7 L244.0,737.4 L245.0,731.5 L246.0,725.7 L247.0,719.9 L248.0,714.0 L249.0,708.8 L250.0,704.3 L251.0,699.2 L252.0,693.5 L253.0,688.2 L254.0,682.9 L255.0,676.8 L256.0,670.9 L257.0,665.8 L258.0,661.0 L259.0,655.6 L260.0,649.7 L261.0,644.3 L262.0,640.1 L263.0,636.1 L264.0,631.7 L265.0,628.0 L266.0,624.9 L267.0,621.8 L268.0,619.8 L269.0,618.2 L270.0,616.4 L271.0,615.3 L272.0,614.8 L273.0,614.4 L274.0,614.3 L275.0,614.5 L276.0,614.9 L277.0,615.3 L278.0,616.2 L279.0,617.7 L280.0,619.5 L281.0,621.0 L282.0,622.4 L283.0,624.8 L284.0,627.2 L285.0,629.5 L286.0,632.5 L287.0,636.1 L288.0,639.4 L289.0,642.3 L290.0,646.0 L291.0,649.8 L292.0,653.6 L293.0,657.8 L294.0,661.2 L295.0,664.2 L296.0,667.9 L297.0,671.5 L298.0,675.0 L299.0,679.0 L300.0,682.7 L301.0,686.2 L302.0,690.3 L303.0,694.2 L304.0,697.4 L305.0,701.0 L306.0,705.1 L307.0,708.4 L308.0,711.5 L309.0,715.5 L310.0,720.0 L311.0,724.1 L312.0,727.8 L313.0,731.6 L314.0,735.2 L315.0,738.8 L316.0,742.9 L317.0,747.4 L318.0,751.9 L319.0,756.1 L320.0,759.6 L321.0,763.3 L322.0,767.9 L323.0,772.5 L324.0,776.6 L325.0,781.2 L326.0,785.7 L327.0,789.4 L328.0,792.7 L329.0,795.8 L330.0,799.4 L331.0,803.1 L332.0,807.0 L333.0,810.5 L334.0,813.8 L335.0,817.5 L336.0,820.6 L337.0,823.2 L338.0,825.8 L339.0,828.7 L340.0,832.4 L341.0,835.9 L342.0,838.2 L343.0,840.6 L344.0,843.4 L345.0,846.3 L346.0,848.9 L347.0,850.7 L348.0,852.7 L349.0,855.7 L350.0,858.9 L351.0,861.2 L352.0,863.4 L353.0,865.2 L354.0,867.2 L355.0,870.1 L356.0,872.6 L357.0,874.5 L358.0,876.7 L359.0,879.0 L360.0,881.1 L361.0,883.2 L362.0,884.7 L363.0,886.2 L364.0,888.4 L365.0,890.5 L366.0,892.4 L367.0,894.3 L368.0,896.1 L369.0,897.9 L370.0,899.7 L371.0,900.7 L372.0,901.6 L373.0,903.2 L374.0,905.0 L375.0,906.1 L376.0,907.2 L377.0,908.7 L378.0,910.1 L379.0,911.3 L380.0,912.4 L381.0,913.3 L382.0,914.3 L383.0,915.5 L384.0,916.4 L385.0,917.2 L386.0,918.3 L387.0,919.6 L388.0,921.0 L389.0,922.3 L390.0,923.2 L391.0,923.8 L392.0,924.6 L393.0,925.6 L394.0,926.5 L395.0,927.3 L396.0,928.0 L397.0,928.9 L398.0,930.2 L399.0,931.3 L400.0,932.2 L401.0,933.3 L402.0,934.1 L403.0,934.4 L404.0,935.1 L405.0,935.9 L406.0,936.8 L407.0,937.7 L408.0,938.6 L409.0,939.6 L410.0,940.4 L411.0,941.1 L412.0,941.7 L413.0,942.5 L414.0,943.2 L415.0,944.0 L416.0,944.6 L417.0,945.2 L418.0,945.8 L419.0,946.6 L420.0,947.4 L421.0,947.7 L422.0,948.1 L423.0,948.8 L424.0,949.1 L425.0,949.4 L426.0,950.1 L427.0,950.7 L428.0,951.2 L429.0,951.6 L430.0,951.9 L431.0,952.2 L432.0,952.4 L433.0,952.8 L434.0,953.3 L435.0,953.6 L436.0,953.8 L437.0,954.2 L438.0,954.5 L439.0,954.7 L440.0,954.9 L441.0,955.4 L442.0,955.7 L443.0,955.9 L444.0,956.2 L445.0,956.5 L446.0,956.9 L447.0,957.2 L448.0,957.5 L449.0,957.8 L450.0,958.1 L451.0,958.4 L452.0,958.7 L453.0,958.9 L454.0,959.2 L455.0,959.3 L456.0,959.5 L457.0,959.7 L458.0,959.9 L459.0,960.0 L460.0,960.1 L461.0,960.3 L462.0,960.4 L463.0,960.7 L464.0,960.8 L465.0,960.9 L466.0,961.0 L467.0,961.1 L468.0,961.3 L469.0,961.5 L470.0,961.6 L471.0,961.7 L472.0,961.8 L473.0,961.8 L474.0,962.0 L475.0,962.0 L476.0,962.2 L477.0,962.3 L478.0,962.5 L479.0,962.6 L480.0,962.6 L481.0,962.7 L482.0,962.8 L483.0,962.9 L484.0,963.0 L485.0,963.1 L486.0,963.2 L487.0,963.3 L488.0,963.5 L489.0,963.6 L490.0,963.6 L491.0,963.7 L492.0,963.8 L493.0,963.9 L494.0,964.0 L495.0,963.9 L496.0,964.0 L497.0,964.1 L498.0,964.2 L499.0,964.4 L500.0,964.6 L501.0,964.6 L502.0,964.7 L503.0,964.7 L504.0,964.7 L505.0,964.8 L506.0,964.9 L507.0,964.9 L508.0,964.9 L509.0,964.9 L510.0,964.9 L511.0,965.0 L512.0,965.1 L513.0,965.1 L514.0,965.1 L515.0,965.2 L516.0,965.3 L517.0,965.3 L518.0,965.4 L519.0,965.4 L520.0,965.4 L521.0,964.7 L522.0,964.7 L523.0,965.8 L524.0,964.6 L525.0,965.4 L526.0,966.2 L527.0,965.6 L528.0,965.4 L529.0,965.3 L530.0,965.2 L531.0,965.4 L532.0,966.0 L533.0,966.6 L534.0,966.4 L535.0,965.5 L536.0,965.5 L537.0,966.3 L538.0,964.9 L539.0,965.6 L540.0,965.8 L541.0,965.3 L542.0,965.4 L543.0,966.1 L544.0,965.0 L545.0,965.4 L546.0,965.7 L547.0,966.1 L548.0,965.2 L549.0,966.6 L550.0,965.8 L551.0,965.8 L552.0,965.8 L553.0,965.6 L554.0,965.4 L555.0,966.6 L556.0,966.1 L557.0,965.9 L558.0,966.5 L559.0,965.6 L560.0,966.3 L561.0,966.0 L562.0,965.5 L563.0,966.4 L564.0,965.1 L565.0,966.4 L566.0,965.5 L567.0,966.1 L568.0,966.7 L569.0,966.4 L570.0,965.7 L571.0,965.9 L572.0,965.7 L573.0,965.3 L574.0,965.3 L575.0,965.9 L576.0,966.3 L577.0,965.1 L578.0,966.0 L579.0,966.3 L580.0,966.0 L581.0,965.4 L582.0,966.6 L583.0,965.3 L584.0,966.2 L585.0,966.8 L586.0,964.9 L587.0,966.1 L588.0,966.1 L589.0,966.1 L590.0,965.5 L591.0,965.7 L592.0,965.1 L593.0,966.0 L594.0,966.2 L595.0,965.5 L596.0,965.4 L597.0,965.7 L598.0,965.9 L599.0,965.9 L600.0,966.0 L601.0,966.1 L602.0,965.3 L603.0,964.5 L604.0,966.3 L605.0,966.8 L606.0,965.2 L607.0,965.6 L608.0,966.1 L609.0,966.5 L610.0,966.3 L611.0,966.6 L612.0,965.9 L613.0,966.1"/>
<path class="cb" stroke="#808000" d="M150.0,965.6 L151.0,965.6 L152.0,965.6 L153.0,965.7 L154.0,965.6 L155.0,965.6 L156.0,965.6 L157.0,965.6 L158.0,965.5 L159.0,965.5 L160.0,965.5 L161.0,965.5 L162.0,965.5 L163.0,965.5 L164.0,965.5 L165.0,965.5 L166.0,965.5 L167.0,965.5 L168.0,965.5 L169.0,965.5 L170.0,965.5 L171.0,965.4 L172.0,965.3 L173.0,965.3 L174.0,965.4 L175.0,965.3 L176.0,965.2 L177.0,965.1 L178.0,965.0 L179.0,964.7 L180.0,964.3 L181.0,963.9 L182.0,963.4 L183.0,962.8 L184.0,962.2 L185.0,961.4 L186.0,960.2 L187.0,958.8 L188.0,957.2 L189.0,955.4 L190.0,953.4 L191.0,950.9 L192.0,948.7 L193.0,946.9 L194.0,944.4 L195.0,941.5 L196.0,938.1 L197.0,934.6 L198.0,931.0 L199.0,926.8 L200.0,922.3 L201.0,917.8 L202.0,912.9 L203.0,908.1 L204.0,903.1 L205.0,897.1 L206.0,890.6 L207.0,883.6 L208.0,876.5 L209.0,869.1 L210.0,861.4 L211.0,853.4 L212.0,845.6 L213.0,837.7 L214.0,829.5 L215.0,821.5 L216.0,813.6 L217.0,805.0 L218.0,796.0 L219.0,787.3 L220.0,778.8 L221.0,770.0 L222.0,761.4 L223.0,753.2 L224.0,745.1 L225.0,736.6 L226.0,728.2 L227.0,720.7 L228.0,713.0 L229.0,704.5 L230.0,695.7 L231.0,687.1 L232.0,678.2 L233.0,669.2 L234.0,661.1 L235.0,654.3 L236.0,648.6 L237.0,643.6 L238.0,638.9 L239.0,634.9 L240.0,631.8 L241.0,629.1 L242.0,626.5 L243.0,624.1 L244.0,622.2 L245.0,620.5 L246.0,619.0 L247.0,617.6 L248.0,616.5 L249.0,615.7 L250.0,615.0 L251.0,614.6 L252.0,614.3 L253.0,614.2 L254.0,614.4 L255.0,614.9 L256.0,615.4 L257.0,616.2 L258.0,617.1 L259.0,618.0 L260.0,619.3 L261.0,621.3 L262.0,623.4 L263.0,625.3 L264.0,627.5 L265.0,630.0 L266.0,632.7 L267.0,635.8 L268.0,639.1 L269.0,642.5 L270.0,646.0 L271.0,650.0 L272.0,654.2 L273.0,658.0 L274.0,661.8 L275.0,666.1 L276.0,670.7 L277.0,675.7 L278.0,680.3 L279.0,684.3 L280.0,688.1 L281.0,692.2 L282.0,696.6 L283.0,700.8 L284.0,704.8 L285.0,709.0 L286.0,713.2 L287.0,716.9 L288.0,720.1 L289.0,723.7 L290.0,727.9 L291.0,732.1 L292.0,736.4 L293.0,740.8 L294.0,744.8 L295.0,748.7 L296.0,753.0 L297.0,757.4 L298.0,761.4 L299.0,765.8 L300.0,770.3 L301.0,774.6 L302.0,778.8 L303.0,783.2 L304.0,787.7 L305.0,792.1 L306.0,796.4 L307.0,800.6 L308.0,804.8 L309.0,808.5 L310.0,811.9 L311.0,815.7 L312.0,819.4 L313.0,823.2 L314.0,826.6 L315.0,829.8 L316.0,833.1 L317.0,836.2 L318.0,839.5 L319.0,842.7 L320.0,845.7 L321.0,848.5 L322.0,851.4 L323.0,854.2 L324.0,857.1 L325.0,860.1 L326.0,863.1 L327.0,865.7 L328.0,868.5 L329.0,871.5 L330.0,873.8 L331.0,875.8 L332.0,878.4 L333.0,881.0 L334.0,883.4 L335.0,885.6 L336.0,887.7 L337.0,889.9 L338.0,892.2 L339.0,894.3 L340.0,896.1 L341.0,897.9 L342.0,899.8 L343.0,901.4 L344.0,903.3 L345.0,905.1 L346.0,906.7 L347.0,908.5 L348.0,910.1 L349.0,911.6 L350.0,913.3 L351.0,914.9 L352.0,916.1 L353.0,917.6 L354.0,919.1 L355.0,920.4 L356.0,921.4 L357.0,922.4 L358.0,923.5 L359.0,924.8 L360.0,926.0 L361.0,927.1 L362.0,928.1 L363.0,929.1 L364.0,929.9 L365.0,930.7 L366.0,931.8 L367.0,932.7 L368.0,933.4 L369.0,934.3 L370.0,935.3 L371.0,936.2 L372.0,937.2 L373.0,937.9 L374.0,938.5 L375.0,939.1 L376.0,939.9 L377.0,940.6 L378.0,941.4 L379.0,942.1 L380.0,942.8 L381.0,943.6 L382.0,944.4 L383.0,945.0 L384.0,945.5 L385.0,946.1 L386.0,946.9 L387.0,947.6 L388.0,948.1 L389.0,948.7 L390.0,949.4 L391.0,950.0 L392.0,950.6 L393.0,951.1 L394.0,951.7 L395.0,952.3 L396.0,952.9 L397.0,953.6 L398.0,954.2 L399.0,954.7 L400.0,955.2 L401.0,955.7 L402.0,956.2 L403.0,956.6 L404.0,957.0 L405.0,957.3 L406.0,957.7 L407.0,958.0 L408.0,958.4 L409.0,958.8 L410.0,959.0 L411.0,959.2 L412.0,959.5 L413.0,959.8 L414.0,960.0 L415.0,960.2 L416.0,960.4 L417.0,960.5 L418.0,960.7 L419.0,960.8 L420.0,961.0 L421.0,961.1 L422.0,961.2 L423.0,961.3 L424.0,961.5 L425.0,961.6 L426.0,961.8 L427.0,961.8 L428.0,961.9 L429.0,962.0 L430.0,962.2 L431.0,962.3 L432.0,962.3 L433.0,962.4 L434.0,962.5 L435.0,962.5 L436.0,962.6 L437.0,962.8 L438.0,962.8 L439.0,962.9 L440.0,962.9 L441.0,963.1 L442.0,963.2 L443.0,963.2 L444.0,963.3 L445.0,963.4 L446.0,963.5 L447.0,963.5 L448.0,963.6 L449.0,963.7 L450.0,963.7 L451.0,963.8 L452.0,963.9 L453.0,963.9 L454.0,964.0 L455.0,964.1 L456.0,964.1 L457.0,964.2 L458.0,964.3 L459.0,964.3 L460.0,964.4 L461.0,964.5 L462.0,964.5 L463.0,964.6 L464.0,964.6 L465.0,964.7 L466.0,964.7 L467.0,964.8 L468.0,964.9 L469.0,965.0 L470.0,965.1 L471.0,965.1 L472.0,965.1 L473.0,965.1 L474.0,965.3 L475.0,965.3 L476.0,965.4 L477.0,965.4 L478.0,965.4 L479.0,965.5 L480.0,965.5 L481.0,965.5 L482.0,965.5 L483.0,965.6 L484.0,965.8 L485.0,965.8 L486.0,965.7 L487.0,965.8 L488.0,965.9 L489.0,966.0 L490.0,966.0 L491.0,966.0 L492.0,966.1 L493.0,966.1 L494.0,966.1 L495.0,966.2 L496.0,966.1 L497.0,966.2 L498.0,966.2 L499.0,966.2 L500.0,966.2 L501.0,966.1 L502.0,966.1 L503.0,966.3 L504.0,966.3 L505.0,966.2 L506.0,966.2 L507.0,966.2 L508.0,966.2 L509.0,966.2 L510.0,966.2 L511.0,966.2 L512.0,966.2 L513.0,966.2 L514.0,966.3 L515.0,966.2 L516.0,966.2 L517.0,966.2 L518.0,966.2 L519.0,966.2 L520.0,966.2 L521.0,966.2 L522.0,966.2 L523.0,966.2 L524.0,966.2 L525.0,966.3 L526.0,966.3 L527.0,966.2 L528.0,966.2 L529.0,966.2 L530.0,966.2 L531.0,966.2 L532.0,966.2 L533.0,966.2 L534.0,966.2 L535.0,966.2 L536.0,966.2 L537.0,966.2 L538.0,966.2 L539.0,966.2 L540.0,966.3 L541.0,966.3 L542.0,966.3 L543.0,966.2 L544.0,966.3 L545.0,966.3 L546.0,966.2 L547.0,966.2 L548.0,966.2 L549.0,966.2 L550.0,966.2 L551.0,966.2 L552.0,966.2 L553.0,966.2 L554.0,966.2 L555.0,966.2 L556.0,966.2 L557.0,966.2 L558.0,966.2 L559.0,966.2 L560.0,966.2 L561.0,966.2 L562.0,966.2 L563.0,966.2 L564.0,966.2 L565.0,966.2 L566.0,966.2 L567.0,966.2 L568.0,966.2 L569.0,966.3 L570.0,966.3 L571.0,966.3 L572.0,966.3 L573.0,966.2 L574.0,966.2 L575.0,966.1 L576.0,966.2 L577.0,966.2 L578.0,966.2 L579.0,966.1 L580.0,966.2 L581.0,966.2 L582.0,966.2 L583.0,966.2 L584.0,966.2 L585.0,966.2 L586.0,966.2 L587.0,966.2 L588.0,966.2 L589.0,966.1 L590.0,966.1 L591.0,966.2 L592.0,966.2 L593.0,966.2 L594.0,966.2 L595.0,966.2 L596.0,966.2 L597.0,966.2 L598.0,966.2 L599.0,966.1 L600.0,966.1 L601.0,966.2 L602.0,966.3 L603.0,966.3 L604.0,966.2 L605.0,966.2 L606.0,966.2 L607.0,966.2 L608.0,966.2 L609.0,966.2 L610.0,966.2 L611.0,966.2 L612.0,966.2 L613.0,966.2"/>
</g>
<path class="ax" d="M150.8,970.0V978.4M266.6,970.0V978.4M382.5,970.0V978.4M498.3,970.0V978.4M614.2,970.0V978.4M208.7,970.0V974.3M324.6,970.0V974.3M440.4,970.0V974.3M556.3,970.0V974.3"/>
<rect class="ax" x="127.6" y="578.3" width="486.6" height="391.7"/>
<text class="tk" transform="translate(150.4,1005.8) scale(1.07,1)" text-anchor="middle">400</text>
<text class="tk" transform="translate(266.2,1005.8) scale(1.07,1)" text-anchor="middle">500</text>
<text class="tk" transform="translate(382.1,1005.8) scale(1.07,1)" text-anchor="middle">600</text>
<text class="tk" transform="translate(497.9,1005.8) scale(1.07,1)" text-anchor="middle">700</text>
<text class="tk" transform="translate(613.8,1005.8) scale(1.07,1)" text-anchor="middle">800</text>
<text class="ttl" x="370.5" y="1056" text-anchor="middle">Wavelength / nm</text>
<text class="ttl" transform="translate(92.9,963) rotate(-90)" font-size="31.15">Normalized Emission Intensity</text>
<text class="pl" x="-0.5" y="588.5">(b)</text>
<path d="M505,613.9H568.5" stroke="#000000" stroke-width="3.2" fill="none"/>
<text class="lg" transform="translate(575,622.9) scale(1,1.06)">1</text>
<path d="M505,649.0H568.5" stroke="#ff0000" stroke-width="3.2" fill="none"/>
<text class="lg" transform="translate(575,658.0) scale(1,1.06)">2</text>
<path d="M505,684.1H568.5" stroke="#00ff00" stroke-width="3.2" fill="none"/>
<text class="lg" transform="translate(575,693.1) scale(1,1.06)">3</text>
<path d="M505,719.2H568.5" stroke="#0000ff" stroke-width="3.2" fill="none"/>
<text class="lg" transform="translate(575,728.2) scale(1,1.06)">4</text>
<path d="M505,754.3H568.5" stroke="#00ffff" stroke-width="3.2" fill="none"/>
<text class="lg" transform="translate(575,763.3) scale(1,1.06)">5</text>
<path d="M505,789.4H568.5" stroke="#ff00ff" stroke-width="3.2" fill="none"/>
<text class="lg" transform="translate(575,798.4) scale(1,1.06)">6</text>
<path d="M505,824.5H568.5" stroke="#000080" stroke-width="3.2" fill="none"/>
<text class="lg" transform="translate(575,833.5) scale(1,1.06)">7</text>
<path d="M505,859.6H568.5" stroke="#808000" stroke-width="3.2" fill="none"/>
<text class="lg" transform="translate(575,868.6) scale(1,1.06)">8</text>
</g>
</svg></body></html>
